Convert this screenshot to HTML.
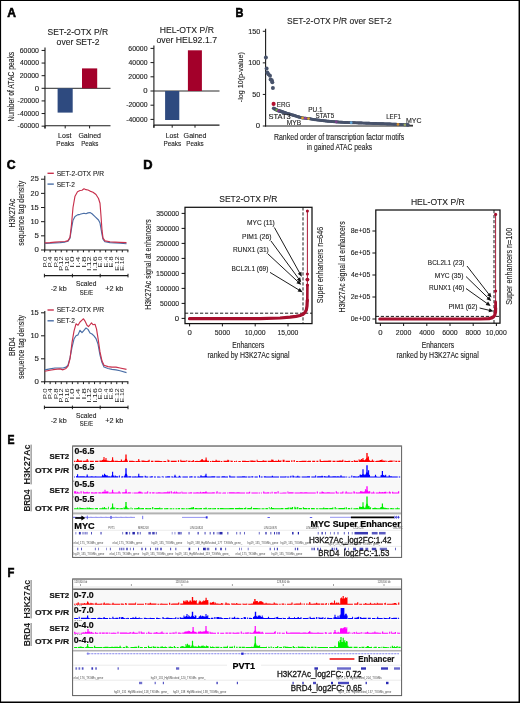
<!DOCTYPE html>
<html><head><meta charset="utf-8"><style>
html,body{margin:0;padding:0;background:#fff;}
svg{display:block;will-change:transform;}
svg text{font-family:"Liberation Sans", sans-serif;}
</style></head><body>
<svg width="520" height="703" viewBox="0 0 520 703">
<rect x="0.00" y="0.00" width="520.00" height="703.00" fill="#fff"/>
<text x="7.25" y="16.55" font-size="12.0" font-weight="bold" textLength="8.72" lengthAdjust="spacingAndGlyphs" fill="#000" stroke="#000" stroke-width="0.55">A</text>
<text x="235.52" y="16.75" font-size="12.0" font-weight="bold" textLength="7.93" lengthAdjust="spacingAndGlyphs" fill="#000" stroke="#000" stroke-width="0.55">B</text>
<text x="6.75" y="168.55" font-size="12.0" font-weight="bold" textLength="8.84" lengthAdjust="spacingAndGlyphs" fill="#000" stroke="#000" stroke-width="0.55">C</text>
<text x="143.39" y="169.35" font-size="12.0" font-weight="bold" textLength="9.30" lengthAdjust="spacingAndGlyphs" fill="#000" stroke="#000" stroke-width="0.55">D</text>
<text x="7.55" y="444.15" font-size="12.0" font-weight="bold" textLength="7.01" lengthAdjust="spacingAndGlyphs" fill="#000" stroke="#000" stroke-width="0.55">E</text>
<text x="7.50" y="576.75" font-size="12.0" font-weight="bold" textLength="6.86" lengthAdjust="spacingAndGlyphs" fill="#000" stroke="#000" stroke-width="0.55">F</text>
<text x="47.62" y="34.60" font-size="8.4" textLength="60.47" lengthAdjust="spacingAndGlyphs" fill="#1e1e1e" stroke="#1e1e1e" stroke-width="0.12">SET-2-OTX P/R</text>
<text x="56.64" y="45.00" font-size="8.4" textLength="42.78" lengthAdjust="spacingAndGlyphs" fill="#1e1e1e" stroke="#1e1e1e" stroke-width="0.12">over SET-2</text>
<line x1="45.00" y1="47.40" x2="45.00" y2="128.40" stroke="#1a1a1a" stroke-width="1.1"/>
<line x1="41.60" y1="50.44" x2="45.00" y2="50.44" stroke="#1a1a1a" stroke-width="1"/>
<text x="19.75" y="52.69" font-size="6.5" textLength="19.22" lengthAdjust="spacingAndGlyphs" fill="#1e1e1e" stroke="#1e1e1e" stroke-width="0.12">60000</text>
<line x1="41.60" y1="63.06" x2="45.00" y2="63.06" stroke="#1a1a1a" stroke-width="1"/>
<text x="19.94" y="65.31" font-size="6.5" textLength="19.02" lengthAdjust="spacingAndGlyphs" fill="#1e1e1e" stroke="#1e1e1e" stroke-width="0.12">40000</text>
<line x1="41.60" y1="75.68" x2="45.00" y2="75.68" stroke="#1a1a1a" stroke-width="1"/>
<text x="19.75" y="77.93" font-size="6.5" textLength="19.22" lengthAdjust="spacingAndGlyphs" fill="#1e1e1e" stroke="#1e1e1e" stroke-width="0.12">20000</text>
<line x1="41.60" y1="88.30" x2="45.00" y2="88.30" stroke="#1a1a1a" stroke-width="1"/>
<text x="34.68" y="90.55" font-size="6.5" textLength="4.33" lengthAdjust="spacingAndGlyphs" fill="#1e1e1e" stroke="#1e1e1e" stroke-width="0.12">0</text>
<line x1="41.60" y1="100.92" x2="45.00" y2="100.92" stroke="#1a1a1a" stroke-width="1"/>
<text x="17.60" y="103.17" font-size="6.5" textLength="21.37" lengthAdjust="spacingAndGlyphs" fill="#1e1e1e" stroke="#1e1e1e" stroke-width="0.12">-20000</text>
<line x1="41.60" y1="113.54" x2="45.00" y2="113.54" stroke="#1a1a1a" stroke-width="1"/>
<text x="17.60" y="115.79" font-size="6.5" textLength="21.37" lengthAdjust="spacingAndGlyphs" fill="#1e1e1e" stroke="#1e1e1e" stroke-width="0.12">-40000</text>
<line x1="41.60" y1="126.16" x2="45.00" y2="126.16" stroke="#1a1a1a" stroke-width="1"/>
<text x="17.60" y="128.41" font-size="6.5" textLength="21.37" lengthAdjust="spacingAndGlyphs" fill="#1e1e1e" stroke="#1e1e1e" stroke-width="0.12">-60000</text>
<line x1="45.00" y1="88.30" x2="110.50" y2="88.30" stroke="#2a2a2a" stroke-width="1"/>
<line x1="45.00" y1="125.80" x2="110.50" y2="125.80" stroke="#1a1a1a" stroke-width="1.1"/>
<line x1="45.00" y1="125.80" x2="45.00" y2="128.40" stroke="#1a1a1a" stroke-width="1"/>
<line x1="65.20" y1="125.80" x2="65.20" y2="128.40" stroke="#1a1a1a" stroke-width="1"/>
<line x1="89.60" y1="125.80" x2="89.60" y2="128.40" stroke="#1a1a1a" stroke-width="1"/>
<rect x="57.60" y="88.30" width="15.10" height="24.30" fill="#2e4a7f"/>
<rect x="82.00" y="68.40" width="15.20" height="19.90" fill="#a3002a"/>
<text x="58.07" y="137.90" font-size="7.0" textLength="13.28" lengthAdjust="spacingAndGlyphs" fill="#1e1e1e" stroke="#1e1e1e" stroke-width="0.12">Lost</text>
<text x="56.37" y="145.80" font-size="7.0" textLength="17.86" lengthAdjust="spacingAndGlyphs" fill="#1e1e1e" stroke="#1e1e1e" stroke-width="0.12">Peaks</text>
<text x="78.45" y="137.90" font-size="7.0" textLength="22.50" lengthAdjust="spacingAndGlyphs" fill="#1e1e1e" stroke="#1e1e1e" stroke-width="0.12">Gained</text>
<text x="81.19" y="145.80" font-size="7.0" textLength="17.23" lengthAdjust="spacingAndGlyphs" fill="#1e1e1e" stroke="#1e1e1e" stroke-width="0.12">Peaks</text>
<text x="159.69" y="32.50" font-size="8.5" textLength="54.21" lengthAdjust="spacingAndGlyphs" fill="#1e1e1e" stroke="#1e1e1e" stroke-width="0.12">HEL-OTX P/R</text>
<text x="156.43" y="42.60" font-size="8.5" textLength="60.60" lengthAdjust="spacingAndGlyphs" fill="#1e1e1e" stroke="#1e1e1e" stroke-width="0.12">over HEL92.1.7</text>
<line x1="153.90" y1="45.40" x2="153.90" y2="127.70" stroke="#1a1a1a" stroke-width="1.1"/>
<line x1="150.50" y1="48.40" x2="153.90" y2="48.40" stroke="#1a1a1a" stroke-width="1"/>
<text x="128.35" y="50.65" font-size="6.5" textLength="19.22" lengthAdjust="spacingAndGlyphs" fill="#1e1e1e" stroke="#1e1e1e" stroke-width="0.12">60000</text>
<line x1="150.50" y1="62.60" x2="153.90" y2="62.60" stroke="#1a1a1a" stroke-width="1"/>
<text x="128.54" y="64.85" font-size="6.5" textLength="19.02" lengthAdjust="spacingAndGlyphs" fill="#1e1e1e" stroke="#1e1e1e" stroke-width="0.12">40000</text>
<line x1="150.50" y1="76.80" x2="153.90" y2="76.80" stroke="#1a1a1a" stroke-width="1"/>
<text x="128.35" y="79.05" font-size="6.5" textLength="19.22" lengthAdjust="spacingAndGlyphs" fill="#1e1e1e" stroke="#1e1e1e" stroke-width="0.12">20000</text>
<line x1="150.50" y1="91.00" x2="153.90" y2="91.00" stroke="#1a1a1a" stroke-width="1"/>
<text x="143.28" y="93.25" font-size="6.5" textLength="4.33" lengthAdjust="spacingAndGlyphs" fill="#1e1e1e" stroke="#1e1e1e" stroke-width="0.12">0</text>
<line x1="150.50" y1="105.20" x2="153.90" y2="105.20" stroke="#1a1a1a" stroke-width="1"/>
<text x="126.20" y="107.45" font-size="6.5" textLength="21.37" lengthAdjust="spacingAndGlyphs" fill="#1e1e1e" stroke="#1e1e1e" stroke-width="0.12">-20000</text>
<line x1="150.50" y1="119.40" x2="153.90" y2="119.40" stroke="#1a1a1a" stroke-width="1"/>
<text x="126.20" y="121.65" font-size="6.5" textLength="21.37" lengthAdjust="spacingAndGlyphs" fill="#1e1e1e" stroke="#1e1e1e" stroke-width="0.12">-40000</text>
<line x1="153.90" y1="91.00" x2="219.50" y2="91.00" stroke="#2a2a2a" stroke-width="1"/>
<line x1="153.90" y1="125.10" x2="219.50" y2="125.10" stroke="#1a1a1a" stroke-width="1.1"/>
<line x1="153.90" y1="125.10" x2="153.90" y2="127.70" stroke="#1a1a1a" stroke-width="1"/>
<line x1="172.20" y1="125.10" x2="172.20" y2="127.70" stroke="#1a1a1a" stroke-width="1"/>
<line x1="195.00" y1="125.10" x2="195.00" y2="127.70" stroke="#1a1a1a" stroke-width="1"/>
<rect x="165.10" y="91.00" width="14.20" height="29.00" fill="#2e4a7f"/>
<rect x="187.90" y="50.30" width="14.00" height="40.70" fill="#a3002a"/>
<text x="165.74" y="137.90" font-size="7.0" textLength="12.91" lengthAdjust="spacingAndGlyphs" fill="#1e1e1e" stroke="#1e1e1e" stroke-width="0.12">Lost</text>
<text x="163.48" y="145.80" font-size="7.0" textLength="17.75" lengthAdjust="spacingAndGlyphs" fill="#1e1e1e" stroke="#1e1e1e" stroke-width="0.12">Peaks</text>
<text x="183.64" y="137.90" font-size="7.0" textLength="22.81" lengthAdjust="spacingAndGlyphs" fill="#1e1e1e" stroke="#1e1e1e" stroke-width="0.12">Gained</text>
<text x="186.29" y="145.80" font-size="7.0" textLength="17.34" lengthAdjust="spacingAndGlyphs" fill="#1e1e1e" stroke="#1e1e1e" stroke-width="0.12">Peaks</text>
<text x="14.00" y="121.54" font-size="8.4" stroke="#1e1e1e" stroke-width="0.12" textLength="69.68" lengthAdjust="spacingAndGlyphs" fill="#1e1e1e" transform="rotate(-90 14.00 121.54)">Number of ATAC peaks</text>
<text x="287.12" y="23.75" font-size="8.7" textLength="104.60" lengthAdjust="spacingAndGlyphs" fill="#1e1e1e" stroke="#1e1e1e" stroke-width="0.12">SET-2-OTX P/R over SET-2</text>
<line x1="265.60" y1="28.70" x2="265.60" y2="126.50" stroke="#1a1a1a" stroke-width="1.1"/>
<line x1="265.10" y1="126.00" x2="413.00" y2="126.00" stroke="#1a1a1a" stroke-width="1.1"/>
<line x1="262.80" y1="31.29" x2="265.60" y2="31.29" stroke="#1a1a1a" stroke-width="1"/>
<text x="248.19" y="33.54" font-size="6.5" textLength="11.99" lengthAdjust="spacingAndGlyphs" fill="#1e1e1e" stroke="#1e1e1e" stroke-width="0.12">150</text>
<line x1="262.80" y1="62.86" x2="265.60" y2="62.86" stroke="#1a1a1a" stroke-width="1"/>
<text x="248.19" y="65.11" font-size="6.5" textLength="11.99" lengthAdjust="spacingAndGlyphs" fill="#1e1e1e" stroke="#1e1e1e" stroke-width="0.12">100</text>
<line x1="262.80" y1="94.43" x2="265.60" y2="94.43" stroke="#1a1a1a" stroke-width="1"/>
<text x="252.17" y="96.68" font-size="6.5" textLength="8.01" lengthAdjust="spacingAndGlyphs" fill="#1e1e1e" stroke="#1e1e1e" stroke-width="0.12">50</text>
<line x1="262.80" y1="126.00" x2="265.60" y2="126.00" stroke="#1a1a1a" stroke-width="1"/>
<text x="255.88" y="128.25" font-size="6.5" textLength="4.33" lengthAdjust="spacingAndGlyphs" fill="#1e1e1e" stroke="#1e1e1e" stroke-width="0.12">0</text>
<text x="242.90" y="102.22" font-size="7.6" stroke="#1e1e1e" stroke-width="0.12" textLength="50.06" lengthAdjust="spacingAndGlyphs" fill="#1e1e1e" transform="rotate(-90 242.90 102.22)">-log 10(p-value)</text>
<circle cx="265.90" cy="57.40" r="2.00" fill="#48536b"/>
<circle cx="266.60" cy="68.60" r="2.00" fill="#48536b"/>
<circle cx="267.30" cy="72.50" r="2.00" fill="#48536b"/>
<circle cx="268.50" cy="74.30" r="2.00" fill="#48536b"/>
<circle cx="270.00" cy="75.70" r="2.00" fill="#48536b"/>
<circle cx="270.60" cy="79.50" r="2.00" fill="#48536b"/>
<circle cx="271.80" cy="80.20" r="2.00" fill="#48536b"/>
<circle cx="272.30" cy="82.20" r="2.00" fill="#48536b"/>
<circle cx="272.90" cy="88.00" r="2.00" fill="#48536b"/>
<circle cx="273.60" cy="103.90" r="2.05" fill="#b3102f"/>
<circle cx="273.60" cy="108.30" r="1.75" fill="#48536b"/>
<circle cx="274.30" cy="108.68" r="1.75" fill="#48536b"/>
<circle cx="275.00" cy="109.06" r="1.75" fill="#48536b"/>
<circle cx="275.70" cy="109.44" r="1.75" fill="#48536b"/>
<circle cx="276.40" cy="109.81" r="1.75" fill="#48536b"/>
<circle cx="277.10" cy="110.19" r="1.75" fill="#48536b"/>
<circle cx="277.80" cy="110.46" r="1.75" fill="#48536b"/>
<circle cx="278.50" cy="110.67" r="1.75" fill="#48536b"/>
<circle cx="279.20" cy="110.89" r="1.75" fill="#48536b"/>
<circle cx="279.90" cy="111.11" r="1.75" fill="#48536b"/>
<circle cx="280.60" cy="111.33" r="1.75" fill="#48536b"/>
<circle cx="281.30" cy="111.55" r="1.75" fill="#48536b"/>
<circle cx="282.00" cy="111.76" r="1.75" fill="#48536b"/>
<circle cx="282.70" cy="111.98" r="1.75" fill="#48536b"/>
<circle cx="283.40" cy="112.20" r="1.75" fill="#48536b"/>
<circle cx="284.10" cy="112.42" r="1.75" fill="#48536b"/>
<circle cx="284.80" cy="112.64" r="1.75" fill="#48536b"/>
<circle cx="285.50" cy="112.85" r="1.55" fill="#48536b"/>
<circle cx="286.20" cy="113.06" r="1.55" fill="#48536b"/>
<circle cx="286.90" cy="113.27" r="1.55" fill="#48536b"/>
<circle cx="287.60" cy="113.48" r="1.55" fill="#48536b"/>
<circle cx="288.30" cy="113.69" r="1.55" fill="#48536b"/>
<circle cx="289.00" cy="113.89" r="1.55" fill="#48536b"/>
<circle cx="289.70" cy="114.10" r="1.55" fill="#48536b"/>
<circle cx="290.40" cy="114.31" r="1.55" fill="#48536b"/>
<circle cx="291.10" cy="114.52" r="1.55" fill="#48536b"/>
<circle cx="291.80" cy="114.73" r="1.55" fill="#48536b"/>
<circle cx="292.50" cy="114.94" r="1.55" fill="#48536b"/>
<circle cx="293.20" cy="115.16" r="1.55" fill="#48536b"/>
<circle cx="293.90" cy="115.38" r="1.55" fill="#48536b"/>
<circle cx="294.60" cy="115.60" r="1.55" fill="#48536b"/>
<circle cx="295.30" cy="115.82" r="1.55" fill="#48536b"/>
<circle cx="296.00" cy="116.04" r="1.55" fill="#48536b"/>
<circle cx="296.70" cy="116.26" r="1.55" fill="#48536b"/>
<circle cx="297.40" cy="116.48" r="1.55" fill="#48536b"/>
<circle cx="298.10" cy="116.70" r="1.55" fill="#48536b"/>
<circle cx="298.80" cy="116.92" r="1.55" fill="#48536b"/>
<circle cx="299.50" cy="117.14" r="1.55" fill="#48536b"/>
<circle cx="300.20" cy="117.36" r="1.45" fill="#48536b"/>
<circle cx="300.90" cy="117.58" r="1.45" fill="#48536b"/>
<circle cx="301.60" cy="117.81" r="1.45" fill="#48536b"/>
<circle cx="302.30" cy="117.94" r="1.45" fill="#48536b"/>
<circle cx="303.00" cy="118.01" r="1.45" fill="#48536b"/>
<circle cx="303.70" cy="118.08" r="1.45" fill="#48536b"/>
<circle cx="304.40" cy="118.15" r="1.45" fill="#48536b"/>
<circle cx="305.10" cy="118.22" r="1.45" fill="#48536b"/>
<circle cx="305.80" cy="118.30" r="1.45" fill="#48536b"/>
<circle cx="306.50" cy="118.37" r="1.45" fill="#48536b"/>
<circle cx="307.20" cy="118.44" r="1.45" fill="#48536b"/>
<circle cx="307.90" cy="118.51" r="1.45" fill="#48536b"/>
<circle cx="308.60" cy="118.58" r="1.45" fill="#48536b"/>
<circle cx="309.30" cy="118.69" r="1.45" fill="#48536b"/>
<circle cx="310.00" cy="118.82" r="1.45" fill="#48536b"/>
<circle cx="310.70" cy="118.95" r="1.45" fill="#48536b"/>
<circle cx="311.40" cy="119.08" r="1.45" fill="#48536b"/>
<circle cx="312.10" cy="119.21" r="1.45" fill="#48536b"/>
<circle cx="312.80" cy="119.34" r="1.45" fill="#48536b"/>
<circle cx="313.50" cy="119.47" r="1.45" fill="#48536b"/>
<circle cx="314.20" cy="119.60" r="1.45" fill="#48536b"/>
<circle cx="314.90" cy="119.69" r="1.45" fill="#48536b"/>
<circle cx="315.60" cy="119.77" r="1.45" fill="#48536b"/>
<circle cx="316.30" cy="119.86" r="1.45" fill="#48536b"/>
<circle cx="317.00" cy="119.94" r="1.45" fill="#48536b"/>
<circle cx="317.70" cy="120.03" r="1.45" fill="#48536b"/>
<circle cx="318.40" cy="120.11" r="1.45" fill="#48536b"/>
<circle cx="319.10" cy="120.20" r="1.45" fill="#48536b"/>
<circle cx="319.80" cy="120.28" r="1.45" fill="#48536b"/>
<circle cx="320.50" cy="120.37" r="1.45" fill="#48536b"/>
<circle cx="321.20" cy="120.45" r="1.45" fill="#48536b"/>
<circle cx="321.90" cy="120.54" r="1.45" fill="#48536b"/>
<circle cx="322.60" cy="120.62" r="1.45" fill="#48536b"/>
<circle cx="323.30" cy="120.71" r="1.45" fill="#48536b"/>
<circle cx="324.00" cy="120.80" r="1.45" fill="#48536b"/>
<circle cx="324.70" cy="120.88" r="1.45" fill="#48536b"/>
<circle cx="325.40" cy="120.97" r="1.45" fill="#48536b"/>
<circle cx="326.10" cy="121.05" r="1.45" fill="#48536b"/>
<circle cx="326.80" cy="121.13" r="1.45" fill="#48536b"/>
<circle cx="327.50" cy="121.18" r="1.45" fill="#48536b"/>
<circle cx="328.20" cy="121.24" r="1.45" fill="#48536b"/>
<circle cx="328.90" cy="121.30" r="1.45" fill="#48536b"/>
<circle cx="329.60" cy="121.36" r="1.45" fill="#48536b"/>
<circle cx="330.30" cy="121.42" r="1.45" fill="#48536b"/>
<circle cx="331.00" cy="121.48" r="1.45" fill="#48536b"/>
<circle cx="331.70" cy="121.54" r="1.45" fill="#48536b"/>
<circle cx="332.40" cy="121.60" r="1.45" fill="#48536b"/>
<circle cx="333.10" cy="121.66" r="1.45" fill="#48536b"/>
<circle cx="333.80" cy="121.71" r="1.45" fill="#48536b"/>
<circle cx="334.50" cy="121.77" r="1.45" fill="#48536b"/>
<circle cx="335.20" cy="121.83" r="1.45" fill="#48536b"/>
<circle cx="335.90" cy="121.89" r="1.45" fill="#48536b"/>
<circle cx="336.60" cy="121.94" r="1.45" fill="#48536b"/>
<circle cx="337.30" cy="121.99" r="1.45" fill="#48536b"/>
<circle cx="338.00" cy="122.03" r="1.45" fill="#48536b"/>
<circle cx="338.70" cy="122.08" r="1.45" fill="#48536b"/>
<circle cx="339.40" cy="122.13" r="1.45" fill="#48536b"/>
<circle cx="340.10" cy="122.17" r="1.45" fill="#48536b"/>
<circle cx="340.80" cy="122.22" r="1.45" fill="#48536b"/>
<circle cx="341.50" cy="122.27" r="1.45" fill="#48536b"/>
<circle cx="342.20" cy="122.31" r="1.45" fill="#48536b"/>
<circle cx="342.90" cy="122.36" r="1.45" fill="#48536b"/>
<circle cx="343.60" cy="122.41" r="1.45" fill="#48536b"/>
<circle cx="344.30" cy="122.45" r="1.45" fill="#48536b"/>
<circle cx="345.00" cy="122.50" r="1.45" fill="#48536b"/>
<circle cx="345.70" cy="122.52" r="1.45" fill="#48536b"/>
<circle cx="346.40" cy="122.55" r="1.45" fill="#48536b"/>
<circle cx="347.10" cy="122.57" r="1.45" fill="#48536b"/>
<circle cx="347.80" cy="122.59" r="1.45" fill="#48536b"/>
<circle cx="348.50" cy="122.61" r="1.45" fill="#48536b"/>
<circle cx="349.20" cy="122.64" r="1.45" fill="#48536b"/>
<circle cx="349.90" cy="122.66" r="1.45" fill="#48536b"/>
<circle cx="350.60" cy="122.68" r="1.45" fill="#48536b"/>
<circle cx="351.30" cy="122.70" r="1.45" fill="#48536b"/>
<circle cx="352.00" cy="122.73" r="1.45" fill="#48536b"/>
<circle cx="352.70" cy="122.75" r="1.45" fill="#48536b"/>
<circle cx="353.40" cy="122.77" r="1.45" fill="#48536b"/>
<circle cx="354.10" cy="122.80" r="1.45" fill="#48536b"/>
<circle cx="354.80" cy="122.82" r="1.45" fill="#48536b"/>
<circle cx="355.50" cy="122.84" r="1.45" fill="#48536b"/>
<circle cx="356.20" cy="122.86" r="1.45" fill="#48536b"/>
<circle cx="356.90" cy="122.89" r="1.45" fill="#48536b"/>
<circle cx="357.60" cy="122.91" r="1.45" fill="#48536b"/>
<circle cx="358.30" cy="122.93" r="1.45" fill="#48536b"/>
<circle cx="359.00" cy="122.96" r="1.45" fill="#48536b"/>
<circle cx="359.70" cy="122.98" r="1.45" fill="#48536b"/>
<circle cx="360.40" cy="123.01" r="1.45" fill="#48536b"/>
<circle cx="361.10" cy="123.03" r="1.45" fill="#48536b"/>
<circle cx="361.80" cy="123.05" r="1.45" fill="#48536b"/>
<circle cx="362.50" cy="123.08" r="1.45" fill="#48536b"/>
<circle cx="363.20" cy="123.10" r="1.45" fill="#48536b"/>
<circle cx="363.90" cy="123.12" r="1.45" fill="#48536b"/>
<circle cx="364.60" cy="123.15" r="1.45" fill="#48536b"/>
<circle cx="365.30" cy="123.17" r="1.45" fill="#48536b"/>
<circle cx="366.00" cy="123.19" r="1.45" fill="#48536b"/>
<circle cx="366.70" cy="123.22" r="1.45" fill="#48536b"/>
<circle cx="367.40" cy="123.24" r="1.45" fill="#48536b"/>
<circle cx="368.10" cy="123.27" r="1.45" fill="#48536b"/>
<circle cx="368.80" cy="123.29" r="1.45" fill="#48536b"/>
<circle cx="369.50" cy="123.31" r="1.45" fill="#48536b"/>
<circle cx="370.20" cy="123.34" r="1.45" fill="#48536b"/>
<circle cx="370.90" cy="123.36" r="1.45" fill="#48536b"/>
<circle cx="371.60" cy="123.38" r="1.45" fill="#48536b"/>
<circle cx="372.30" cy="123.41" r="1.45" fill="#48536b"/>
<circle cx="373.00" cy="123.43" r="1.45" fill="#48536b"/>
<circle cx="373.70" cy="123.46" r="1.45" fill="#48536b"/>
<circle cx="374.40" cy="123.48" r="1.45" fill="#48536b"/>
<circle cx="375.10" cy="123.50" r="1.45" fill="#48536b"/>
<circle cx="375.80" cy="123.53" r="1.45" fill="#48536b"/>
<circle cx="376.50" cy="123.55" r="1.45" fill="#48536b"/>
<circle cx="377.20" cy="123.58" r="1.45" fill="#48536b"/>
<circle cx="377.90" cy="123.60" r="1.45" fill="#48536b"/>
<circle cx="378.60" cy="123.63" r="1.45" fill="#48536b"/>
<circle cx="379.30" cy="123.65" r="1.45" fill="#48536b"/>
<circle cx="380.00" cy="123.68" r="1.45" fill="#48536b"/>
<circle cx="380.70" cy="123.70" r="1.45" fill="#48536b"/>
<circle cx="381.40" cy="123.73" r="1.45" fill="#48536b"/>
<circle cx="382.10" cy="123.75" r="1.45" fill="#48536b"/>
<circle cx="382.80" cy="123.78" r="1.45" fill="#48536b"/>
<circle cx="383.50" cy="123.80" r="1.45" fill="#48536b"/>
<circle cx="384.20" cy="123.83" r="1.45" fill="#48536b"/>
<circle cx="384.90" cy="123.85" r="1.45" fill="#48536b"/>
<circle cx="385.60" cy="123.88" r="1.45" fill="#48536b"/>
<circle cx="386.30" cy="123.90" r="1.45" fill="#48536b"/>
<circle cx="387.00" cy="123.93" r="1.45" fill="#48536b"/>
<circle cx="387.70" cy="123.95" r="1.45" fill="#48536b"/>
<circle cx="388.40" cy="123.98" r="1.45" fill="#48536b"/>
<circle cx="389.10" cy="124.00" r="1.45" fill="#48536b"/>
<circle cx="389.80" cy="124.03" r="1.45" fill="#48536b"/>
<circle cx="390.50" cy="124.05" r="1.45" fill="#48536b"/>
<circle cx="391.20" cy="124.08" r="1.45" fill="#48536b"/>
<circle cx="391.90" cy="124.10" r="1.45" fill="#48536b"/>
<circle cx="392.60" cy="124.13" r="1.45" fill="#48536b"/>
<circle cx="393.30" cy="124.17" r="1.45" fill="#48536b"/>
<circle cx="394.00" cy="124.20" r="1.45" fill="#48536b"/>
<circle cx="394.70" cy="124.24" r="1.45" fill="#48536b"/>
<circle cx="395.40" cy="124.27" r="1.45" fill="#48536b"/>
<circle cx="396.10" cy="124.30" r="1.45" fill="#48536b"/>
<circle cx="396.80" cy="124.34" r="1.45" fill="#48536b"/>
<circle cx="397.50" cy="124.37" r="1.45" fill="#48536b"/>
<circle cx="398.20" cy="124.41" r="1.45" fill="#48536b"/>
<circle cx="398.90" cy="124.44" r="1.45" fill="#48536b"/>
<circle cx="399.60" cy="124.48" r="1.45" fill="#48536b"/>
<circle cx="400.30" cy="124.51" r="1.45" fill="#48536b"/>
<circle cx="401.00" cy="124.54" r="1.45" fill="#48536b"/>
<circle cx="401.70" cy="124.58" r="1.45" fill="#48536b"/>
<circle cx="402.40" cy="124.61" r="1.45" fill="#48536b"/>
<circle cx="403.10" cy="124.65" r="1.45" fill="#48536b"/>
<circle cx="403.80" cy="124.68" r="1.45" fill="#48536b"/>
<circle cx="404.50" cy="124.71" r="1.45" fill="#48536b"/>
<circle cx="405.20" cy="124.75" r="1.45" fill="#48536b"/>
<circle cx="405.90" cy="124.78" r="1.45" fill="#48536b"/>
<circle cx="406.60" cy="124.82" r="1.45" fill="#48536b"/>
<circle cx="407.30" cy="124.85" r="1.45" fill="#48536b"/>
<circle cx="408.00" cy="124.89" r="1.45" fill="#48536b"/>
<circle cx="276.80" cy="110.03" r="1.35" fill="#6fae3a"/>
<circle cx="278.40" cy="110.64" r="1.35" fill="#7b3f8c"/>
<circle cx="302.50" cy="117.96" r="1.35" fill="#e0a030"/>
<circle cx="305.50" cy="118.27" r="1.35" fill="#9b3f9c"/>
<circle cx="308.50" cy="118.57" r="1.35" fill="#d9a030"/>
<circle cx="336.20" cy="121.91" r="1.35" fill="#7a3f8a"/>
<circle cx="351.20" cy="122.70" r="1.35" fill="#62a8dc"/>
<circle cx="398.00" cy="124.40" r="1.35" fill="#d08a2a"/>
<circle cx="404.90" cy="124.73" r="1.35" fill="#9aa860"/>
<line x1="408.00" y1="125.30" x2="413.00" y2="125.30" stroke="#222" stroke-width="1"/>
<circle cx="407.80" cy="124.90" r="1.90" fill="#48536b"/>
<text x="276.79" y="107.00" font-size="7.1" textLength="13.58" lengthAdjust="spacingAndGlyphs" fill="#1e1e1e" stroke="#1e1e1e" stroke-width="0.12">ERG</text>
<text x="268.48" y="119.30" font-size="7.1" textLength="22.24" lengthAdjust="spacingAndGlyphs" fill="#1e1e1e" stroke="#1e1e1e" stroke-width="0.12">STAT3</text>
<text x="286.76" y="125.20" font-size="7.1" textLength="14.29" lengthAdjust="spacingAndGlyphs" fill="#1e1e1e" stroke="#1e1e1e" stroke-width="0.12">MYB</text>
<text x="308.27" y="112.10" font-size="7.1" textLength="14.24" lengthAdjust="spacingAndGlyphs" fill="#1e1e1e" stroke="#1e1e1e" stroke-width="0.12">PU.1</text>
<text x="315.53" y="118.30" font-size="7.1" textLength="18.62" lengthAdjust="spacingAndGlyphs" fill="#1e1e1e" stroke="#1e1e1e" stroke-width="0.12">STAT5</text>
<text x="386.20" y="119.30" font-size="7.1" textLength="14.71" lengthAdjust="spacingAndGlyphs" fill="#1e1e1e" stroke="#1e1e1e" stroke-width="0.12">LEF1</text>
<text x="406.03" y="122.70" font-size="7.1" textLength="15.54" lengthAdjust="spacingAndGlyphs" fill="#1e1e1e" stroke="#1e1e1e" stroke-width="0.12">MYC</text>
<text x="273.93" y="139.90" font-size="9.0" textLength="130.33" lengthAdjust="spacingAndGlyphs" fill="#1e1e1e" stroke="#1e1e1e" stroke-width="0.12">Ranked order of transcription factor motifs</text>
<text x="306.86" y="149.70" font-size="9.0" textLength="65.28" lengthAdjust="spacingAndGlyphs" fill="#1e1e1e" stroke="#1e1e1e" stroke-width="0.12">in gained ATAC peaks</text>
<line x1="44.80" y1="175.80" x2="44.80" y2="250.50" stroke="#1a1a1a" stroke-width="1.1"/>
<line x1="44.30" y1="250.00" x2="128.40" y2="250.00" stroke="#1a1a1a" stroke-width="1.1"/>
<line x1="41.00" y1="250.00" x2="44.80" y2="250.00" stroke="#1a1a1a" stroke-width="1"/>
<text x="34.44" y="252.20" font-size="6.6" textLength="4.36" lengthAdjust="spacingAndGlyphs" fill="#1e1e1e" stroke="#1e1e1e" stroke-width="0.12">0</text>
<line x1="41.00" y1="235.84" x2="44.80" y2="235.84" stroke="#1a1a1a" stroke-width="1"/>
<text x="34.43" y="238.04" font-size="6.6" textLength="4.40" lengthAdjust="spacingAndGlyphs" fill="#1e1e1e" stroke="#1e1e1e" stroke-width="0.12">5</text>
<line x1="41.00" y1="221.68" x2="44.80" y2="221.68" stroke="#1a1a1a" stroke-width="1"/>
<text x="30.43" y="223.88" font-size="6.6" textLength="8.37" lengthAdjust="spacingAndGlyphs" fill="#1e1e1e" stroke="#1e1e1e" stroke-width="0.12">10</text>
<line x1="41.00" y1="207.52" x2="44.80" y2="207.52" stroke="#1a1a1a" stroke-width="1"/>
<text x="30.43" y="209.72" font-size="6.6" textLength="8.39" lengthAdjust="spacingAndGlyphs" fill="#1e1e1e" stroke="#1e1e1e" stroke-width="0.12">15</text>
<line x1="41.00" y1="193.36" x2="44.80" y2="193.36" stroke="#1a1a1a" stroke-width="1"/>
<text x="30.63" y="195.56" font-size="6.6" textLength="8.16" lengthAdjust="spacingAndGlyphs" fill="#1e1e1e" stroke="#1e1e1e" stroke-width="0.12">20</text>
<line x1="41.00" y1="179.20" x2="44.80" y2="179.20" stroke="#1a1a1a" stroke-width="1"/>
<text x="30.63" y="181.40" font-size="6.6" textLength="8.18" lengthAdjust="spacingAndGlyphs" fill="#1e1e1e" stroke="#1e1e1e" stroke-width="0.12">25</text>
<line x1="44.60" y1="250.00" x2="44.60" y2="252.30" stroke="#1a1a1a" stroke-width="1.0"/>
<line x1="50.15" y1="250.00" x2="50.15" y2="252.30" stroke="#1a1a1a" stroke-width="1.0"/>
<line x1="55.70" y1="250.00" x2="55.70" y2="252.30" stroke="#1a1a1a" stroke-width="1.0"/>
<line x1="61.25" y1="250.00" x2="61.25" y2="252.30" stroke="#1a1a1a" stroke-width="1.0"/>
<line x1="66.80" y1="250.00" x2="66.80" y2="252.30" stroke="#1a1a1a" stroke-width="1.0"/>
<line x1="72.35" y1="250.00" x2="72.35" y2="252.30" stroke="#1a1a1a" stroke-width="1.0"/>
<line x1="77.90" y1="250.00" x2="77.90" y2="252.30" stroke="#1a1a1a" stroke-width="1.0"/>
<line x1="83.45" y1="250.00" x2="83.45" y2="252.30" stroke="#1a1a1a" stroke-width="1.0"/>
<line x1="89.00" y1="250.00" x2="89.00" y2="252.30" stroke="#1a1a1a" stroke-width="1.0"/>
<line x1="94.55" y1="250.00" x2="94.55" y2="252.30" stroke="#1a1a1a" stroke-width="1.0"/>
<line x1="100.10" y1="250.00" x2="100.10" y2="252.30" stroke="#1a1a1a" stroke-width="1.0"/>
<line x1="105.65" y1="250.00" x2="105.65" y2="252.30" stroke="#1a1a1a" stroke-width="1.0"/>
<line x1="111.20" y1="250.00" x2="111.20" y2="252.30" stroke="#1a1a1a" stroke-width="1.0"/>
<line x1="116.75" y1="250.00" x2="116.75" y2="252.30" stroke="#1a1a1a" stroke-width="1.0"/>
<line x1="122.30" y1="250.00" x2="122.30" y2="252.30" stroke="#1a1a1a" stroke-width="1.0"/>
<line x1="127.85" y1="250.00" x2="127.85" y2="252.30" stroke="#1a1a1a" stroke-width="1.0"/>
<text x="46.70" y="267.39" font-size="5.8" textLength="10.88" lengthAdjust="spacingAndGlyphs" fill="#222" transform="rotate(-90 46.70 267.39)">P.0</text>
<text x="52.25" y="267.39" font-size="5.8" textLength="10.80" lengthAdjust="spacingAndGlyphs" fill="#222" transform="rotate(-90 52.25 267.39)">P.4</text>
<text x="57.80" y="267.40" font-size="5.8" textLength="10.91" lengthAdjust="spacingAndGlyphs" fill="#222" transform="rotate(-90 57.80 267.40)">P.8</text>
<text x="63.35" y="270.77" font-size="5.8" textLength="14.32" lengthAdjust="spacingAndGlyphs" fill="#222" transform="rotate(-90 63.35 270.77)">P.12</text>
<text x="68.90" y="270.77" font-size="5.8" textLength="14.27" lengthAdjust="spacingAndGlyphs" fill="#222" transform="rotate(-90 68.90 270.77)">P.16</text>
<text x="74.45" y="267.74" font-size="5.8" textLength="11.34" lengthAdjust="spacingAndGlyphs" fill="#222" transform="rotate(-90 74.45 267.74)">I.0</text>
<text x="80.00" y="267.73" font-size="5.8" textLength="11.23" lengthAdjust="spacingAndGlyphs" fill="#222" transform="rotate(-90 80.00 267.73)">I.4</text>
<text x="85.55" y="267.75" font-size="5.8" textLength="11.39" lengthAdjust="spacingAndGlyphs" fill="#222" transform="rotate(-90 85.55 267.75)">I.8</text>
<text x="91.10" y="271.01" font-size="5.8" textLength="14.65" lengthAdjust="spacingAndGlyphs" fill="#222" transform="rotate(-90 91.10 271.01)">I.12</text>
<text x="96.65" y="271.01" font-size="5.8" textLength="14.59" lengthAdjust="spacingAndGlyphs" fill="#222" transform="rotate(-90 96.65 271.01)">I.16</text>
<text x="102.20" y="267.39" font-size="5.8" textLength="10.88" lengthAdjust="spacingAndGlyphs" fill="#222" transform="rotate(-90 102.20 267.39)">E.0</text>
<text x="107.75" y="267.39" font-size="5.8" textLength="10.80" lengthAdjust="spacingAndGlyphs" fill="#222" transform="rotate(-90 107.75 267.39)">E.4</text>
<text x="113.30" y="267.40" font-size="5.8" textLength="10.91" lengthAdjust="spacingAndGlyphs" fill="#222" transform="rotate(-90 113.30 267.40)">E.8</text>
<text x="118.85" y="270.77" font-size="5.8" textLength="14.32" lengthAdjust="spacingAndGlyphs" fill="#222" transform="rotate(-90 118.85 270.77)">E.12</text>
<text x="124.40" y="270.77" font-size="5.8" textLength="14.27" lengthAdjust="spacingAndGlyphs" fill="#222" transform="rotate(-90 124.40 270.77)">E.16</text>
<line x1="44.40" y1="275.60" x2="128.00" y2="275.60" stroke="#1a1a1a" stroke-width="1.1"/>
<line x1="44.40" y1="273.80" x2="44.40" y2="277.40" stroke="#1a1a1a" stroke-width="1"/>
<line x1="72.40" y1="273.80" x2="72.40" y2="277.40" stroke="#1a1a1a" stroke-width="1"/>
<line x1="100.20" y1="273.80" x2="100.20" y2="277.40" stroke="#1a1a1a" stroke-width="1"/>
<line x1="128.00" y1="273.80" x2="128.00" y2="277.40" stroke="#1a1a1a" stroke-width="1"/>
<text x="50.68" y="290.80" font-size="7.0" textLength="16.02" lengthAdjust="spacingAndGlyphs" fill="#1e1e1e" stroke="#1e1e1e" stroke-width="0.12">-2 kb</text>
<text x="76.10" y="286.40" font-size="7.0" textLength="20.33" lengthAdjust="spacingAndGlyphs" fill="#1e1e1e" stroke="#1e1e1e" stroke-width="0.12">Scaled</text>
<text x="79.73" y="294.60" font-size="7.0" textLength="13.52" lengthAdjust="spacingAndGlyphs" fill="#1e1e1e" stroke="#1e1e1e" stroke-width="0.12">SE/E</text>
<text x="105.24" y="290.80" font-size="7.0" textLength="18.06" lengthAdjust="spacingAndGlyphs" fill="#1e1e1e" stroke="#1e1e1e" stroke-width="0.12">+2 kb</text>
<line x1="47.50" y1="173.30" x2="53.80" y2="173.30" stroke="#c8304c" stroke-width="1.4"/>
<line x1="47.50" y1="184.10" x2="53.80" y2="184.10" stroke="#4a6ea6" stroke-width="1.4"/>
<text x="56.70" y="175.70" font-size="6.7" textLength="47.31" lengthAdjust="spacingAndGlyphs" fill="#1e1e1e" stroke="#1e1e1e" stroke-width="0.12">SET-2-OTX P/R</text>
<text x="56.71" y="186.50" font-size="6.7" textLength="18.11" lengthAdjust="spacingAndGlyphs" fill="#1e1e1e" stroke="#1e1e1e" stroke-width="0.12">SET-2</text>
<path d="M44.80,243.49 L50.00,243.20 L55.00,242.92 L60.00,242.64 L65.00,242.07 L68.00,241.22 L70.00,238.11 L71.50,228.76 L73.00,220.26 L75.00,216.58 L77.50,214.88 L80.00,214.32 L82.00,213.75 L84.00,213.18 L86.00,213.75 L88.00,212.90 L90.00,212.62 L92.00,213.75 L95.00,216.58 L98.50,219.98 L100.00,223.10 L101.00,228.76 L102.00,234.42 L103.00,239.24 L105.00,241.79 L110.00,242.64 L115.00,242.92 L120.00,243.20 L126.50,243.77" stroke="#4a6ea6" stroke-width="1.15" fill="none" stroke-linejoin="round"/>
<path d="M44.80,242.92 L50.00,242.64 L55.00,242.07 L60.00,241.79 L65.00,241.50 L68.00,240.65 L70.00,237.26 L71.50,224.51 L73.00,207.52 L75.00,196.19 L77.50,191.66 L80.00,190.53 L82.00,190.24 L84.00,188.83 L86.00,189.68 L88.00,189.96 L90.00,191.09 L93.00,192.23 L96.00,194.49 L98.50,198.46 L100.00,203.27 L101.00,216.02 L102.00,230.18 L103.00,238.11 L105.00,240.94 L110.00,241.79 L115.00,242.07 L120.00,242.35 L126.50,242.64" stroke="#c8304c" stroke-width="1.15" fill="none" stroke-linejoin="round"/>
<text x="15.20" y="227.56" font-size="8.6" stroke="#1e1e1e" stroke-width="0.12" textLength="28.94" lengthAdjust="spacingAndGlyphs" fill="#1e1e1e" transform="rotate(-90 15.20 227.56)">H3K27Ac</text>
<text x="24.40" y="245.69" font-size="8.6" stroke="#1e1e1e" stroke-width="0.12" textLength="64.80" lengthAdjust="spacingAndGlyphs" fill="#1e1e1e" transform="rotate(-90 24.40 245.69)">sequence tag density</text>
<line x1="44.80" y1="311.00" x2="44.80" y2="382.30" stroke="#1a1a1a" stroke-width="1.1"/>
<line x1="44.30" y1="381.80" x2="128.40" y2="381.80" stroke="#1a1a1a" stroke-width="1.1"/>
<line x1="41.00" y1="381.80" x2="44.80" y2="381.80" stroke="#1a1a1a" stroke-width="1"/>
<text x="34.44" y="384.00" font-size="6.6" textLength="4.36" lengthAdjust="spacingAndGlyphs" fill="#1e1e1e" stroke="#1e1e1e" stroke-width="0.12">0</text>
<line x1="41.00" y1="358.80" x2="44.80" y2="358.80" stroke="#1a1a1a" stroke-width="1"/>
<text x="34.43" y="361.00" font-size="6.6" textLength="4.40" lengthAdjust="spacingAndGlyphs" fill="#1e1e1e" stroke="#1e1e1e" stroke-width="0.12">5</text>
<line x1="41.00" y1="335.80" x2="44.80" y2="335.80" stroke="#1a1a1a" stroke-width="1"/>
<text x="30.43" y="338.00" font-size="6.6" textLength="8.37" lengthAdjust="spacingAndGlyphs" fill="#1e1e1e" stroke="#1e1e1e" stroke-width="0.12">10</text>
<line x1="41.00" y1="312.80" x2="44.80" y2="312.80" stroke="#1a1a1a" stroke-width="1"/>
<text x="30.43" y="315.00" font-size="6.6" textLength="8.39" lengthAdjust="spacingAndGlyphs" fill="#1e1e1e" stroke="#1e1e1e" stroke-width="0.12">15</text>
<line x1="44.60" y1="381.80" x2="44.60" y2="384.10" stroke="#1a1a1a" stroke-width="1.0"/>
<line x1="50.15" y1="381.80" x2="50.15" y2="384.10" stroke="#1a1a1a" stroke-width="1.0"/>
<line x1="55.70" y1="381.80" x2="55.70" y2="384.10" stroke="#1a1a1a" stroke-width="1.0"/>
<line x1="61.25" y1="381.80" x2="61.25" y2="384.10" stroke="#1a1a1a" stroke-width="1.0"/>
<line x1="66.80" y1="381.80" x2="66.80" y2="384.10" stroke="#1a1a1a" stroke-width="1.0"/>
<line x1="72.35" y1="381.80" x2="72.35" y2="384.10" stroke="#1a1a1a" stroke-width="1.0"/>
<line x1="77.90" y1="381.80" x2="77.90" y2="384.10" stroke="#1a1a1a" stroke-width="1.0"/>
<line x1="83.45" y1="381.80" x2="83.45" y2="384.10" stroke="#1a1a1a" stroke-width="1.0"/>
<line x1="89.00" y1="381.80" x2="89.00" y2="384.10" stroke="#1a1a1a" stroke-width="1.0"/>
<line x1="94.55" y1="381.80" x2="94.55" y2="384.10" stroke="#1a1a1a" stroke-width="1.0"/>
<line x1="100.10" y1="381.80" x2="100.10" y2="384.10" stroke="#1a1a1a" stroke-width="1.0"/>
<line x1="105.65" y1="381.80" x2="105.65" y2="384.10" stroke="#1a1a1a" stroke-width="1.0"/>
<line x1="111.20" y1="381.80" x2="111.20" y2="384.10" stroke="#1a1a1a" stroke-width="1.0"/>
<line x1="116.75" y1="381.80" x2="116.75" y2="384.10" stroke="#1a1a1a" stroke-width="1.0"/>
<line x1="122.30" y1="381.80" x2="122.30" y2="384.10" stroke="#1a1a1a" stroke-width="1.0"/>
<line x1="127.85" y1="381.80" x2="127.85" y2="384.10" stroke="#1a1a1a" stroke-width="1.0"/>
<text x="46.70" y="399.19" font-size="5.8" textLength="10.88" lengthAdjust="spacingAndGlyphs" fill="#222" transform="rotate(-90 46.70 399.19)">P.0</text>
<text x="52.25" y="399.19" font-size="5.8" textLength="10.80" lengthAdjust="spacingAndGlyphs" fill="#222" transform="rotate(-90 52.25 399.19)">P.4</text>
<text x="57.80" y="399.20" font-size="5.8" textLength="10.91" lengthAdjust="spacingAndGlyphs" fill="#222" transform="rotate(-90 57.80 399.20)">P.8</text>
<text x="63.35" y="402.57" font-size="5.8" textLength="14.32" lengthAdjust="spacingAndGlyphs" fill="#222" transform="rotate(-90 63.35 402.57)">P.12</text>
<text x="68.90" y="402.57" font-size="5.8" textLength="14.27" lengthAdjust="spacingAndGlyphs" fill="#222" transform="rotate(-90 68.90 402.57)">P.16</text>
<text x="74.45" y="399.54" font-size="5.8" textLength="11.34" lengthAdjust="spacingAndGlyphs" fill="#222" transform="rotate(-90 74.45 399.54)">I.0</text>
<text x="80.00" y="399.53" font-size="5.8" textLength="11.23" lengthAdjust="spacingAndGlyphs" fill="#222" transform="rotate(-90 80.00 399.53)">I.4</text>
<text x="85.55" y="399.55" font-size="5.8" textLength="11.39" lengthAdjust="spacingAndGlyphs" fill="#222" transform="rotate(-90 85.55 399.55)">I.8</text>
<text x="91.10" y="402.81" font-size="5.8" textLength="14.65" lengthAdjust="spacingAndGlyphs" fill="#222" transform="rotate(-90 91.10 402.81)">I.12</text>
<text x="96.65" y="402.81" font-size="5.8" textLength="14.59" lengthAdjust="spacingAndGlyphs" fill="#222" transform="rotate(-90 96.65 402.81)">I.16</text>
<text x="102.20" y="399.19" font-size="5.8" textLength="10.88" lengthAdjust="spacingAndGlyphs" fill="#222" transform="rotate(-90 102.20 399.19)">E.0</text>
<text x="107.75" y="399.19" font-size="5.8" textLength="10.80" lengthAdjust="spacingAndGlyphs" fill="#222" transform="rotate(-90 107.75 399.19)">E.4</text>
<text x="113.30" y="399.20" font-size="5.8" textLength="10.91" lengthAdjust="spacingAndGlyphs" fill="#222" transform="rotate(-90 113.30 399.20)">E.8</text>
<text x="118.85" y="402.57" font-size="5.8" textLength="14.32" lengthAdjust="spacingAndGlyphs" fill="#222" transform="rotate(-90 118.85 402.57)">E.12</text>
<text x="124.40" y="402.57" font-size="5.8" textLength="14.27" lengthAdjust="spacingAndGlyphs" fill="#222" transform="rotate(-90 124.40 402.57)">E.16</text>
<line x1="44.40" y1="407.40" x2="128.00" y2="407.40" stroke="#1a1a1a" stroke-width="1.1"/>
<line x1="44.40" y1="405.60" x2="44.40" y2="409.20" stroke="#1a1a1a" stroke-width="1"/>
<line x1="72.40" y1="405.60" x2="72.40" y2="409.20" stroke="#1a1a1a" stroke-width="1"/>
<line x1="100.20" y1="405.60" x2="100.20" y2="409.20" stroke="#1a1a1a" stroke-width="1"/>
<line x1="128.00" y1="405.60" x2="128.00" y2="409.20" stroke="#1a1a1a" stroke-width="1"/>
<text x="50.68" y="422.60" font-size="7.0" textLength="16.02" lengthAdjust="spacingAndGlyphs" fill="#1e1e1e" stroke="#1e1e1e" stroke-width="0.12">-2 kb</text>
<text x="76.10" y="418.20" font-size="7.0" textLength="20.33" lengthAdjust="spacingAndGlyphs" fill="#1e1e1e" stroke="#1e1e1e" stroke-width="0.12">Scaled</text>
<text x="79.73" y="426.40" font-size="7.0" textLength="13.52" lengthAdjust="spacingAndGlyphs" fill="#1e1e1e" stroke="#1e1e1e" stroke-width="0.12">SE/E</text>
<text x="105.24" y="422.60" font-size="7.0" textLength="18.06" lengthAdjust="spacingAndGlyphs" fill="#1e1e1e" stroke="#1e1e1e" stroke-width="0.12">+2 kb</text>
<line x1="47.50" y1="310.00" x2="53.80" y2="310.00" stroke="#c8304c" stroke-width="1.4"/>
<line x1="47.50" y1="320.80" x2="53.80" y2="320.80" stroke="#4a6ea6" stroke-width="1.4"/>
<text x="56.70" y="312.40" font-size="6.7" textLength="47.31" lengthAdjust="spacingAndGlyphs" fill="#1e1e1e" stroke="#1e1e1e" stroke-width="0.12">SET-2-OTX P/R</text>
<text x="56.71" y="323.20" font-size="6.7" textLength="18.11" lengthAdjust="spacingAndGlyphs" fill="#1e1e1e" stroke="#1e1e1e" stroke-width="0.12">SET-2</text>
<path d="M44.80,369.84 L50.00,368.92 L55.00,368.00 L60.00,368.00 L63.00,368.00 L66.00,367.08 L68.00,365.24 L70.00,357.88 L72.00,347.30 L74.00,339.02 L76.00,335.80 L78.00,334.88 L80.00,330.28 L82.00,332.58 L84.00,330.28 L86.00,327.98 L88.00,329.36 L90.00,333.04 L92.00,333.96 L94.00,335.80 L96.00,338.56 L98.00,344.08 L100.00,355.12 L102.00,362.48 L104.00,367.08 L108.00,368.46 L112.00,369.38 L116.00,369.84 L120.00,370.76 L126.50,372.60" stroke="#4a6ea6" stroke-width="1.15" fill="none" stroke-linejoin="round"/>
<path d="M44.80,371.22 L50.00,370.30 L55.00,369.38 L60.00,368.92 L63.00,369.84 L66.00,368.46 L68.00,366.16 L70.00,358.80 L72.00,342.70 L74.00,331.20 L76.00,323.84 L78.00,325.22 L80.00,322.00 L82.00,320.16 L83.50,318.78 L85.00,321.08 L87.00,325.22 L88.50,326.60 L90.00,324.76 L91.50,322.92 L93.00,324.76 L95.00,324.30 L96.50,328.90 L98.00,338.10 L100.00,351.90 L102.00,361.10 L104.00,365.24 L108.00,366.62 L112.00,367.08 L116.00,367.08 L120.00,368.00 L126.50,369.38" stroke="#c8304c" stroke-width="1.15" fill="none" stroke-linejoin="round"/>
<text x="15.20" y="356.08" font-size="8.6" stroke="#1e1e1e" stroke-width="0.12" textLength="18.78" lengthAdjust="spacingAndGlyphs" fill="#1e1e1e" transform="rotate(-90 15.20 356.08)">BRD4</text>
<text x="24.40" y="378.99" font-size="8.6" stroke="#1e1e1e" stroke-width="0.12" textLength="64.00" lengthAdjust="spacingAndGlyphs" fill="#1e1e1e" transform="rotate(-90 24.40 378.99)">sequence tag density</text>
<text x="219.21" y="202.20" font-size="8.6" textLength="58.18" lengthAdjust="spacingAndGlyphs" fill="#1e1e1e" stroke="#1e1e1e" stroke-width="0.12">SET2-OTX P/R</text>
<rect x="185.00" y="207.30" width="127.00" height="116.30" fill="none" stroke="#111" stroke-width="1.25"/>
<line x1="181.60" y1="318.40" x2="185.00" y2="318.40" stroke="#111" stroke-width="1"/>
<text x="174.88" y="320.85" font-size="7.1" textLength="4.33" lengthAdjust="spacingAndGlyphs" fill="#1e1e1e" stroke="#1e1e1e" stroke-width="0.12">0</text>
<line x1="181.60" y1="303.40" x2="185.00" y2="303.40" stroke="#111" stroke-width="1"/>
<text x="160.02" y="305.85" font-size="7.1" textLength="19.14" lengthAdjust="spacingAndGlyphs" fill="#1e1e1e" stroke="#1e1e1e" stroke-width="0.12">50000</text>
<line x1="181.60" y1="288.40" x2="185.00" y2="288.40" stroke="#111" stroke-width="1"/>
<text x="156.05" y="290.85" font-size="7.1" textLength="23.12" lengthAdjust="spacingAndGlyphs" fill="#1e1e1e" stroke="#1e1e1e" stroke-width="0.12">100000</text>
<line x1="181.60" y1="273.40" x2="185.00" y2="273.40" stroke="#111" stroke-width="1"/>
<text x="156.05" y="275.85" font-size="7.1" textLength="23.12" lengthAdjust="spacingAndGlyphs" fill="#1e1e1e" stroke="#1e1e1e" stroke-width="0.12">150000</text>
<line x1="181.60" y1="258.40" x2="185.00" y2="258.40" stroke="#111" stroke-width="1"/>
<text x="156.23" y="260.85" font-size="7.1" textLength="22.93" lengthAdjust="spacingAndGlyphs" fill="#1e1e1e" stroke="#1e1e1e" stroke-width="0.12">200000</text>
<line x1="181.60" y1="243.40" x2="185.00" y2="243.40" stroke="#111" stroke-width="1"/>
<text x="156.23" y="245.85" font-size="7.1" textLength="22.93" lengthAdjust="spacingAndGlyphs" fill="#1e1e1e" stroke="#1e1e1e" stroke-width="0.12">250000</text>
<line x1="181.60" y1="228.40" x2="185.00" y2="228.40" stroke="#111" stroke-width="1"/>
<text x="156.32" y="230.85" font-size="7.1" textLength="22.85" lengthAdjust="spacingAndGlyphs" fill="#1e1e1e" stroke="#1e1e1e" stroke-width="0.12">300000</text>
<line x1="181.60" y1="213.40" x2="185.00" y2="213.40" stroke="#111" stroke-width="1"/>
<text x="156.32" y="215.85" font-size="7.1" textLength="22.85" lengthAdjust="spacingAndGlyphs" fill="#1e1e1e" stroke="#1e1e1e" stroke-width="0.12">350000</text>
<line x1="189.60" y1="323.60" x2="189.60" y2="326.40" stroke="#111" stroke-width="1"/>
<text x="187.44" y="335.30" font-size="7.0" textLength="4.33" lengthAdjust="spacingAndGlyphs" fill="#1e1e1e" stroke="#1e1e1e" stroke-width="0.12">0</text>
<line x1="222.40" y1="323.60" x2="222.40" y2="326.40" stroke="#111" stroke-width="1"/>
<text x="214.68" y="335.30" font-size="7.0" textLength="15.43" lengthAdjust="spacingAndGlyphs" fill="#1e1e1e" stroke="#1e1e1e" stroke-width="0.12">5000</text>
<line x1="255.20" y1="323.60" x2="255.20" y2="326.40" stroke="#111" stroke-width="1"/>
<text x="244.63" y="335.30" font-size="7.0" textLength="20.89" lengthAdjust="spacingAndGlyphs" fill="#1e1e1e" stroke="#1e1e1e" stroke-width="0.12">10,000</text>
<line x1="288.00" y1="323.60" x2="288.00" y2="326.40" stroke="#111" stroke-width="1"/>
<text x="277.43" y="335.30" font-size="7.0" textLength="20.89" lengthAdjust="spacingAndGlyphs" fill="#1e1e1e" stroke="#1e1e1e" stroke-width="0.12">15,000</text>
<line x1="185.00" y1="313.20" x2="312.00" y2="313.20" stroke="#111" stroke-width="0.95" stroke-dasharray="3.2,1.8"/>
<line x1="303.00" y1="207.30" x2="303.00" y2="323.60" stroke="#111" stroke-width="0.95" stroke-dasharray="3.2,1.8"/>
<line x1="307.40" y1="211.00" x2="307.40" y2="290.00" stroke="#a60f2d" stroke-width="0.95"/>
<circle cx="307.40" cy="211.00" r="1.55" fill="#a60f2d"/>
<circle cx="307.40" cy="274.00" r="1.60" fill="#a60f2d"/>
<circle cx="307.40" cy="279.60" r="1.95" fill="#a60f2d"/>
<circle cx="307.40" cy="285.00" r="1.60" fill="#a60f2d"/>
<path d="M189.5,318.7 L260,318.6 L280,318.0 L290,317.2 L296,316.4 L300,315.5 L303,314.2 L305,312.5 L306.3,310 L307.0,306 L307.3,300" stroke="#a60f2d" stroke-width="3.2" fill="none" stroke-linecap="round" stroke-linejoin="round"/>
<path d="M307.3,301 L307.4,288 L307.4,285.5" stroke="#a60f2d" stroke-width="2.6" fill="none" stroke-linecap="round"/>
<line x1="274.40" y1="227.50" x2="299.81" y2="273.22" stroke="#111" stroke-width="0.95"/>
<polygon points="301.80,276.80 297.73,273.80 301.40,271.76" fill="#111"/>
<line x1="271.00" y1="241.00" x2="298.78" y2="278.89" stroke="#111" stroke-width="0.95"/>
<polygon points="301.20,282.20 296.79,279.73 300.17,277.25" fill="#111"/>
<line x1="268.00" y1="254.00" x2="298.19" y2="282.01" stroke="#111" stroke-width="0.95"/>
<polygon points="301.20,284.80 296.40,283.21 299.26,280.13" fill="#111"/>
<line x1="270.00" y1="272.40" x2="299.10" y2="290.07" stroke="#111" stroke-width="0.95"/>
<polygon points="302.60,292.20 297.58,291.61 299.76,288.02" fill="#111"/>
<text x="247.07" y="224.80" font-size="6.8" textLength="27.73" lengthAdjust="spacingAndGlyphs" fill="#1e1e1e" stroke="#1e1e1e" stroke-width="0.12">MYC (11)</text>
<text x="242.05" y="239.00" font-size="6.8" textLength="29.36" lengthAdjust="spacingAndGlyphs" fill="#1e1e1e" stroke="#1e1e1e" stroke-width="0.12">PIM1 (26)</text>
<text x="233.06" y="252.40" font-size="6.8" textLength="35.75" lengthAdjust="spacingAndGlyphs" fill="#1e1e1e" stroke="#1e1e1e" stroke-width="0.12">RUNX1 (31)</text>
<text x="231.47" y="271.40" font-size="6.8" textLength="36.94" lengthAdjust="spacingAndGlyphs" fill="#1e1e1e" stroke="#1e1e1e" stroke-width="0.12">BCL2L1 (69)</text>
<text x="323.20" y="303.33" font-size="8.6" stroke="#1e1e1e" stroke-width="0.12" textLength="76.64" lengthAdjust="spacingAndGlyphs" fill="#1e1e1e" transform="rotate(-90 323.20 303.33)">Super enhancers n=646</text>
<text x="150.80" y="309.76" font-size="8.2" stroke="#1e1e1e" stroke-width="0.12" textLength="90.41" lengthAdjust="spacingAndGlyphs" fill="#1e1e1e" transform="rotate(-90 150.80 309.76)">H3K27Ac signal at enhancers</text>
<text x="232.35" y="347.50" font-size="8.8" textLength="31.89" lengthAdjust="spacingAndGlyphs" fill="#1e1e1e" stroke="#1e1e1e" stroke-width="0.12">Enhancers</text>
<text x="207.54" y="358.00" font-size="8.8" textLength="81.93" lengthAdjust="spacingAndGlyphs" fill="#1e1e1e" stroke="#1e1e1e" stroke-width="0.12">ranked by H3K27Ac signal</text>
<text x="410.90" y="205.00" font-size="8.6" textLength="53.90" lengthAdjust="spacingAndGlyphs" fill="#1e1e1e" stroke="#1e1e1e" stroke-width="0.12">HEL-OTX P/R</text>
<rect x="375.80" y="210.00" width="124.20" height="113.20" fill="none" stroke="#111" stroke-width="1.25"/>
<line x1="372.40" y1="319.00" x2="375.80" y2="319.00" stroke="#111" stroke-width="1"/>
<text x="350.77" y="321.45" font-size="7.1" textLength="19.50" lengthAdjust="spacingAndGlyphs" fill="#1e1e1e" stroke="#1e1e1e" stroke-width="0.12">0e+00</text>
<line x1="372.40" y1="297.00" x2="375.80" y2="297.00" stroke="#111" stroke-width="1"/>
<text x="350.69" y="299.45" font-size="7.1" textLength="19.60" lengthAdjust="spacingAndGlyphs" fill="#1e1e1e" stroke="#1e1e1e" stroke-width="0.12">2e+05</text>
<line x1="372.40" y1="275.00" x2="375.80" y2="275.00" stroke="#111" stroke-width="1"/>
<text x="350.88" y="277.45" font-size="7.1" textLength="19.41" lengthAdjust="spacingAndGlyphs" fill="#1e1e1e" stroke="#1e1e1e" stroke-width="0.12">4e+05</text>
<line x1="372.40" y1="253.00" x2="375.80" y2="253.00" stroke="#111" stroke-width="1"/>
<text x="350.69" y="255.45" font-size="7.1" textLength="19.61" lengthAdjust="spacingAndGlyphs" fill="#1e1e1e" stroke="#1e1e1e" stroke-width="0.12">6e+05</text>
<line x1="372.40" y1="231.00" x2="375.80" y2="231.00" stroke="#111" stroke-width="1"/>
<text x="350.74" y="233.45" font-size="7.1" textLength="19.55" lengthAdjust="spacingAndGlyphs" fill="#1e1e1e" stroke="#1e1e1e" stroke-width="0.12">8e+05</text>
<line x1="380.40" y1="323.20" x2="380.40" y2="326.00" stroke="#111" stroke-width="1"/>
<text x="378.24" y="335.30" font-size="7.0" textLength="4.33" lengthAdjust="spacingAndGlyphs" fill="#1e1e1e" stroke="#1e1e1e" stroke-width="0.12">0</text>
<line x1="403.60" y1="323.20" x2="403.60" y2="326.00" stroke="#111" stroke-width="1"/>
<text x="395.81" y="335.30" font-size="7.0" textLength="15.50" lengthAdjust="spacingAndGlyphs" fill="#1e1e1e" stroke="#1e1e1e" stroke-width="0.12">2000</text>
<line x1="426.80" y1="323.20" x2="426.80" y2="326.00" stroke="#111" stroke-width="1"/>
<text x="419.20" y="335.30" font-size="7.0" textLength="15.31" lengthAdjust="spacingAndGlyphs" fill="#1e1e1e" stroke="#1e1e1e" stroke-width="0.12">4000</text>
<line x1="450.00" y1="323.20" x2="450.00" y2="326.00" stroke="#111" stroke-width="1"/>
<text x="442.21" y="335.30" font-size="7.0" textLength="15.51" lengthAdjust="spacingAndGlyphs" fill="#1e1e1e" stroke="#1e1e1e" stroke-width="0.12">6000</text>
<line x1="473.20" y1="323.20" x2="473.20" y2="326.00" stroke="#111" stroke-width="1"/>
<text x="465.46" y="335.30" font-size="7.0" textLength="15.45" lengthAdjust="spacingAndGlyphs" fill="#1e1e1e" stroke="#1e1e1e" stroke-width="0.12">8000</text>
<line x1="496.40" y1="323.20" x2="496.40" y2="326.00" stroke="#111" stroke-width="1"/>
<text x="485.83" y="335.30" font-size="7.0" textLength="20.89" lengthAdjust="spacingAndGlyphs" fill="#1e1e1e" stroke="#1e1e1e" stroke-width="0.12">10,000</text>
<line x1="375.80" y1="316.40" x2="500.00" y2="316.40" stroke="#111" stroke-width="0.95" stroke-dasharray="3.2,1.8"/>
<line x1="494.00" y1="210.00" x2="494.00" y2="323.20" stroke="#111" stroke-width="0.95" stroke-dasharray="3.2,1.8"/>
<line x1="495.60" y1="214.40" x2="495.60" y2="303.00" stroke="#a60f2d" stroke-width="0.95"/>
<circle cx="495.60" cy="214.40" r="1.55" fill="#a60f2d"/>
<circle cx="495.60" cy="291.00" r="1.55" fill="#a60f2d"/>
<path d="M379.8,319.0 L480,319.0 L489,318.6 L492.5,317.6 L494.6,315.6 L495.5,312 L495.6,308" stroke="#a60f2d" stroke-width="3.2" fill="none" stroke-linecap="round" stroke-linejoin="round"/>
<path d="M495.6,309 L495.6,302" stroke="#a60f2d" stroke-width="2.8" fill="none" stroke-linecap="round"/>
<line x1="467.00" y1="266.00" x2="488.99" y2="294.36" stroke="#111" stroke-width="0.95"/>
<polygon points="491.50,297.60 487.02,295.25 490.34,292.68" fill="#111"/>
<line x1="466.00" y1="276.50" x2="488.26" y2="298.14" stroke="#111" stroke-width="0.95"/>
<polygon points="491.20,301.00 486.44,299.30 489.37,296.29" fill="#111"/>
<line x1="466.00" y1="288.50" x2="487.26" y2="303.62" stroke="#111" stroke-width="0.95"/>
<polygon points="490.60,306.00 485.63,305.04 488.07,301.62" fill="#111"/>
<line x1="479.60" y1="308.00" x2="489.51" y2="310.35" stroke="#111" stroke-width="0.95"/>
<polygon points="493.50,311.30 488.54,312.28 489.51,308.19" fill="#111"/>
<text x="427.87" y="264.80" font-size="6.8" textLength="36.53" lengthAdjust="spacingAndGlyphs" fill="#1e1e1e" stroke="#1e1e1e" stroke-width="0.12">BCL2L1 (23)</text>
<text x="434.85" y="278.00" font-size="6.8" textLength="28.56" lengthAdjust="spacingAndGlyphs" fill="#1e1e1e" stroke="#1e1e1e" stroke-width="0.12">MYC (35)</text>
<text x="429.07" y="289.80" font-size="6.8" textLength="35.33" lengthAdjust="spacingAndGlyphs" fill="#1e1e1e" stroke="#1e1e1e" stroke-width="0.12">RUNX1 (46)</text>
<text x="448.46" y="309.00" font-size="6.8" textLength="28.95" lengthAdjust="spacingAndGlyphs" fill="#1e1e1e" stroke="#1e1e1e" stroke-width="0.12">PIM1 (62)</text>
<text x="511.60" y="304.73" font-size="8.6" stroke="#1e1e1e" stroke-width="0.12" textLength="77.01" lengthAdjust="spacingAndGlyphs" fill="#1e1e1e" transform="rotate(-90 511.60 304.73)">Super enhancers n=100</text>
<text x="345.20" y="312.57" font-size="8.2" stroke="#1e1e1e" stroke-width="0.12" textLength="91.22" lengthAdjust="spacingAndGlyphs" fill="#1e1e1e" transform="rotate(-90 345.20 312.57)">H3K27Ac signal at enhancers</text>
<text x="421.64" y="347.60" font-size="8.8" textLength="32.40" lengthAdjust="spacingAndGlyphs" fill="#1e1e1e" stroke="#1e1e1e" stroke-width="0.12">Enhancers</text>
<text x="396.54" y="358.40" font-size="8.8" textLength="82.18" lengthAdjust="spacingAndGlyphs" fill="#1e1e1e" stroke="#1e1e1e" stroke-width="0.12">ranked by H3K27Ac signal</text>
<rect x="72.60" y="446.00" width="329.00" height="111.40" fill="#fff"/>
<rect x="73.10" y="447.40" width="328.00" height="65.00" fill="#f8f8f8"/>
<line x1="72.60" y1="462.50" x2="401.60" y2="462.50" stroke="#ffffff" stroke-width="0.9"/>
<line x1="72.60" y1="478.10" x2="401.60" y2="478.10" stroke="#ffffff" stroke-width="0.9"/>
<line x1="72.60" y1="494.00" x2="401.60" y2="494.00" stroke="#ffffff" stroke-width="0.9"/>
<path d="M74.10,461.90v-1.13h1.00v1.13zM75.70,461.90v-1.20h2.00v1.20zM77.70,461.90v-2.25h1.00v2.25zM78.70,461.90v-1.18h0.80v1.18zM79.50,461.90v-1.28h2.50v1.28zM82.60,461.90v-1.12h3.00v1.12zM85.60,461.90v-1.29h1.00v1.29zM86.60,461.90v-1.28h2.00v1.28zM89.80,461.90v-1.20h1.00v1.20zM90.80,461.90v-1.24h2.00v1.24zM92.80,461.90v-1.15h1.00v1.15zM95.00,461.90v-1.26h1.50v1.26zM96.50,461.90v-1.10h2.00v1.10zM99.40,461.90v-1.29h2.50v1.29zM101.90,461.90v-1.72h1.20v1.72zM103.10,461.90v-1.17h2.00v1.17zM105.10,461.90v-2.10h1.20v2.10zM106.90,461.90v-1.24h2.50v1.24zM109.40,461.90v-0.92h2.00v0.92zM111.40,461.90v-1.13h2.50v1.13zM114.50,461.90v-1.21h0.80v1.21zM115.30,461.90v-1.06h1.00v1.06zM116.30,461.90v-1.08h1.50v1.08zM117.80,461.90v-0.90h3.00v0.90zM120.80,461.90v-2.20h1.20v2.20zM122.60,461.90v-1.25h2.00v1.25zM125.80,461.90v-1.09h2.00v1.09zM129.00,461.90v-1.15h2.50v1.15zM131.50,461.90v-1.22h0.80v1.22zM132.30,461.90v-1.24h1.00v1.24zM133.30,461.90v-0.91h1.50v0.91zM135.40,461.90v-0.91h2.00v0.91zM138.00,461.90v-0.97h2.50v0.97zM141.40,461.90v-1.28h2.50v1.28zM143.90,461.90v-1.08h1.50v1.08zM145.40,461.90v-1.02h0.80v1.02zM146.20,461.90v-0.94h1.50v0.94zM147.70,461.90v-1.29h1.00v1.29zM148.70,461.90v-2.15h1.00v2.15zM150.90,461.90v-1.17h2.50v1.17zM154.60,461.90v-1.11h3.00v1.11zM157.60,461.90v-1.17h2.00v1.17zM159.60,461.90v-0.92h2.00v0.92zM161.60,461.90v-1.02h0.80v1.02zM163.30,461.90v-0.96h3.00v0.96zM167.50,461.90v-2.31h0.80v2.31zM168.30,461.90v-1.68h1.20v1.68zM170.70,461.90v-1.26h3.00v1.26zM173.70,461.90v-1.06h3.00v1.06zM177.90,461.90v-1.68h1.20v1.68zM180.30,461.90v-2.11h1.00v2.11zM181.30,461.90v-1.04h2.50v1.04zM183.80,461.90v-1.21h2.00v1.21zM186.40,461.90v-1.98h0.80v1.98zM188.10,461.90v-1.10h2.50v1.10zM191.20,461.90v-0.99h1.50v0.99zM192.70,461.90v-2.00h1.20v2.00zM194.50,461.90v-0.93h2.00v0.93zM196.50,461.90v-1.04h1.00v1.04zM197.50,461.90v-0.93h2.00v0.93zM199.50,461.90v-1.05h1.50v1.05zM201.00,461.90v-1.08h0.80v1.08zM201.80,461.90v-0.90h1.50v0.90zM203.90,461.90v-0.98h0.80v0.98zM204.70,461.90v-1.72h1.00v1.72zM205.70,461.90v-1.07h0.80v1.07zM206.50,461.90v-1.26h2.50v1.26zM209.90,461.90v-0.94h1.50v0.94zM212.00,461.90v-1.19h1.50v1.19zM213.50,461.90v-0.93h2.00v0.93zM215.50,461.90v-2.06h1.20v2.06zM216.70,461.90v-1.25h2.50v1.25zM219.20,461.90v-1.12h1.00v1.12zM220.80,461.90v-0.94h1.50v0.94zM223.50,461.90v-1.04h3.00v1.04zM226.50,461.90v-1.03h0.80v1.03zM227.30,461.90v-2.05h1.20v2.05zM228.50,461.90v-1.72h0.80v1.72zM230.50,461.90v-1.51h0.80v1.51zM231.30,461.90v-1.10h1.50v1.10zM234.00,461.90v-0.93h1.50v0.93zM236.10,461.90v-1.23h1.00v1.23zM238.30,461.90v-1.02h2.50v1.02zM242.00,461.90v-1.21h0.80v1.21zM242.80,461.90v-1.26h3.00v1.26zM245.80,461.90v-0.98h3.00v0.98zM248.80,461.90v-1.19h0.80v1.19zM250.20,461.90v-1.29h3.00v1.29zM253.20,461.90v-1.08h2.50v1.08zM256.60,461.90v-2.08h1.00v2.08zM257.60,461.90v-0.91h2.50v0.91zM260.10,461.90v-0.95h2.50v0.95zM262.60,461.90v-1.58h1.20v1.58zM263.80,461.90v-1.11h1.00v1.11zM264.80,461.90v-1.27h2.00v1.27zM267.70,461.90v-1.17h2.00v1.17zM269.70,461.90v-1.12h1.50v1.12zM271.20,461.90v-2.33h1.20v2.33zM272.40,461.90v-2.19h1.20v2.19zM273.60,461.90v-1.02h1.50v1.02zM275.10,461.90v-1.18h1.00v1.18zM276.10,461.90v-1.26h0.80v1.26zM276.90,461.90v-0.96h1.00v0.96zM277.90,461.90v-2.11h1.20v2.11zM279.10,461.90v-1.05h1.50v1.05zM280.60,461.90v-1.73h0.80v1.73zM282.60,461.90v-2.20h0.80v2.20zM283.40,461.90v-2.27h1.20v2.27zM285.50,461.90v-1.06h2.00v1.06zM287.50,461.90v-1.26h2.50v1.26zM291.20,461.90v-1.77h1.20v1.77zM293.60,461.90v-1.89h1.20v1.89zM296.00,461.90v-1.00h2.50v1.00zM299.10,461.90v-0.98h2.50v0.98zM301.60,461.90v-1.08h3.00v1.08zM304.60,461.90v-1.12h1.00v1.12zM305.60,461.90v-1.13h1.00v1.13zM307.20,461.90v-0.95h0.80v0.95zM308.00,461.90v-1.20h3.00v1.20zM312.20,461.90v-1.13h1.50v1.13zM313.70,461.90v-1.20h1.50v1.20zM316.40,461.90v-1.04h2.00v1.04zM319.60,461.90v-2.33h1.20v2.33zM320.80,461.90v-0.90h2.50v0.90zM323.30,461.90v-1.23h3.00v1.23zM326.30,461.90v-1.14h2.00v1.14zM328.30,461.90v-1.30h3.00v1.30zM332.50,461.90v-1.11h3.00v1.11zM336.40,461.90v-1.07h2.50v1.07zM338.90,461.90v-1.29h2.50v1.29zM341.40,461.90v-1.10h0.80v1.10zM342.20,461.90v-2.15h1.20v2.15zM344.30,461.90v-1.24h1.50v1.24zM345.80,461.90v-0.90h2.50v0.90zM348.30,461.90v-1.25h2.00v1.25zM351.20,461.90v-0.97h2.00v0.97zM353.80,461.90v-1.56h1.20v1.56zM355.00,461.90v-1.10h1.00v1.10zM356.00,461.90v-1.15h2.00v1.15zM359.20,461.90v-0.99h1.00v0.99zM361.40,461.90v-1.16h2.50v1.16zM363.90,461.90v-0.97h0.80v0.97zM364.70,461.90v-1.01h2.50v1.01zM368.40,461.90v-0.97h2.00v0.97zM370.40,461.90v-1.19h1.50v1.19zM371.90,461.90v-2.31h1.00v2.31zM372.90,461.90v-1.27h1.50v1.27zM375.30,461.90v-0.93h1.00v0.93zM376.30,461.90v-1.08h2.50v1.08zM378.80,461.90v-1.28h2.50v1.28zM381.90,461.90v-1.08h3.00v1.08zM384.90,461.90v-1.19h0.80v1.19zM386.30,461.90v-1.06h1.00v1.06zM387.90,461.90v-0.92h0.80v0.92zM388.70,461.90v-1.17h1.00v1.17zM389.70,461.90v-1.29h3.00v1.29zM393.60,461.90v-1.70h0.80v1.70zM395.30,461.90v-1.20h2.00v1.20zM398.20,461.90v-1.12h2.00v1.12zM102.00,461.90v-2.02h0.9v2.02zM102.80,461.90v-2.49h0.9v2.49zM103.60,461.90v-1.72h0.9v1.72zM104.40,461.90v-1.93h0.9v1.93zM105.20,461.90v-1.66h0.9v1.66zM106.00,461.90v-1.53h0.9v1.53zM106.80,461.90v-1.51h0.9v1.51zM200.50,461.90v-1.87h0.9v1.87zM201.30,461.90v-2.44h0.9v2.44zM202.10,461.90v-2.39h0.9v2.39zM202.90,461.90v-1.60h0.9v1.60zM203.70,461.90v-1.47h0.9v1.47zM204.50,461.90v-1.42h0.9v1.42zM205.30,461.90v-2.35h0.9v2.35zM206.10,461.90v-2.10h0.9v2.10zM358.60,461.90v-2.69h0.9v2.69zM359.40,461.90v-1.55h0.9v1.55zM360.20,461.90v-2.08h0.9v2.08zM361.00,461.90v-2.81h0.9v2.81zM361.80,461.90v-2.31h0.9v2.31zM362.60,461.90v-2.35h0.9v2.35zM363.40,461.90v-1.88h0.9v1.88zM364.20,461.90v-1.62h0.9v1.62zM365.00,461.90v-2.48h0.9v2.48zM365.80,461.90v-1.96h0.9v1.96zM366.60,461.90v-1.52h0.9v1.52zM367.40,461.90v-2.31h0.9v2.31zM368.20,461.90v-2.29h0.9v2.29zM369.00,461.90v-1.69h0.9v1.69zM379.90,461.90v-1.93h0.9v1.93zM380.70,461.90v-1.78h0.9v1.78zM381.50,461.90v-1.43h0.9v1.43zM382.30,461.90v-1.19h0.9v1.19zM383.10,461.90v-1.50h0.9v1.50zM383.90,461.90v-1.13h0.9v1.13zM384.70,461.90v-1.28h0.9v1.28zM75.65,461.90L77.05,460.48L77.05,459.10L78.15,459.10L78.15,460.48L79.55,461.90zM85.25,461.90L86.65,460.48L86.65,459.10L87.75,459.10L87.75,460.48L89.15,461.90zM102.05,461.90L103.45,459.53L103.45,457.00L104.55,457.00L104.55,459.53L105.95,461.90zM104.05,461.90L105.45,460.03L105.45,458.10L106.55,458.10L106.55,460.03L107.95,461.90zM110.65,461.90L112.05,459.62L112.05,457.20L113.15,457.20L113.15,459.62L114.55,461.90zM119.45,461.90L120.85,460.70L120.85,459.60L121.95,459.60L121.95,460.70L123.35,461.90zM123.92,461.90L125.33,458.45L125.33,454.60L126.67,454.60L126.67,458.45L128.07,461.90zM136.80,461.90L138.20,460.48L138.20,459.10L139.30,459.10L139.30,460.48L140.70,461.90zM204.15,461.90L205.55,459.80L205.55,457.60L206.65,457.60L206.65,459.80L208.05,461.90zM200.05,461.90L201.45,460.48L201.45,459.10L202.55,459.10L202.55,460.48L203.95,461.90zM361.05,461.90L362.45,459.94L362.45,457.90L363.55,457.90L363.55,459.94L364.95,461.90zM364.93,461.90L366.32,457.69L366.32,452.90L367.68,452.90L367.68,457.69L369.07,461.90zM366.45,461.90L367.85,459.35L367.85,456.60L368.95,456.60L368.95,459.35L370.35,461.90zM380.05,461.90L381.45,460.61L381.45,459.40L382.55,459.40L382.55,460.61L383.95,461.90z" fill="#ff0000"/>
<path d="M74.10,477.55v-0.94h0.80v0.94zM76.10,477.55v-1.53h1.20v1.53zM77.30,477.55v-1.16h2.00v1.16zM79.30,477.55v-1.28h2.50v1.28zM81.80,477.55v-1.26h1.50v1.26zM83.30,477.55v-1.26h1.50v1.26zM84.80,477.55v-1.12h1.00v1.12zM86.70,477.55v-0.95h1.00v0.95zM87.70,477.55v-1.12h3.00v1.12zM90.70,477.55v-1.19h2.00v1.19zM92.70,477.55v-1.04h2.50v1.04zM95.20,477.55v-1.28h1.00v1.28zM96.20,477.55v-1.11h3.00v1.11zM99.20,477.55v-1.11h2.50v1.11zM101.70,477.55v-1.26h2.00v1.26zM103.70,477.55v-1.19h2.50v1.19zM107.10,477.55v-1.23h3.00v1.23zM110.10,477.55v-1.02h2.00v1.02zM112.10,477.55v-1.12h2.50v1.12zM114.60,477.55v-1.96h1.20v1.96zM115.80,477.55v-1.25h2.50v1.25zM118.90,477.55v-2.02h1.00v2.02zM121.10,477.55v-1.17h1.00v1.17zM122.10,477.55v-1.24h1.00v1.24zM123.70,477.55v-1.26h2.00v1.26zM126.60,477.55v-1.60h1.00v1.60zM128.20,477.55v-1.27h3.00v1.27zM131.80,477.55v-0.97h3.00v0.97zM134.80,477.55v-1.22h0.80v1.22zM135.60,477.55v-1.04h0.80v1.04zM136.40,477.55v-1.01h0.80v1.01zM138.40,477.55v-1.20h2.50v1.20zM140.90,477.55v-1.18h2.50v1.18zM144.60,477.55v-1.90h1.20v1.90zM145.80,477.55v-1.11h1.00v1.11zM146.80,477.55v-0.96h1.50v0.96zM149.50,477.55v-1.16h2.00v1.16zM151.50,477.55v-1.65h1.20v1.65zM153.90,477.55v-1.10h1.00v1.10zM154.90,477.55v-0.99h1.00v0.99zM157.10,477.55v-1.15h1.00v1.15zM158.10,477.55v-1.17h1.50v1.17zM159.60,477.55v-0.91h1.00v0.91zM161.80,477.55v-1.66h0.80v1.66zM163.20,477.55v-1.11h0.80v1.11zM165.20,477.55v-0.98h2.00v0.98zM167.20,477.55v-1.22h3.00v1.22zM171.40,477.55v-1.25h0.80v1.25zM172.20,477.55v-1.17h0.80v1.17zM173.60,477.55v-1.05h2.50v1.05zM176.10,477.55v-0.91h1.50v0.91zM178.50,477.55v-1.24h1.00v1.24zM180.40,477.55v-1.06h0.80v1.06zM182.40,477.55v-0.93h2.50v0.93zM184.90,477.55v-0.93h3.00v0.93zM189.10,477.55v-1.06h1.50v1.06zM190.60,477.55v-1.26h2.00v1.26zM193.80,477.55v-1.16h1.50v1.16zM195.30,477.55v-1.15h0.80v1.15zM197.30,477.55v-1.02h2.00v1.02zM200.20,477.55v-1.09h1.50v1.09zM201.70,477.55v-1.22h3.00v1.22zM204.70,477.55v-2.04h1.20v2.04zM205.90,477.55v-1.17h3.00v1.17zM208.90,477.55v-0.94h2.50v0.94zM211.40,477.55v-1.22h1.00v1.22zM212.40,477.55v-1.30h3.00v1.30zM216.30,477.55v-0.99h2.00v0.99zM218.30,477.55v-0.97h2.00v0.97zM221.20,477.55v-1.03h0.80v1.03zM222.00,477.55v-1.26h1.00v1.26zM223.00,477.55v-1.25h2.00v1.25zM225.00,477.55v-0.96h3.00v0.96zM229.20,477.55v-1.96h1.20v1.96zM230.40,477.55v-1.00h2.00v1.00zM232.40,477.55v-1.09h3.00v1.09zM236.60,477.55v-0.93h3.00v0.93zM239.60,477.55v-1.15h2.50v1.15zM242.10,477.55v-1.27h3.00v1.27zM245.10,477.55v-1.16h2.00v1.16zM247.70,477.55v-1.13h3.00v1.13zM251.30,477.55v-1.23h2.00v1.23zM254.50,477.55v-1.13h2.50v1.13zM257.00,477.55v-1.14h0.80v1.14zM259.00,477.55v-2.37h1.00v2.37zM260.60,477.55v-1.11h2.00v1.11zM263.80,477.55v-1.27h2.00v1.27zM265.80,477.55v-1.08h2.50v1.08zM268.30,477.55v-0.97h1.50v0.97zM269.80,477.55v-1.00h2.00v1.00zM271.80,477.55v-1.84h1.20v1.84zM273.00,477.55v-0.96h1.50v0.96zM274.50,477.55v-1.05h0.80v1.05zM275.30,477.55v-0.98h2.00v0.98zM277.30,477.55v-1.09h1.00v1.09zM278.30,477.55v-1.00h0.80v1.00zM280.00,477.55v-1.16h3.00v1.16zM283.00,477.55v-1.15h2.50v1.15zM285.50,477.55v-1.22h1.00v1.22zM287.10,477.55v-1.12h2.00v1.12zM289.70,477.55v-1.17h0.80v1.17zM290.50,477.55v-1.91h1.00v1.91zM292.40,477.55v-2.15h1.20v2.15zM293.60,477.55v-1.27h1.00v1.27zM295.20,477.55v-0.98h2.00v0.98zM297.20,477.55v-1.74h1.20v1.74zM298.40,477.55v-1.06h2.00v1.06zM301.60,477.55v-1.10h2.50v1.10zM304.10,477.55v-1.06h3.00v1.06zM307.10,477.55v-1.20h3.00v1.20zM311.30,477.55v-1.17h3.00v1.17zM314.30,477.55v-1.00h1.00v1.00zM315.30,477.55v-2.36h0.80v2.36zM316.70,477.55v-1.04h0.80v1.04zM317.50,477.55v-1.20h3.00v1.20zM320.50,477.55v-1.23h1.00v1.23zM321.50,477.55v-1.78h1.20v1.78zM322.70,477.55v-1.29h0.80v1.29zM324.10,477.55v-1.67h1.20v1.67zM325.30,477.55v-1.14h3.00v1.14zM328.30,477.55v-2.27h1.20v2.27zM329.50,477.55v-0.95h1.50v0.95zM331.00,477.55v-1.16h1.50v1.16zM332.50,477.55v-1.30h1.00v1.30zM333.50,477.55v-1.25h2.50v1.25zM336.00,477.55v-1.14h0.80v1.14zM336.80,477.55v-1.24h2.00v1.24zM338.80,477.55v-1.08h2.50v1.08zM341.30,477.55v-0.95h2.50v0.95zM343.80,477.55v-0.93h1.00v0.93zM344.80,477.55v-1.00h0.80v1.00zM346.20,477.55v-1.07h1.00v1.07zM348.40,477.55v-0.92h2.00v0.92zM351.30,477.55v-1.95h1.00v1.95zM352.90,477.55v-1.27h2.50v1.27zM355.40,477.55v-1.11h3.00v1.11zM358.40,477.55v-1.60h0.80v1.60zM359.80,477.55v-0.99h2.50v0.99zM362.30,477.55v-1.26h2.00v1.26zM364.30,477.55v-2.24h1.20v2.24zM365.50,477.55v-1.81h1.00v1.81zM367.10,477.55v-1.03h2.00v1.03zM369.70,477.55v-1.01h2.00v1.01zM371.70,477.55v-0.99h1.50v0.99zM373.20,477.55v-0.94h3.00v0.94zM376.20,477.55v-0.98h1.00v0.98zM377.20,477.55v-0.91h3.00v0.91zM380.20,477.55v-0.92h2.50v0.92zM382.70,477.55v-1.68h1.00v1.68zM384.90,477.55v-2.36h1.20v2.36zM386.10,477.55v-1.15h2.00v1.15zM389.00,477.55v-1.23h3.00v1.23zM392.00,477.55v-1.07h0.80v1.07zM392.80,477.55v-1.02h2.00v1.02zM394.80,477.55v-1.01h3.00v1.01zM398.70,477.55v-1.12h1.50v1.12zM102.00,477.55v-2.89h0.9v2.89zM102.80,477.55v-1.80h0.9v1.80zM103.60,477.55v-2.66h0.9v2.66zM104.40,477.55v-2.54h0.9v2.54zM105.20,477.55v-2.68h0.9v2.68zM106.00,477.55v-2.17h0.9v2.17zM106.80,477.55v-2.18h0.9v2.18zM359.50,477.55v-2.69h0.9v2.69zM360.30,477.55v-2.95h0.9v2.95zM361.10,477.55v-2.51h0.9v2.51zM361.90,477.55v-2.38h0.9v2.38zM362.70,477.55v-2.95h0.9v2.95zM363.50,477.55v-2.38h0.9v2.38zM364.30,477.55v-2.94h0.9v2.94zM365.10,477.55v-3.15h0.9v3.15zM365.90,477.55v-2.62h0.9v2.62zM366.70,477.55v-2.34h0.9v2.34zM367.50,477.55v-3.21h0.9v3.21zM368.30,477.55v-3.72h0.9v3.72zM369.10,477.55v-2.44h0.9v2.44zM380.50,477.55v-2.42h0.9v2.42zM381.30,477.55v-2.49h0.9v2.49zM382.10,477.55v-2.83h0.9v2.83zM382.90,477.55v-2.52h0.9v2.52zM383.70,477.55v-1.96h0.9v1.96zM384.50,477.55v-1.81h0.9v1.81zM385.30,477.55v-2.76h0.9v2.76zM75.65,477.55L77.05,475.90L77.05,474.25L78.15,474.25L78.15,475.90L79.55,477.55zM85.25,477.55L86.65,476.04L86.65,474.55L87.75,474.55L87.75,476.04L89.15,477.55zM102.55,477.55L103.95,475.68L103.95,473.75L105.05,473.75L105.05,475.68L106.45,477.55zM110.65,477.55L112.05,474.73L112.05,471.65L113.15,471.65L113.15,474.73L114.55,477.55zM123.92,477.55L125.33,473.20L125.33,468.25L126.67,468.25L126.67,473.20L128.07,477.55zM136.80,477.55L138.20,475.68L138.20,473.75L139.30,473.75L139.30,475.68L140.70,477.55zM173.05,477.55L174.45,476.12L174.45,474.75L175.55,474.75L175.55,476.12L176.95,477.55zM177.45,477.55L178.85,476.57L178.85,475.75L179.95,475.75L179.95,476.57L181.35,477.55zM199.05,477.55L200.45,476.35L200.45,475.25L201.55,475.25L201.55,476.35L202.95,477.55zM204.05,477.55L205.45,475.68L205.45,473.75L206.55,473.75L206.55,475.68L207.95,477.55zM339.05,477.55L340.45,476.35L340.45,475.25L341.55,475.25L341.55,476.35L342.95,477.55zM361.00,477.55L362.40,473.65L362.40,469.25L363.60,469.25L363.60,473.65L365.00,477.55zM364.93,477.55L366.32,471.85L366.32,465.25L367.68,465.25L367.68,471.85L369.07,477.55zM366.65,477.55L368.05,474.10L368.05,470.25L369.15,470.25L369.15,474.10L370.55,477.55zM373.55,477.55L374.95,476.12L374.95,474.75L376.05,474.75L376.05,476.12L377.45,477.55zM380.40,477.55L381.80,474.46L381.80,471.05L383.00,471.05L383.00,474.46L384.40,477.55zM387.30,477.55L388.70,476.35L388.70,475.25L389.80,475.25L389.80,476.35L391.20,477.55z" fill="#0000ff"/>
<path d="M74.10,493.55v-2.32h1.00v2.32zM75.10,493.55v-2.25h1.20v2.25zM76.90,493.55v-1.30h1.00v1.30zM77.90,493.55v-1.06h2.00v1.06zM80.50,493.55v-2.20h1.20v2.20zM82.90,493.55v-2.28h0.80v2.28zM83.70,493.55v-1.27h3.00v1.27zM86.70,493.55v-1.06h2.00v1.06zM88.70,493.55v-1.62h1.00v1.62zM90.90,493.55v-1.21h2.00v1.21zM92.90,493.55v-1.13h2.00v1.13zM94.90,493.55v-1.26h1.00v1.26zM95.90,493.55v-1.30h1.50v1.30zM98.30,493.55v-1.26h2.50v1.26zM100.80,493.55v-1.15h1.00v1.15zM102.40,493.55v-1.09h0.80v1.09zM103.20,493.55v-1.22h1.50v1.22zM105.60,493.55v-1.21h2.00v1.21zM108.80,493.55v-1.05h0.80v1.05zM109.60,493.55v-1.10h1.50v1.10zM111.70,493.55v-1.68h0.80v1.68zM112.50,493.55v-1.01h2.50v1.01zM115.00,493.55v-1.03h1.50v1.03zM116.50,493.55v-1.05h2.00v1.05zM118.50,493.55v-2.38h1.20v2.38zM119.70,493.55v-1.07h1.50v1.07zM122.10,493.55v-1.29h2.00v1.29zM124.10,493.55v-1.22h0.80v1.22zM125.80,493.55v-2.07h1.20v2.07zM127.90,493.55v-1.27h3.00v1.27zM131.80,493.55v-1.14h0.80v1.14zM133.50,493.55v-1.15h1.50v1.15zM135.00,493.55v-1.05h1.00v1.05zM136.00,493.55v-1.01h2.50v1.01zM139.10,493.55v-1.95h1.20v1.95zM140.30,493.55v-1.89h1.20v1.89zM141.50,493.55v-1.14h0.80v1.14zM142.30,493.55v-1.08h1.00v1.08zM144.20,493.55v-1.16h3.00v1.16zM147.20,493.55v-2.36h1.00v2.36zM149.40,493.55v-1.25h1.00v1.25zM150.40,493.55v-1.22h0.80v1.22zM152.10,493.55v-1.22h2.50v1.22zM155.50,493.55v-1.07h1.50v1.07zM157.00,493.55v-0.98h1.00v0.98zM158.00,493.55v-1.29h2.50v1.29zM160.50,493.55v-0.99h3.00v0.99zM163.50,493.55v-1.20h3.00v1.20zM166.50,493.55v-1.24h1.00v1.24zM167.50,493.55v-2.31h0.80v2.31zM168.30,493.55v-1.26h1.00v1.26zM169.30,493.55v-1.95h0.80v1.95zM170.70,493.55v-2.32h1.20v2.32zM172.50,493.55v-1.29h1.50v1.29zM174.00,493.55v-1.98h0.80v1.98zM174.80,493.55v-1.00h1.00v1.00zM175.80,493.55v-2.07h1.00v2.07zM176.80,493.55v-1.20h0.80v1.20zM177.60,493.55v-1.07h2.50v1.07zM180.10,493.55v-1.24h0.80v1.24zM181.50,493.55v-2.14h0.80v2.14zM182.30,493.55v-1.03h2.00v1.03zM184.30,493.55v-1.06h3.00v1.06zM188.20,493.55v-0.95h2.00v0.95zM190.20,493.55v-1.22h2.00v1.22zM193.10,493.55v-1.16h2.50v1.16zM195.60,493.55v-1.15h0.80v1.15zM196.40,493.55v-1.20h2.00v1.20zM198.40,493.55v-1.08h2.00v1.08zM200.40,493.55v-1.14h3.00v1.14zM204.00,493.55v-1.27h0.80v1.27zM204.80,493.55v-0.95h1.50v0.95zM206.30,493.55v-1.16h3.00v1.16zM209.30,493.55v-0.94h3.00v0.94zM212.30,493.55v-1.19h2.50v1.19zM215.70,493.55v-1.11h0.80v1.11zM216.50,493.55v-2.26h1.20v2.26zM218.30,493.55v-1.09h3.00v1.09zM222.20,493.55v-0.91h0.80v0.91zM223.00,493.55v-1.00h3.00v1.00zM227.20,493.55v-1.12h0.80v1.12zM228.60,493.55v-1.30h1.00v1.30zM229.60,493.55v-1.20h3.00v1.20zM232.60,493.55v-1.28h2.00v1.28zM234.60,493.55v-1.10h2.00v1.10zM236.60,493.55v-1.29h3.00v1.29zM239.60,493.55v-1.17h2.50v1.17zM242.10,493.55v-1.06h3.00v1.06zM246.00,493.55v-1.09h3.00v1.09zM249.00,493.55v-1.74h1.20v1.74zM251.40,493.55v-1.03h2.50v1.03zM253.90,493.55v-1.17h1.50v1.17zM255.40,493.55v-1.13h2.50v1.13zM258.50,493.55v-1.09h1.50v1.09zM260.90,493.55v-1.03h1.00v1.03zM263.10,493.55v-2.02h1.20v2.02zM264.30,493.55v-1.12h3.00v1.12zM267.30,493.55v-1.21h2.00v1.21zM269.90,493.55v-1.16h1.00v1.16zM271.50,493.55v-1.73h1.20v1.73zM273.90,493.55v-1.24h3.00v1.24zM277.50,493.55v-2.22h1.20v2.22zM279.60,493.55v-0.91h1.50v0.91zM281.10,493.55v-0.90h1.50v0.90zM282.60,493.55v-0.93h2.00v0.93zM284.60,493.55v-1.06h2.00v1.06zM287.50,493.55v-2.30h0.80v2.30zM288.30,493.55v-1.11h0.80v1.11zM289.10,493.55v-1.20h1.50v1.20zM290.60,493.55v-1.28h3.00v1.28zM294.50,493.55v-1.13h3.00v1.13zM297.50,493.55v-1.04h2.50v1.04zM300.00,493.55v-1.20h2.50v1.20zM302.50,493.55v-0.97h1.00v0.97zM303.50,493.55v-0.94h0.80v0.94zM304.30,493.55v-1.19h3.00v1.19zM307.30,493.55v-0.97h3.00v0.97zM310.30,493.55v-0.93h3.00v0.93zM313.30,493.55v-1.13h2.50v1.13zM316.70,493.55v-1.93h1.20v1.93zM319.10,493.55v-1.04h2.50v1.04zM321.60,493.55v-1.95h1.20v1.95zM322.80,493.55v-1.60h1.00v1.60zM323.80,493.55v-0.94h3.00v0.94zM326.80,493.55v-1.20h3.00v1.20zM329.80,493.55v-1.14h2.50v1.14zM332.30,493.55v-1.11h2.50v1.11zM335.70,493.55v-2.22h1.20v2.22zM336.90,493.55v-1.03h2.00v1.03zM339.80,493.55v-1.17h2.50v1.17zM342.30,493.55v-2.07h1.20v2.07zM344.70,493.55v-1.10h1.00v1.10zM345.70,493.55v-2.23h1.00v2.23zM346.70,493.55v-0.94h2.00v0.94zM348.70,493.55v-0.95h1.00v0.95zM349.70,493.55v-0.91h0.80v0.91zM350.50,493.55v-1.12h2.00v1.12zM353.40,493.55v-2.26h1.20v2.26zM354.60,493.55v-1.19h0.80v1.19zM356.00,493.55v-1.24h0.80v1.24zM356.80,493.55v-1.03h2.00v1.03zM358.80,493.55v-1.18h1.00v1.18zM359.80,493.55v-1.11h0.80v1.11zM360.60,493.55v-0.91h1.50v0.91zM362.10,493.55v-0.97h2.00v0.97zM364.10,493.55v-1.24h1.50v1.24zM365.60,493.55v-1.69h1.20v1.69zM366.80,493.55v-1.24h1.00v1.24zM368.40,493.55v-1.13h1.00v1.13zM369.40,493.55v-1.94h1.00v1.94zM371.00,493.55v-1.08h2.00v1.08zM373.00,493.55v-1.94h0.80v1.94zM373.80,493.55v-1.00h1.00v1.00zM375.70,493.55v-0.95h2.50v0.95zM378.20,493.55v-1.02h3.00v1.02zM381.20,493.55v-1.10h1.50v1.10zM383.60,493.55v-1.30h3.00v1.30zM387.50,493.55v-1.53h0.80v1.53zM388.90,493.55v-2.09h1.20v2.09zM390.10,493.55v-1.26h1.00v1.26zM392.00,493.55v-1.77h1.20v1.77zM393.20,493.55v-0.94h2.00v0.94zM395.20,493.55v-1.10h0.80v1.10zM396.00,493.55v-0.97h2.00v0.97zM398.00,493.55v-2.22h1.20v2.22zM102.00,493.55v-1.67h0.9v1.67zM102.80,493.55v-2.05h0.9v2.05zM103.60,493.55v-1.52h0.9v1.52zM104.40,493.55v-2.23h0.9v2.23zM105.20,493.55v-1.76h0.9v1.76zM106.00,493.55v-2.13h0.9v2.13zM106.80,493.55v-2.37h0.9v2.37zM107.60,493.55v-2.05h0.9v2.05zM200.00,493.55v-1.76h0.9v1.76zM200.80,493.55v-1.03h0.9v1.03zM201.60,493.55v-1.14h0.9v1.14zM202.40,493.55v-1.60h0.9v1.60zM203.20,493.55v-1.66h0.9v1.66zM204.00,493.55v-1.07h0.9v1.07zM204.80,493.55v-1.55h0.9v1.55zM205.60,493.55v-1.53h0.9v1.53zM206.40,493.55v-1.26h0.9v1.26zM360.00,493.55v-2.28h0.9v2.28zM360.80,493.55v-2.54h0.9v2.54zM361.60,493.55v-1.57h0.9v1.57zM362.40,493.55v-2.30h0.9v2.30zM363.20,493.55v-1.56h0.9v1.56zM364.00,493.55v-2.11h0.9v2.11zM364.80,493.55v-2.63h0.9v2.63zM365.60,493.55v-2.34h0.9v2.34zM366.40,493.55v-2.80h0.9v2.80zM367.20,493.55v-1.50h0.9v1.50zM368.00,493.55v-1.75h0.9v1.75zM368.80,493.55v-2.52h0.9v2.52zM379.00,493.55v-1.73h0.9v1.73zM379.80,493.55v-1.27h0.9v1.27zM380.60,493.55v-1.25h0.9v1.25zM381.40,493.55v-1.36h0.9v1.36zM382.20,493.55v-1.66h0.9v1.66zM383.00,493.55v-1.17h0.9v1.17zM383.80,493.55v-1.55h0.9v1.55zM384.60,493.55v-1.78h0.9v1.78zM385.40,493.55v-1.75h0.9v1.75zM75.65,493.55L77.05,492.57L77.05,491.75L78.15,491.75L78.15,492.57L79.55,493.55zM85.25,493.55L86.65,492.53L86.65,491.65L87.75,491.65L87.75,492.53L89.15,493.55zM103.05,493.55L104.45,491.68L104.45,489.75L105.55,489.75L105.55,491.68L106.95,493.55zM110.65,493.55L112.05,491.68L112.05,489.75L113.15,489.75L113.15,491.68L114.55,493.55zM124.05,493.55L125.45,491.45L125.45,489.25L126.55,489.25L126.55,491.45L127.95,493.55zM136.80,493.55L138.20,492.57L138.20,491.75L139.30,491.75L139.30,492.57L140.70,493.55zM204.05,493.55L205.45,492.35L205.45,491.25L206.55,491.25L206.55,492.35L207.95,493.55zM364.93,493.55L366.32,490.10L366.32,486.25L367.68,486.25L367.68,490.10L369.07,493.55zM363.55,493.55L364.95,491.45L364.95,489.25L366.05,489.25L366.05,491.45L367.45,493.55z" fill="#ff00ff"/>
<path d="M74.10,509.20v-1.02h1.00v1.02zM75.10,509.20v-0.93h0.80v0.93zM75.90,509.20v-0.99h0.80v0.99zM77.30,509.20v-1.00h0.80v1.00zM79.30,509.20v-1.78h1.20v1.78zM80.50,509.20v-1.28h3.00v1.28zM83.50,509.20v-1.03h2.50v1.03zM86.60,509.20v-1.01h2.00v1.01zM88.60,509.20v-1.76h1.20v1.76zM89.80,509.20v-1.24h1.50v1.24zM91.30,509.20v-1.02h2.50v1.02zM94.70,509.20v-0.93h0.80v0.93zM95.50,509.20v-1.11h2.50v1.11zM99.20,509.20v-0.93h1.00v0.93zM100.20,509.20v-1.01h2.00v1.01zM102.20,509.20v-1.79h1.20v1.79zM103.40,509.20v-0.99h3.00v0.99zM106.40,509.20v-0.95h1.00v0.95zM108.00,509.20v-2.37h0.80v2.37zM110.00,509.20v-0.91h1.50v0.91zM111.50,509.20v-1.06h3.00v1.06zM114.50,509.20v-1.90h0.80v1.90zM116.20,509.20v-1.28h2.50v1.28zM119.30,509.20v-0.97h2.00v0.97zM121.30,509.20v-1.13h1.50v1.13zM123.40,509.20v-1.65h0.80v1.65zM124.20,509.20v-1.14h1.00v1.14zM125.20,509.20v-1.98h1.20v1.98zM126.40,509.20v-1.68h1.20v1.68zM127.60,509.20v-0.91h2.00v0.91zM130.50,509.20v-1.73h1.00v1.73zM132.10,509.20v-1.07h1.00v1.07zM134.00,509.20v-0.95h2.50v0.95zM136.50,509.20v-1.16h3.00v1.16zM139.50,509.20v-1.05h2.00v1.05zM141.50,509.20v-1.26h2.50v1.26zM145.20,509.20v-1.22h2.00v1.22zM147.20,509.20v-0.99h2.50v0.99zM149.70,509.20v-1.27h1.50v1.27zM152.10,509.20v-2.31h1.20v2.31zM154.20,509.20v-1.24h3.00v1.24zM157.20,509.20v-1.13h2.00v1.13zM159.20,509.20v-1.64h1.00v1.64zM160.20,509.20v-0.95h1.50v0.95zM161.70,509.20v-1.12h1.00v1.12zM163.90,509.20v-1.03h2.50v1.03zM166.40,509.20v-1.27h2.00v1.27zM169.60,509.20v-0.95h2.50v0.95zM172.70,509.20v-1.05h0.80v1.05zM173.50,509.20v-1.02h0.80v1.02zM175.50,509.20v-1.05h2.00v1.05zM178.10,509.20v-1.24h2.00v1.24zM181.30,509.20v-1.10h1.50v1.10zM182.80,509.20v-0.93h2.00v0.93zM185.70,509.20v-1.07h2.00v1.07zM188.30,509.20v-1.18h1.00v1.18zM189.30,509.20v-1.12h1.50v1.12zM190.80,509.20v-1.60h0.80v1.60zM191.60,509.20v-1.72h1.20v1.72zM192.80,509.20v-2.28h1.20v2.28zM194.60,509.20v-1.26h2.50v1.26zM197.10,509.20v-1.02h2.50v1.02zM199.60,509.20v-1.15h2.50v1.15zM203.30,509.20v-1.29h1.50v1.29zM204.80,509.20v-0.96h2.50v0.96zM208.20,509.20v-1.13h1.00v1.13zM209.20,509.20v-0.93h0.80v0.93zM210.00,509.20v-1.16h1.50v1.16zM212.10,509.20v-0.91h2.50v0.91zM214.60,509.20v-1.22h1.50v1.22zM217.30,509.20v-1.16h2.00v1.16zM219.90,509.20v-1.16h1.00v1.16zM220.90,509.20v-1.21h2.50v1.21zM223.40,509.20v-1.06h3.00v1.06zM226.40,509.20v-0.99h3.00v0.99zM229.40,509.20v-1.15h2.50v1.15zM231.90,509.20v-1.10h2.00v1.10zM234.80,509.20v-1.14h2.00v1.14zM236.80,509.20v-1.18h2.00v1.18zM238.80,509.20v-1.56h1.20v1.56zM240.00,509.20v-1.27h3.00v1.27zM243.60,509.20v-1.09h1.50v1.09zM245.10,509.20v-1.71h1.20v1.71zM246.90,509.20v-1.06h1.00v1.06zM247.90,509.20v-1.28h3.00v1.28zM250.90,509.20v-2.35h1.00v2.35zM252.80,509.20v-1.25h0.80v1.25zM253.60,509.20v-1.18h3.00v1.18zM256.60,509.20v-1.25h1.00v1.25zM257.60,509.20v-0.90h3.00v0.90zM261.50,509.20v-0.99h1.00v0.99zM262.50,509.20v-0.97h2.00v0.97zM265.40,509.20v-1.17h2.50v1.17zM268.80,509.20v-2.29h0.80v2.29zM270.20,509.20v-0.96h0.80v0.96zM271.00,509.20v-2.32h1.00v2.32zM272.00,509.20v-1.30h2.00v1.30zM274.00,509.20v-1.05h3.00v1.05zM277.00,509.20v-0.98h2.50v0.98zM279.50,509.20v-1.02h1.50v1.02zM281.00,509.20v-1.20h2.50v1.20zM284.70,509.20v-1.14h3.00v1.14zM287.70,509.20v-1.71h1.20v1.71zM289.50,509.20v-1.79h1.20v1.79zM290.70,509.20v-1.54h1.20v1.54zM291.90,509.20v-2.11h1.20v2.11zM294.30,509.20v-2.38h1.00v2.38zM295.30,509.20v-1.70h1.20v1.70zM297.10,509.20v-2.13h1.20v2.13zM298.90,509.20v-1.20h3.00v1.20zM302.80,509.20v-1.87h1.20v1.87zM304.00,509.20v-1.25h2.50v1.25zM306.50,509.20v-1.18h1.00v1.18zM308.10,509.20v-1.25h2.00v1.25zM311.00,509.20v-1.27h3.00v1.27zM314.00,509.20v-1.00h1.00v1.00zM315.90,509.20v-1.01h2.50v1.01zM319.30,509.20v-1.27h0.80v1.27zM320.10,509.20v-0.98h3.00v0.98zM323.10,509.20v-1.81h1.20v1.81zM324.30,509.20v-0.97h1.00v0.97zM325.30,509.20v-1.22h0.80v1.22zM326.10,509.20v-1.16h2.50v1.16zM329.20,509.20v-1.20h3.00v1.20zM332.20,509.20v-1.79h1.20v1.79zM334.60,509.20v-2.18h1.20v2.18zM336.40,509.20v-1.17h1.00v1.17zM338.30,509.20v-1.27h3.00v1.27zM341.30,509.20v-1.22h1.00v1.22zM342.30,509.20v-1.12h2.00v1.12zM344.30,509.20v-1.64h0.80v1.64zM345.70,509.20v-2.06h1.20v2.06zM347.80,509.20v-1.18h2.50v1.18zM351.20,509.20v-1.52h1.00v1.52zM353.40,509.20v-1.03h3.00v1.03zM356.40,509.20v-1.22h1.50v1.22zM358.80,509.20v-1.09h2.50v1.09zM361.30,509.20v-1.08h1.00v1.08zM362.30,509.20v-1.77h1.20v1.77zM363.50,509.20v-1.09h0.80v1.09zM364.30,509.20v-1.23h1.00v1.23zM365.90,509.20v-1.16h3.00v1.16zM370.10,509.20v-2.04h1.00v2.04zM372.30,509.20v-1.12h1.50v1.12zM373.80,509.20v-1.23h3.00v1.23zM376.80,509.20v-1.00h1.50v1.00zM378.30,509.20v-0.96h2.50v0.96zM380.80,509.20v-2.29h1.20v2.29zM382.00,509.20v-0.96h1.00v0.96zM383.00,509.20v-1.12h0.80v1.12zM383.80,509.20v-1.28h3.00v1.28zM386.80,509.20v-0.97h2.50v0.97zM390.20,509.20v-1.16h1.00v1.16zM391.20,509.20v-1.26h0.80v1.26zM392.00,509.20v-1.04h0.80v1.04zM392.80,509.20v-0.93h1.50v0.93zM395.20,509.20v-1.01h0.80v1.01zM396.00,509.20v-0.98h1.00v0.98zM397.00,509.20v-1.76h0.80v1.76zM397.80,509.20v-0.93h2.00v0.93zM359.00,509.20v-2.21h0.9v2.21zM359.80,509.20v-2.02h0.9v2.02zM360.60,509.20v-2.08h0.9v2.08zM361.40,509.20v-2.30h0.9v2.30zM362.20,509.20v-1.30h0.9v1.30zM363.00,509.20v-1.90h0.9v1.90zM363.80,509.20v-1.42h0.9v1.42zM364.60,509.20v-1.37h0.9v1.37zM365.40,509.20v-2.42h0.9v2.42zM366.20,509.20v-1.72h0.9v1.72zM367.00,509.20v-1.74h0.9v1.74zM367.80,509.20v-1.64h0.9v1.64zM368.60,509.20v-2.14h0.9v2.14zM369.40,509.20v-1.39h0.9v1.39zM380.00,509.20v-1.64h0.9v1.64zM380.80,509.20v-1.07h0.9v1.07zM381.60,509.20v-1.96h0.9v1.96zM382.40,509.20v-1.16h0.9v1.16zM383.20,509.20v-1.77h0.9v1.77zM384.00,509.20v-1.55h0.9v1.55zM384.80,509.20v-1.42h0.9v1.42zM385.60,509.20v-1.30h0.9v1.30zM75.65,509.20L77.05,508.22L77.05,507.40L78.15,507.40L78.15,508.22L79.55,509.20zM85.25,509.20L86.65,508.22L86.65,507.40L87.75,507.40L87.75,508.22L89.15,509.20zM102.55,509.20L103.95,508.00L103.95,506.90L105.05,506.90L105.05,508.00L106.45,509.20zM110.65,509.20L112.05,506.47L112.05,503.50L113.15,503.50L113.15,506.47L114.55,509.20zM123.92,509.20L125.33,505.75L125.33,501.90L126.67,501.90L126.67,505.75L128.07,509.20zM136.80,509.20L138.20,508.00L138.20,506.90L139.30,506.90L139.30,508.00L140.70,509.20zM204.05,509.20L205.45,508.22L205.45,507.40L206.55,507.40L206.55,508.22L207.95,509.20zM357.95,509.20L359.35,507.77L359.35,506.40L360.45,506.40L360.45,507.77L361.85,509.20zM361.05,509.20L362.45,505.93L362.45,502.30L363.55,502.30L363.55,505.93L364.95,509.20zM364.93,509.20L366.32,503.36L366.32,496.60L367.68,496.60L367.68,503.36L369.07,509.20zM367.05,509.20L368.45,507.55L368.45,505.90L369.55,505.90L369.55,507.55L370.95,509.20zM373.05,509.20L374.45,508.22L374.45,507.40L375.55,507.40L375.55,508.22L376.95,509.20zM380.40,509.20L381.80,506.47L381.80,503.50L383.00,503.50L383.00,506.47L384.40,509.20z" fill="#00ee00"/>
<rect x="73.10" y="512.40" width="328.00" height="2.00" fill="#b2b2b2"/>
<line x1="73.10" y1="517.40" x2="135.00" y2="517.40" stroke="#4a4ae6" stroke-width="0.6"/>
<line x1="76.00" y1="516.60" x2="76.80" y2="517.40" stroke="#4a4ae6" stroke-width="0.4"/>
<line x1="81.00" y1="516.60" x2="81.80" y2="517.40" stroke="#4a4ae6" stroke-width="0.4"/>
<line x1="86.00" y1="516.60" x2="86.80" y2="517.40" stroke="#4a4ae6" stroke-width="0.4"/>
<line x1="91.00" y1="516.60" x2="91.80" y2="517.40" stroke="#4a4ae6" stroke-width="0.4"/>
<line x1="96.00" y1="516.60" x2="96.80" y2="517.40" stroke="#4a4ae6" stroke-width="0.4"/>
<line x1="101.00" y1="516.60" x2="101.80" y2="517.40" stroke="#4a4ae6" stroke-width="0.4"/>
<line x1="106.00" y1="516.60" x2="106.80" y2="517.40" stroke="#4a4ae6" stroke-width="0.4"/>
<line x1="111.00" y1="516.60" x2="111.80" y2="517.40" stroke="#4a4ae6" stroke-width="0.4"/>
<line x1="116.00" y1="516.60" x2="116.80" y2="517.40" stroke="#4a4ae6" stroke-width="0.4"/>
<line x1="121.00" y1="516.60" x2="121.80" y2="517.40" stroke="#4a4ae6" stroke-width="0.4"/>
<line x1="126.00" y1="516.60" x2="126.80" y2="517.40" stroke="#4a4ae6" stroke-width="0.4"/>
<line x1="131.00" y1="516.60" x2="131.80" y2="517.40" stroke="#4a4ae6" stroke-width="0.4"/>
<line x1="87.30" y1="515.60" x2="87.30" y2="519.20" stroke="#4a4ae6" stroke-width="0.8"/>
<rect x="110.20" y="515.90" width="1.60" height="3.00" fill="#6a6ae6"/>
<line x1="142.70" y1="515.80" x2="142.70" y2="519.20" stroke="#4a4ae6" stroke-width="0.8"/>
<line x1="182.00" y1="517.40" x2="207.00" y2="517.40" stroke="#4a4ae6" stroke-width="0.6"/>
<rect x="205.80" y="516.30" width="1.80" height="2.20" fill="#2a2ae0"/>
<rect x="267.50" y="517.00" width="2.40" height="0.90" fill="#4a4ae6"/>
<rect x="309.80" y="517.00" width="2.40" height="0.90" fill="#4a4ae6"/>
<line x1="73.10" y1="517.30" x2="75.00" y2="517.30" stroke="#4a4ae6" stroke-width="0.6"/>
<line x1="330.00" y1="517.30" x2="351.00" y2="517.30" stroke="#4a4ae6" stroke-width="0.6"/>
<line x1="75.20" y1="518.00" x2="82.60" y2="518.00" stroke="#000" stroke-width="1.7"/>
<polygon points="85.3,518.0 81.4,515.5 81.4,520.5" fill="#000"/>
<line x1="350.90" y1="517.30" x2="394.00" y2="517.30" stroke="#000" stroke-width="1.7"/>
<polygon points="396.10,517.3 394.50,515.6 394.50,519.0" fill="#2222cc"/>
<polygon points="397.90,517.3 396.30,515.6 396.30,519.0" fill="#2222cc"/>
<polygon points="399.70,517.3 398.10,515.6 398.10,519.0" fill="#2222cc"/>
<text x="74.24" y="529.00" font-size="8.8" font-weight="bold" textLength="20.42" lengthAdjust="spacingAndGlyphs" fill="#000" stroke="#000" stroke-width="0.2">MYC</text>
<text x="310.51" y="526.60" font-size="8.8" font-weight="bold" textLength="90.13" lengthAdjust="spacingAndGlyphs" fill="#000" stroke="#000" stroke-width="0.2">MYC Super Enhancer</text>
<text x="108.20" y="528.60" font-size="2.64" fill="#4a4a4a">PVT1</text>
<text x="138.00" y="528.60" font-size="2.64" fill="#4a4a4a">MIR1208</text>
<text x="189.80" y="528.60" font-size="2.64" fill="#4a4a4a">LINC00824</text>
<text x="263.80" y="528.60" font-size="2.64" fill="#4a4a4a">LINC00976</text>
<text x="306.00" y="528.60" font-size="2.64" fill="#4a4a4a">LINC00977</text>
<text x="353.00" y="528.60" font-size="2.64" fill="#4a4a4a">CCDC26</text>
<text x="392.80" y="528.60" font-size="2.64" fill="#4a4a4a">GSDMC</text>
<line x1="73.10" y1="530.30" x2="401.10" y2="530.30" stroke="#e4e4e4" stroke-width="0.7"/>
<rect x="75.60" y="531.95" width="0.60" height="2.50" fill="#1c1ca8" opacity="0.85"/>
<rect x="78.90" y="531.95" width="1.90" height="2.50" fill="#1c1ca8" opacity="0.90"/>
<rect x="82.60" y="531.95" width="0.80" height="2.50" fill="#1c1ca8" opacity="0.92"/>
<rect x="84.70" y="531.95" width="0.80" height="2.50" fill="#1c1ca8" opacity="0.98"/>
<rect x="86.60" y="531.95" width="0.80" height="2.50" fill="#1c1ca8" opacity="0.90"/>
<rect x="91.20" y="531.95" width="0.80" height="2.50" fill="#1c1ca8" opacity="0.97"/>
<rect x="100.30" y="531.95" width="1.50" height="2.50" fill="#1c1ca8" opacity="0.61"/>
<rect x="122.40" y="531.95" width="0.70" height="2.50" fill="#1c1ca8" opacity="0.79"/>
<rect x="125.60" y="531.95" width="2.00" height="2.50" fill="#1c1ca8" opacity="0.98"/>
<rect x="129.30" y="531.95" width="0.80" height="2.50" fill="#1c1ca8" opacity="0.86"/>
<rect x="132.40" y="531.95" width="2.50" height="2.50" fill="#1c1ca8" opacity="0.96"/>
<rect x="137.00" y="531.95" width="1.60" height="2.50" fill="#1c1ca8" opacity="0.65"/>
<rect x="139.80" y="531.95" width="0.90" height="2.50" fill="#1c1ca8" opacity="0.79"/>
<rect x="148.40" y="531.95" width="2.50" height="2.50" fill="#1c1ca8" opacity="0.70"/>
<rect x="152.20" y="531.95" width="2.50" height="2.50" fill="#1c1ca8" opacity="0.82"/>
<rect x="155.80" y="531.95" width="0.90" height="2.50" fill="#1c1ca8" opacity="0.83"/>
<rect x="171.80" y="531.95" width="0.70" height="2.50" fill="#1c1ca8" opacity="0.61"/>
<rect x="174.60" y="531.95" width="0.70" height="2.50" fill="#1c1ca8" opacity="0.69"/>
<rect x="177.80" y="531.95" width="2.50" height="2.50" fill="#1c1ca8" opacity="0.71"/>
<rect x="180.60" y="531.95" width="0.90" height="2.50" fill="#1c1ca8" opacity="0.97"/>
<rect x="188.60" y="531.95" width="0.90" height="2.50" fill="#1c1ca8" opacity="0.91"/>
<rect x="197.40" y="531.95" width="1.60" height="2.50" fill="#1c1ca8" opacity="0.66"/>
<rect x="204.60" y="531.95" width="0.90" height="2.50" fill="#1c1ca8" opacity="0.92"/>
<rect x="209.60" y="531.95" width="1.20" height="2.50" fill="#1c1ca8" opacity="0.66"/>
<rect x="213.20" y="531.95" width="1.20" height="2.50" fill="#1c1ca8" opacity="0.85"/>
<rect x="216.80" y="531.95" width="0.70" height="2.50" fill="#1c1ca8" opacity="0.65"/>
<rect x="218.40" y="531.95" width="1.60" height="2.50" fill="#1c1ca8" opacity="0.60"/>
<rect x="220.00" y="531.95" width="2.50" height="2.50" fill="#1c1ca8" opacity="0.95"/>
<rect x="227.20" y="531.95" width="1.20" height="2.50" fill="#1c1ca8" opacity="0.68"/>
<rect x="236.20" y="531.95" width="1.00" height="2.50" fill="#1c1ca8" opacity="0.69"/>
<rect x="239.80" y="531.95" width="0.70" height="2.50" fill="#1c1ca8" opacity="0.99"/>
<rect x="244.20" y="531.95" width="0.70" height="2.50" fill="#1c1ca8" opacity="0.95"/>
<rect x="258.80" y="531.95" width="0.90" height="2.50" fill="#1c1ca8" opacity="0.72"/>
<rect x="265.40" y="531.95" width="1.20" height="2.50" fill="#1c1ca8" opacity="0.98"/>
<rect x="270.40" y="531.95" width="0.90" height="2.50" fill="#1c1ca8" opacity="0.82"/>
<rect x="274.00" y="531.95" width="1.00" height="2.50" fill="#1c1ca8" opacity="0.87"/>
<rect x="276.20" y="531.95" width="1.20" height="2.50" fill="#1c1ca8" opacity="0.68"/>
<rect x="278.40" y="531.95" width="1.20" height="2.50" fill="#1c1ca8" opacity="0.98"/>
<rect x="292.00" y="531.95" width="1.60" height="2.50" fill="#1c1ca8" opacity="0.88"/>
<rect x="297.80" y="531.95" width="1.20" height="2.50" fill="#1c1ca8" opacity="0.99"/>
<rect x="317.80" y="531.95" width="0.70" height="2.50" fill="#1c1ca8" opacity="0.96"/>
<rect x="321.40" y="531.95" width="1.60" height="2.50" fill="#1c1ca8" opacity="0.72"/>
<rect x="325.00" y="531.95" width="0.90" height="2.50" fill="#1c1ca8" opacity="0.74"/>
<rect x="330.00" y="531.95" width="0.70" height="2.50" fill="#1c1ca8" opacity="0.67"/>
<rect x="333.80" y="531.95" width="1.00" height="2.50" fill="#1c1ca8" opacity="0.66"/>
<rect x="337.40" y="531.95" width="1.20" height="2.50" fill="#1c1ca8" opacity="0.63"/>
<rect x="343.80" y="531.95" width="1.00" height="2.50" fill="#1c1ca8" opacity="0.72"/>
<rect x="348.00" y="531.95" width="0.80" height="2.50" fill="#1c1ca8" opacity="0.84"/>
<rect x="351.80" y="531.95" width="0.80" height="2.50" fill="#1c1ca8" opacity="0.60"/>
<rect x="354.50" y="531.95" width="13.50" height="2.50" fill="#1c1ca8" opacity="0.87"/>
<rect x="371.80" y="531.95" width="5.80" height="2.50" fill="#1c1ca8" opacity="0.74"/>
<rect x="379.00" y="531.95" width="6.60" height="2.50" fill="#1c1ca8" opacity="0.72"/>
<line x1="73.10" y1="546.40" x2="401.10" y2="546.40" stroke="#e4e4e4" stroke-width="0.7"/>
<rect x="77.40" y="547.75" width="0.80" height="2.50" fill="#1c1ca8" opacity="0.92"/>
<rect x="81.20" y="547.75" width="0.80" height="2.50" fill="#1c1ca8" opacity="0.93"/>
<rect x="94.90" y="547.75" width="0.80" height="2.50" fill="#1c1ca8" opacity="0.79"/>
<rect x="98.00" y="547.75" width="0.80" height="2.50" fill="#1c1ca8" opacity="0.70"/>
<rect x="106.20" y="547.75" width="0.80" height="2.50" fill="#1c1ca8" opacity="0.60"/>
<rect x="109.90" y="547.75" width="0.80" height="2.50" fill="#1c1ca8" opacity="0.87"/>
<rect x="119.30" y="547.75" width="1.00" height="2.50" fill="#1c1ca8" opacity="0.79"/>
<rect x="121.30" y="547.75" width="1.00" height="2.50" fill="#1c1ca8" opacity="0.90"/>
<rect x="123.30" y="547.75" width="1.00" height="2.50" fill="#1c1ca8" opacity="0.75"/>
<rect x="126.30" y="547.75" width="1.40" height="2.50" fill="#1c1ca8" opacity="0.91"/>
<rect x="129.90" y="547.75" width="0.80" height="2.50" fill="#1c1ca8" opacity="0.71"/>
<rect x="133.00" y="547.75" width="0.80" height="2.50" fill="#1c1ca8" opacity="0.92"/>
<rect x="141.40" y="547.75" width="1.20" height="2.50" fill="#1c1ca8" opacity="0.89"/>
<rect x="145.00" y="547.75" width="1.20" height="2.50" fill="#1c1ca8" opacity="0.77"/>
<rect x="150.00" y="547.75" width="0.90" height="2.50" fill="#1c1ca8" opacity="0.82"/>
<rect x="155.00" y="547.75" width="0.70" height="2.50" fill="#1c1ca8" opacity="0.87"/>
<rect x="156.60" y="547.75" width="1.60" height="2.50" fill="#1c1ca8" opacity="0.68"/>
<rect x="160.20" y="547.75" width="1.60" height="2.50" fill="#1c1ca8" opacity="0.82"/>
<rect x="170.20" y="547.75" width="0.90" height="2.50" fill="#1c1ca8" opacity="0.92"/>
<rect x="175.20" y="547.75" width="1.20" height="2.50" fill="#1c1ca8" opacity="0.71"/>
<rect x="188.60" y="547.75" width="1.60" height="2.50" fill="#1c1ca8" opacity="0.92"/>
<rect x="198.00" y="547.75" width="0.90" height="2.50" fill="#1c1ca8" opacity="0.87"/>
<rect x="203.00" y="547.75" width="2.50" height="2.50" fill="#1c1ca8" opacity="0.94"/>
<rect x="205.20" y="547.75" width="0.70" height="2.50" fill="#1c1ca8" opacity="0.73"/>
<rect x="206.80" y="547.75" width="2.50" height="2.50" fill="#1c1ca8" opacity="0.64"/>
<rect x="215.20" y="547.75" width="1.20" height="2.50" fill="#1c1ca8" opacity="0.92"/>
<rect x="220.20" y="547.75" width="1.60" height="2.50" fill="#1c1ca8" opacity="0.92"/>
<rect x="225.20" y="547.75" width="0.90" height="2.50" fill="#1c1ca8" opacity="0.78"/>
<rect x="239.00" y="547.75" width="0.90" height="2.50" fill="#1c1ca8" opacity="0.64"/>
<rect x="241.20" y="547.75" width="0.70" height="2.50" fill="#1c1ca8" opacity="0.68"/>
<rect x="247.80" y="547.75" width="0.70" height="2.50" fill="#1c1ca8" opacity="0.85"/>
<rect x="269.60" y="547.75" width="1.20" height="2.50" fill="#1c1ca8" opacity="0.72"/>
<rect x="274.00" y="547.75" width="0.70" height="2.50" fill="#1c1ca8" opacity="0.98"/>
<rect x="276.80" y="547.75" width="1.20" height="2.50" fill="#1c1ca8" opacity="0.84"/>
<rect x="294.80" y="547.75" width="1.20" height="2.50" fill="#1c1ca8" opacity="0.68"/>
<rect x="297.00" y="547.75" width="1.20" height="2.50" fill="#1c1ca8" opacity="0.86"/>
<rect x="311.40" y="547.75" width="1.20" height="2.50" fill="#1c1ca8" opacity="0.74"/>
<rect x="313.60" y="547.75" width="1.20" height="2.50" fill="#1c1ca8" opacity="0.97"/>
<rect x="317.20" y="547.75" width="1.20" height="2.50" fill="#1c1ca8" opacity="0.96"/>
<rect x="320.00" y="547.75" width="0.90" height="2.50" fill="#1c1ca8" opacity="0.81"/>
<rect x="331.60" y="547.75" width="1.60" height="2.50" fill="#1c1ca8" opacity="0.86"/>
<rect x="334.40" y="547.75" width="0.70" height="2.50" fill="#1c1ca8" opacity="0.88"/>
<rect x="336.00" y="547.75" width="1.20" height="2.50" fill="#1c1ca8" opacity="0.92"/>
<rect x="344.60" y="547.75" width="1.20" height="2.50" fill="#1c1ca8" opacity="0.99"/>
<rect x="348.00" y="547.75" width="0.80" height="2.50" fill="#1c1ca8" opacity="0.61"/>
<rect x="353.00" y="547.75" width="3.00" height="2.50" fill="#1c1ca8" opacity="0.74"/>
<rect x="359.60" y="547.75" width="3.60" height="2.50" fill="#1c1ca8" opacity="0.84"/>
<rect x="365.40" y="547.75" width="2.80" height="2.50" fill="#1c1ca8" opacity="0.72"/>
<rect x="371.80" y="547.75" width="4.40" height="2.50" fill="#1c1ca8" opacity="0.84"/>
<rect x="379.80" y="547.75" width="7.20" height="2.50" fill="#1c1ca8" opacity="0.64"/>
<rect x="395.00" y="547.75" width="0.70" height="2.50" fill="#1c1ca8" opacity="0.95"/>
<text x="73.50" y="544.40" font-size="2.75" fill="#4a4a4a">elcd_175_TXGMs_gene_</text>
<text x="112.50" y="544.40" font-size="2.75" fill="#4a4a4a">elcd_175_TXGMs_gene_</text>
<text x="151.50" y="544.40" font-size="2.75" fill="#4a4a4a">hg19_135_TXGMs_gene_</text>
<text x="187.50" y="544.40" font-size="2.75" fill="#4a4a4a">hg19_138_HgSMcsited_177_TXGMs_gene_</text>
<text x="247.50" y="544.40" font-size="2.75" fill="#4a4a4a">hg19_135_TXGMs_gene_</text>
<text x="280.50" y="544.40" font-size="2.75" fill="#4a4a4a">hg19_135_TXGMs_gene_</text>
<text x="73.50" y="555.00" font-size="2.75" fill="#4a4a4a">hg19_135_TXGMs_gene_</text>
<text x="109.50" y="555.00" font-size="2.75" fill="#4a4a4a">elcd_175_TXGMs_gene_</text>
<text x="142.50" y="555.00" font-size="2.75" fill="#4a4a4a">hg19_135_TXGMs_gene_</text>
<text x="175.50" y="555.00" font-size="2.75" fill="#4a4a4a">hg19_131_HgSMcsited_119_TXGMs_gene_</text>
<text x="235.50" y="555.00" font-size="2.75" fill="#4a4a4a">elcd_175_TXGMs_gene_</text>
<text x="271.50" y="555.00" font-size="2.75" fill="#4a4a4a">hg19_135_TXGMs_gene_</text>
<text x="328.00" y="544.60" font-size="2.64" fill="#4a4a4a">hg19_171_HgSMcsited_204_TXGMs_gene_</text>
<text x="308.94" y="542.50" font-size="8.4" textLength="82.47" lengthAdjust="spacingAndGlyphs" fill="#141414" stroke="#141414" stroke-width="0.3">H3K27Ac_log2FC:1.42</text>
<text x="318.35" y="555.90" font-size="8.4" textLength="70.99" lengthAdjust="spacingAndGlyphs" fill="#141414" stroke="#141414" stroke-width="0.3">BRD4_log2FC:-1.53</text>
<rect x="72.60" y="446.0" width="329.00" height="111.4" fill="none" stroke="#5c5c5c" stroke-width="1"/>
<line x1="72.60" y1="446.10" x2="401.60" y2="446.10" stroke="#8a8a8a" stroke-width="1.3"/>
<text x="49.47" y="459.00" font-size="8.1" font-weight="bold" textLength="19.74" lengthAdjust="spacingAndGlyphs" fill="#141414" stroke="#141414" stroke-width="0.22">SET2</text>
<text x="34.95" y="473.40" font-size="8.1" font-weight="bold" textLength="34.12" lengthAdjust="spacingAndGlyphs" fill="#141414" stroke="#141414" stroke-width="0.22">OTX P/R</text>
<text x="49.47" y="492.50" font-size="8.1" font-weight="bold" textLength="19.74" lengthAdjust="spacingAndGlyphs" fill="#141414" stroke="#141414" stroke-width="0.22">SET2</text>
<text x="34.95" y="510.90" font-size="8.1" font-weight="bold" textLength="34.12" lengthAdjust="spacingAndGlyphs" fill="#141414" stroke="#141414" stroke-width="0.22">OTX P/R</text>
<text x="74.50" y="454.10" font-size="8.2" font-weight="bold" textLength="19.94" lengthAdjust="spacingAndGlyphs" fill="#0a0a0a" stroke="#0a0a0a" stroke-width="0.2">0-6.5</text>
<text x="74.50" y="470.00" font-size="8.2" font-weight="bold" textLength="19.94" lengthAdjust="spacingAndGlyphs" fill="#0a0a0a" stroke="#0a0a0a" stroke-width="0.2">0-6.5</text>
<text x="74.50" y="486.60" font-size="8.2" font-weight="bold" textLength="19.94" lengthAdjust="spacingAndGlyphs" fill="#0a0a0a" stroke="#0a0a0a" stroke-width="0.2">0-5.5</text>
<text x="74.50" y="501.80" font-size="8.2" font-weight="bold" textLength="19.94" lengthAdjust="spacingAndGlyphs" fill="#0a0a0a" stroke="#0a0a0a" stroke-width="0.2">0-5.5</text>
<rect x="73.40" y="464.40" width="0.80" height="1.00" fill="#333"/>
<rect x="73.40" y="480.70" width="0.80" height="1.00" fill="#333"/>
<rect x="73.40" y="496.40" width="0.80" height="1.00" fill="#333"/>
<text x="30.00" y="484.61" font-size="8.3" font-weight="bold" textLength="40.28" lengthAdjust="spacingAndGlyphs" fill="#222" transform="rotate(-90 30.00 484.61)">H3K27Ac</text>
<line x1="31.10" y1="444.60" x2="31.10" y2="484.40" stroke="#333" stroke-width="0.7"/>
<text x="30.00" y="511.54" font-size="8.3" font-weight="bold" textLength="21.98" lengthAdjust="spacingAndGlyphs" fill="#222" transform="rotate(-90 30.00 511.54)">BRD4</text>
<line x1="31.10" y1="489.60" x2="31.10" y2="511.40" stroke="#333" stroke-width="0.7"/>
<rect x="72.60" y="579.00" width="329.00" height="117.00" fill="#fff"/>
<line x1="80.50" y1="584.00" x2="80.50" y2="586.00" stroke="#666" stroke-width="0.6"/>
<line x1="131.40" y1="584.00" x2="131.40" y2="586.00" stroke="#666" stroke-width="0.6"/>
<line x1="181.90" y1="584.00" x2="181.90" y2="586.00" stroke="#666" stroke-width="0.6"/>
<line x1="232.40" y1="584.00" x2="232.40" y2="586.00" stroke="#666" stroke-width="0.6"/>
<line x1="283.25" y1="584.00" x2="283.25" y2="586.00" stroke="#666" stroke-width="0.6"/>
<line x1="333.50" y1="584.00" x2="333.50" y2="586.00" stroke="#666" stroke-width="0.6"/>
<line x1="384.00" y1="584.00" x2="384.00" y2="586.00" stroke="#666" stroke-width="0.6"/>
<text x="80.80" y="582.60" font-size="2.64" fill="#4a4a4a" text-anchor="middle">128,800 kb</text>
<text x="181.90" y="582.60" font-size="2.64" fill="#4a4a4a" text-anchor="middle">128,800 kb</text>
<text x="283.25" y="582.60" font-size="2.64" fill="#4a4a4a" text-anchor="middle">128,800 kb</text>
<text x="384.00" y="582.60" font-size="2.64" fill="#4a4a4a" text-anchor="middle">128,800 kb</text>
<line x1="73.10" y1="587.00" x2="401.10" y2="587.00" stroke="#d0d0d0" stroke-width="0.6"/>
<rect x="73.10" y="588.40" width="328.00" height="1.70" fill="#6e6e6e"/>
<rect x="73.10" y="590.10" width="328.00" height="59.80" fill="#f8f8f8"/>
<line x1="72.60" y1="605.20" x2="401.60" y2="605.20" stroke="#ffffff" stroke-width="0.9"/>
<line x1="72.60" y1="619.80" x2="401.60" y2="619.80" stroke="#ffffff" stroke-width="0.9"/>
<line x1="72.60" y1="634.30" x2="401.60" y2="634.30" stroke="#ffffff" stroke-width="0.9"/>
<path d="M74.10,604.70v-1.07h1.00v1.07zM75.70,604.70v-1.22h2.00v1.22zM77.70,604.70v-2.34h1.00v2.34zM78.70,604.70v-1.22h1.00v1.22zM80.30,604.70v-1.30h2.00v1.30zM82.30,604.70v-1.08h2.50v1.08zM84.80,604.70v-0.95h3.00v0.95zM87.80,604.70v-2.23h1.00v2.23zM89.40,604.70v-1.19h2.50v1.19zM93.10,604.70v-1.09h0.80v1.09zM94.50,604.70v-1.17h1.00v1.17zM95.50,604.70v-2.00h1.20v2.00zM96.70,604.70v-0.98h2.00v0.98zM98.70,604.70v-1.02h2.00v1.02zM100.70,604.70v-1.30h1.50v1.30zM102.80,604.70v-1.19h1.00v1.19zM103.80,604.70v-0.93h2.00v0.93zM105.80,604.70v-1.14h2.50v1.14zM108.30,604.70v-1.17h1.00v1.17zM109.30,604.70v-1.04h1.50v1.04zM111.40,604.70v-0.93h1.00v0.93zM112.40,604.70v-1.97h1.20v1.97zM113.60,604.70v-1.06h1.00v1.06zM114.60,604.70v-0.91h2.50v0.91zM117.10,604.70v-1.00h3.00v1.00zM120.70,604.70v-1.22h2.00v1.22zM122.70,604.70v-0.92h1.50v0.92zM125.10,604.70v-1.80h1.00v1.80zM126.10,604.70v-1.20h1.00v1.20zM128.30,604.70v-1.26h2.50v1.26zM130.80,604.70v-1.22h1.50v1.22zM132.30,604.70v-1.09h2.00v1.09zM134.30,604.70v-1.11h1.00v1.11zM135.30,604.70v-2.14h0.80v2.14zM137.00,604.70v-1.00h3.00v1.00zM140.00,604.70v-1.06h3.00v1.06zM143.00,604.70v-0.96h1.00v0.96zM145.20,604.70v-1.61h1.20v1.61zM147.30,604.70v-1.28h2.50v1.28zM149.80,604.70v-1.84h1.20v1.84zM151.00,604.70v-1.20h2.50v1.20zM153.50,604.70v-1.21h3.00v1.21zM157.40,604.70v-1.06h0.80v1.06zM158.20,604.70v-1.00h1.00v1.00zM159.80,604.70v-1.06h1.00v1.06zM160.80,604.70v-1.23h1.50v1.23zM162.30,604.70v-0.94h2.50v0.94zM164.80,604.70v-1.03h3.00v1.03zM169.00,604.70v-2.05h1.20v2.05zM170.80,604.70v-0.93h1.50v0.93zM172.30,604.70v-1.16h0.80v1.16zM173.10,604.70v-1.10h2.00v1.10zM175.10,604.70v-1.08h3.00v1.08zM178.10,604.70v-2.10h1.20v2.10zM180.20,604.70v-1.14h3.00v1.14zM183.20,604.70v-1.06h1.00v1.06zM185.40,604.70v-1.84h0.80v1.84zM186.20,604.70v-1.21h1.00v1.21zM187.20,604.70v-1.19h3.00v1.19zM190.20,604.70v-1.00h1.50v1.00zM191.70,604.70v-1.05h2.50v1.05zM194.20,604.70v-2.29h0.80v2.29zM195.00,604.70v-1.77h0.80v1.77zM195.80,604.70v-1.20h3.00v1.20zM198.80,604.70v-1.80h1.00v1.80zM199.80,604.70v-1.53h1.20v1.53zM201.00,604.70v-1.26h1.00v1.26zM203.20,604.70v-1.85h1.20v1.85zM204.40,604.70v-1.15h2.00v1.15zM207.30,604.70v-2.36h1.20v2.36zM209.70,604.70v-2.02h1.20v2.02zM210.90,604.70v-1.18h2.00v1.18zM214.10,604.70v-0.94h1.00v0.94zM215.10,604.70v-2.21h0.80v2.21zM215.90,604.70v-1.24h2.50v1.24zM218.40,604.70v-1.00h2.50v1.00zM220.90,604.70v-1.27h2.50v1.27zM224.60,604.70v-0.93h0.80v0.93zM225.40,604.70v-2.23h1.20v2.23zM226.60,604.70v-1.10h2.50v1.10zM229.10,604.70v-1.01h1.00v1.01zM231.30,604.70v-1.56h0.80v1.56zM232.10,604.70v-1.23h3.00v1.23zM235.10,604.70v-0.91h1.00v0.91zM236.10,604.70v-1.71h1.20v1.71zM237.30,604.70v-1.06h1.50v1.06zM238.80,604.70v-1.07h2.50v1.07zM242.50,604.70v-1.19h0.80v1.19zM243.30,604.70v-0.97h3.00v0.97zM246.30,604.70v-1.25h1.00v1.25zM248.20,604.70v-0.92h3.00v0.92zM251.20,604.70v-1.11h2.50v1.11zM253.70,604.70v-0.98h2.00v0.98zM255.70,604.70v-0.90h1.50v0.90zM257.20,604.70v-0.91h2.50v0.91zM259.70,604.70v-1.27h1.00v1.27zM260.70,604.70v-0.99h1.00v0.99zM262.60,604.70v-1.21h3.00v1.21zM265.60,604.70v-1.99h1.00v1.99zM266.60,604.70v-1.13h1.50v1.13zM268.10,604.70v-1.20h2.50v1.20zM270.60,604.70v-0.94h3.00v0.94zM273.60,604.70v-2.10h1.20v2.10zM274.80,604.70v-1.21h2.00v1.21zM276.80,604.70v-0.97h1.50v0.97zM279.20,604.70v-0.92h1.50v0.92zM281.60,604.70v-1.08h2.50v1.08zM284.70,604.70v-1.05h1.00v1.05zM286.90,604.70v-1.02h2.50v1.02zM289.40,604.70v-0.99h2.00v0.99zM291.40,604.70v-2.32h1.20v2.32zM293.50,604.70v-1.04h2.00v1.04zM295.50,604.70v-1.18h3.00v1.18zM298.50,604.70v-1.16h1.50v1.16zM300.00,604.70v-2.26h0.80v2.26zM300.80,604.70v-1.20h0.80v1.20zM302.50,604.70v-1.17h0.80v1.17zM303.90,604.70v-1.10h1.00v1.10zM306.10,604.70v-1.27h1.50v1.27zM308.20,604.70v-0.92h1.50v0.92zM309.70,604.70v-1.20h0.80v1.20zM310.50,604.70v-0.99h3.00v0.99zM313.50,604.70v-1.28h2.50v1.28zM316.00,604.70v-1.86h1.20v1.86zM317.20,604.70v-1.08h3.00v1.08zM320.80,604.70v-1.24h0.80v1.24zM321.60,604.70v-1.26h2.50v1.26zM324.70,604.70v-0.91h1.00v0.91zM325.70,604.70v-1.67h1.20v1.67zM328.10,604.70v-1.24h1.00v1.24zM330.30,604.70v-0.95h3.00v0.95zM333.30,604.70v-1.52h1.00v1.52zM334.30,604.70v-1.68h1.00v1.68zM335.30,604.70v-1.18h2.50v1.18zM337.80,604.70v-1.22h1.50v1.22zM339.30,604.70v-0.91h2.00v0.91zM341.30,604.70v-2.08h1.20v2.08zM342.50,604.70v-1.21h1.50v1.21zM344.00,604.70v-1.02h1.00v1.02zM345.00,604.70v-1.06h1.50v1.06zM347.40,604.70v-0.94h2.50v0.94zM349.90,604.70v-0.96h3.00v0.96zM354.10,604.70v-1.08h3.00v1.08zM357.10,604.70v-2.38h1.20v2.38zM359.20,604.70v-0.98h3.00v0.98zM363.10,604.70v-0.97h2.00v0.97zM365.10,604.70v-1.65h1.00v1.65zM366.10,604.70v-1.17h0.80v1.17zM366.90,604.70v-1.00h2.00v1.00zM368.90,604.70v-1.01h1.00v1.01zM369.90,604.70v-1.83h1.20v1.83zM371.10,604.70v-0.96h3.00v0.96zM374.10,604.70v-1.55h1.20v1.55zM375.30,604.70v-1.03h1.50v1.03zM376.80,604.70v-2.02h1.00v2.02zM377.80,604.70v-1.22h1.00v1.22zM378.80,604.70v-1.25h0.80v1.25zM379.60,604.70v-1.10h1.00v1.10zM380.60,604.70v-1.16h1.00v1.16zM381.60,604.70v-1.21h1.50v1.21zM384.30,604.70v-1.60h0.80v1.60zM385.10,604.70v-1.96h0.80v1.96zM386.80,604.70v-1.02h3.00v1.02zM389.80,604.70v-0.95h2.50v0.95zM392.30,604.70v-1.09h1.50v1.09zM393.80,604.70v-1.81h1.20v1.81zM395.00,604.70v-1.58h1.20v1.58zM396.20,604.70v-0.90h1.00v0.90zM398.10,604.70v-2.22h1.20v2.22zM84.00,604.70v-1.82h0.9v1.82zM84.80,604.70v-1.28h0.9v1.28zM85.60,604.70v-1.15h0.9v1.15zM86.40,604.70v-1.39h0.9v1.39zM87.20,604.70v-1.86h0.9v1.86zM88.00,604.70v-1.73h0.9v1.73zM88.80,604.70v-1.24h0.9v1.24zM89.60,604.70v-1.21h0.9v1.21zM90.40,604.70v-1.88h0.9v1.88zM91.20,604.70v-1.49h0.9v1.49zM92.00,604.70v-1.39h0.9v1.39zM183.10,604.70v-4.00h0.9v4.00zM183.90,604.70v-3.24h0.9v3.24zM184.70,604.70v-4.15h0.9v4.15zM185.50,604.70v-3.05h0.9v3.05zM186.30,604.70v-4.44h0.9v4.44zM187.10,604.70v-2.49h0.9v2.49zM187.90,604.70v-3.06h0.9v3.06zM188.70,604.70v-2.90h0.9v2.90zM189.50,604.70v-4.21h0.9v4.21zM190.30,604.70v-4.09h0.9v4.09zM191.10,604.70v-2.82h0.9v2.82zM191.90,604.70v-4.50h0.9v4.50zM192.70,604.70v-3.76h0.9v3.76zM193.50,604.70v-4.38h0.9v4.38zM194.30,604.70v-3.42h0.9v3.42zM195.10,604.70v-3.97h0.9v3.97zM195.90,604.70v-4.45h0.9v4.45zM198.60,604.70v-2.84h0.9v2.84zM199.40,604.70v-4.13h0.9v4.13zM200.20,604.70v-3.45h0.9v3.45zM201.00,604.70v-2.52h0.9v2.52zM201.80,604.70v-3.31h0.9v3.31zM202.60,604.70v-3.57h0.9v3.57zM203.40,604.70v-4.56h0.9v4.56zM204.20,604.70v-3.73h0.9v3.73zM205.00,604.70v-4.57h0.9v4.57zM205.80,604.70v-4.64h0.9v4.64zM206.60,604.70v-4.36h0.9v4.36zM207.40,604.70v-4.58h0.9v4.58zM210.50,604.70v-2.46h0.9v2.46zM211.30,604.70v-1.61h0.9v1.61zM212.10,604.70v-2.67h0.9v2.67zM212.90,604.70v-2.98h0.9v2.98zM213.70,604.70v-2.33h0.9v2.33zM253.00,604.70v-3.30h0.9v3.30zM253.80,604.70v-2.00h0.9v2.00zM254.60,604.70v-3.60h0.9v3.60zM255.40,604.70v-3.57h0.9v3.57zM256.20,604.70v-3.78h0.9v3.78zM257.00,604.70v-3.73h0.9v3.73zM257.80,604.70v-2.16h0.9v2.16zM258.60,604.70v-2.73h0.9v2.73zM259.40,604.70v-3.77h0.9v3.77zM260.20,604.70v-3.55h0.9v3.55zM261.00,604.70v-3.42h0.9v3.42zM261.80,604.70v-2.88h0.9v2.88zM262.60,604.70v-2.48h0.9v2.48zM330.00,604.70v-1.77h0.9v1.77zM330.80,604.70v-1.84h0.9v1.84zM331.60,604.70v-2.17h0.9v2.17zM332.40,604.70v-1.50h0.9v1.50zM336.00,604.70v-2.13h0.9v2.13zM336.80,604.70v-1.34h0.9v1.34zM337.60,604.70v-2.12h0.9v2.12zM338.40,604.70v-1.85h0.9v1.85zM340.20,604.70v-6.56h0.9v6.56zM341.00,604.70v-7.15h0.9v7.15zM341.80,604.70v-6.10h0.9v6.10zM342.60,604.70v-7.09h0.9v7.09zM343.40,604.70v-6.03h0.9v6.03zM344.20,604.70v-6.43h0.9v6.43zM345.00,604.70v-7.55h0.9v7.55zM345.80,604.70v-6.80h0.9v6.80zM346.60,604.70v-7.49h0.9v7.49zM85.60,604.70L87.00,603.05L87.00,601.40L88.20,601.40L88.20,603.05L89.60,604.70zM102.30,604.70L103.70,603.50L103.70,602.40L104.80,602.40L104.80,603.50L106.20,604.70zM185.55,604.70L186.95,602.60L186.95,600.40L188.05,600.40L188.05,602.60L189.45,604.70zM188.05,604.70L189.45,602.82L189.45,600.90L190.55,600.90L190.55,602.82L191.95,604.70zM190.43,604.70L191.82,601.12L191.82,597.10L193.18,597.10L193.18,601.12L194.57,604.70zM192.45,604.70L193.85,602.60L193.85,600.40L194.95,600.40L194.95,602.60L196.35,604.70zM204.10,604.70L205.50,601.43L205.50,597.80L206.70,597.80L206.70,601.43L208.10,604.70zM219.80,604.70L221.20,603.73L221.20,602.90L222.30,602.90L222.30,603.73L223.70,604.70zM252.83,604.70L254.22,601.97L254.22,599.00L255.58,599.00L255.58,601.97L256.98,604.70zM307.80,604.70L309.20,603.27L309.20,601.90L310.30,601.90L310.30,603.27L311.70,604.70zM332.55,604.70L333.95,602.69L333.95,600.60L335.05,600.60L335.05,602.69L336.45,604.70zM341.20,604.70L342.60,600.62L342.60,596.00L343.80,596.00L343.80,600.62L345.20,604.70z" fill="#ff0000"/>
<path d="M74.10,619.05v-1.00h1.00v1.00zM75.10,619.05v-0.95h3.00v0.95zM78.70,619.05v-2.38h1.00v2.38zM80.90,619.05v-1.19h3.00v1.19zM83.90,619.05v-1.25h2.50v1.25zM87.00,619.05v-1.24h1.00v1.24zM88.00,619.05v-0.92h2.50v0.92zM91.10,619.05v-1.02h2.00v1.02zM93.10,619.05v-1.11h3.00v1.11zM97.30,619.05v-1.07h1.00v1.07zM98.30,619.05v-1.27h2.00v1.27zM100.30,619.05v-1.06h2.00v1.06zM103.50,619.05v-2.02h1.20v2.02zM104.70,619.05v-1.07h2.50v1.07zM107.20,619.05v-0.94h0.80v0.94zM108.90,619.05v-1.27h0.80v1.27zM109.70,619.05v-0.90h2.00v0.90zM112.30,619.05v-2.32h1.20v2.32zM113.50,619.05v-0.91h2.00v0.91zM115.50,619.05v-1.20h3.00v1.20zM119.10,619.05v-2.03h1.20v2.03zM120.90,619.05v-1.76h1.20v1.76zM122.10,619.05v-2.14h1.20v2.14zM123.30,619.05v-1.23h0.80v1.23zM124.10,619.05v-0.97h0.80v0.97zM125.50,619.05v-1.15h1.00v1.15zM126.50,619.05v-0.92h1.00v0.92zM127.50,619.05v-1.30h0.80v1.30zM128.30,619.05v-0.97h0.80v0.97zM130.00,619.05v-0.98h2.50v0.98zM132.50,619.05v-1.84h1.20v1.84zM133.70,619.05v-0.98h0.80v0.98zM134.50,619.05v-1.20h0.80v1.20zM135.30,619.05v-2.33h1.00v2.33zM136.30,619.05v-0.96h2.50v0.96zM138.80,619.05v-1.75h0.80v1.75zM139.60,619.05v-0.91h3.00v0.91zM143.80,619.05v-1.24h2.00v1.24zM145.80,619.05v-1.04h1.00v1.04zM146.80,619.05v-0.90h3.00v0.90zM149.80,619.05v-1.24h1.00v1.24zM150.80,619.05v-1.04h3.00v1.04zM153.80,619.05v-1.00h1.00v1.00zM156.00,619.05v-1.18h2.00v1.18zM158.00,619.05v-1.10h1.00v1.10zM159.00,619.05v-1.05h0.80v1.05zM160.40,619.05v-0.92h0.80v0.92zM162.40,619.05v-2.00h1.20v2.00zM163.60,619.05v-0.90h2.50v0.90zM166.10,619.05v-1.28h0.80v1.28zM166.90,619.05v-1.66h0.80v1.66zM167.70,619.05v-1.26h1.50v1.26zM169.20,619.05v-1.12h3.00v1.12zM172.20,619.05v-0.92h3.00v0.92zM175.20,619.05v-1.72h1.20v1.72zM177.30,619.05v-1.26h1.50v1.26zM179.70,619.05v-1.76h1.20v1.76zM180.90,619.05v-1.23h1.00v1.23zM181.90,619.05v-1.28h2.50v1.28zM185.30,619.05v-2.24h1.20v2.24zM186.50,619.05v-2.39h1.20v2.39zM187.70,619.05v-1.12h0.80v1.12zM189.40,619.05v-1.62h0.80v1.62zM190.20,619.05v-1.07h2.00v1.07zM192.20,619.05v-1.22h2.00v1.22zM194.20,619.05v-1.18h1.50v1.18zM196.60,619.05v-0.99h0.80v0.99zM197.40,619.05v-0.95h3.00v0.95zM201.30,619.05v-1.00h2.50v1.00zM203.80,619.05v-1.20h1.50v1.20zM205.30,619.05v-1.17h2.00v1.17zM207.30,619.05v-1.00h2.00v1.00zM209.30,619.05v-1.16h1.00v1.16zM210.90,619.05v-1.27h2.50v1.27zM214.30,619.05v-2.17h1.20v2.17zM216.40,619.05v-2.00h1.00v2.00zM217.40,619.05v-2.11h1.20v2.11zM218.60,619.05v-1.95h1.00v1.95zM219.60,619.05v-0.90h0.80v0.90zM220.40,619.05v-2.04h1.00v2.04zM221.40,619.05v-1.05h1.50v1.05zM223.50,619.05v-1.10h3.00v1.10zM226.50,619.05v-1.03h2.00v1.03zM229.10,619.05v-1.61h1.20v1.61zM231.50,619.05v-1.29h2.50v1.29zM234.00,619.05v-2.27h1.20v2.27zM235.20,619.05v-0.92h1.50v0.92zM236.70,619.05v-1.19h1.00v1.19zM237.70,619.05v-1.26h0.80v1.26zM238.50,619.05v-1.08h1.00v1.08zM240.70,619.05v-1.07h2.00v1.07zM243.60,619.05v-2.01h1.20v2.01zM244.80,619.05v-1.92h1.20v1.92zM246.90,619.05v-1.52h1.00v1.52zM248.80,619.05v-1.20h2.00v1.20zM250.80,619.05v-1.14h1.50v1.14zM253.20,619.05v-1.12h0.80v1.12zM254.90,619.05v-0.96h2.00v0.96zM256.90,619.05v-2.31h1.20v2.31zM258.10,619.05v-1.15h2.50v1.15zM261.20,619.05v-1.53h1.00v1.53zM262.20,619.05v-1.71h1.20v1.71zM263.40,619.05v-0.97h2.00v0.97zM265.40,619.05v-1.09h2.50v1.09zM267.90,619.05v-2.20h1.20v2.20zM269.10,619.05v-1.17h3.00v1.17zM272.10,619.05v-0.93h2.50v0.93zM274.60,619.05v-1.64h1.00v1.64zM276.20,619.05v-1.94h1.20v1.94zM277.40,619.05v-2.32h0.80v2.32zM278.20,619.05v-1.17h0.80v1.17zM279.00,619.05v-1.06h2.00v1.06zM281.00,619.05v-0.97h1.00v0.97zM282.60,619.05v-1.20h0.80v1.20zM283.40,619.05v-1.10h2.50v1.10zM287.10,619.05v-1.17h1.50v1.17zM288.60,619.05v-2.35h1.20v2.35zM289.80,619.05v-0.94h2.00v0.94zM291.80,619.05v-1.05h0.80v1.05zM292.60,619.05v-1.06h1.50v1.06zM294.10,619.05v-2.15h0.80v2.15zM294.90,619.05v-1.03h2.00v1.03zM296.90,619.05v-1.28h0.80v1.28zM297.70,619.05v-2.17h1.20v2.17zM298.90,619.05v-1.07h1.50v1.07zM300.40,619.05v-1.71h1.20v1.71zM302.80,619.05v-1.16h2.00v1.16zM304.80,619.05v-1.09h3.00v1.09zM307.80,619.05v-1.22h0.80v1.22zM309.50,619.05v-2.30h1.20v2.30zM310.70,619.05v-1.12h2.00v1.12zM312.70,619.05v-1.28h2.50v1.28zM316.10,619.05v-1.94h1.20v1.94zM318.50,619.05v-2.10h0.80v2.10zM319.30,619.05v-1.24h3.00v1.24zM322.30,619.05v-1.72h1.20v1.72zM324.10,619.05v-1.05h0.80v1.05zM324.90,619.05v-1.58h0.80v1.58zM326.90,619.05v-1.29h2.00v1.29zM328.90,619.05v-1.13h1.00v1.13zM329.90,619.05v-1.10h2.50v1.10zM333.30,619.05v-1.54h1.20v1.54zM335.70,619.05v-1.95h1.00v1.95zM336.70,619.05v-1.13h0.80v1.13zM338.40,619.05v-1.22h1.50v1.22zM339.90,619.05v-1.02h1.00v1.02zM340.90,619.05v-1.02h1.00v1.02zM343.10,619.05v-1.15h0.80v1.15zM343.90,619.05v-1.26h3.00v1.26zM348.10,619.05v-1.02h3.00v1.02zM351.10,619.05v-1.16h1.00v1.16zM352.10,619.05v-2.29h1.00v2.29zM354.30,619.05v-1.27h2.50v1.27zM356.80,619.05v-1.77h1.20v1.77zM358.00,619.05v-2.18h1.20v2.18zM360.10,619.05v-2.16h1.20v2.16zM361.30,619.05v-1.15h1.50v1.15zM362.80,619.05v-1.25h0.80v1.25zM363.60,619.05v-1.18h3.00v1.18zM367.80,619.05v-1.29h3.00v1.29zM372.00,619.05v-1.16h1.00v1.16zM373.00,619.05v-0.98h2.50v0.98zM376.40,619.05v-1.14h0.80v1.14zM377.20,619.05v-2.30h1.00v2.30zM378.20,619.05v-1.02h2.00v1.02zM380.20,619.05v-1.11h2.50v1.11zM383.60,619.05v-1.19h1.00v1.19zM384.60,619.05v-1.06h2.00v1.06zM386.60,619.05v-0.91h2.50v0.91zM389.10,619.05v-2.12h1.20v2.12zM391.20,619.05v-0.96h2.00v0.96zM393.20,619.05v-1.24h2.50v1.24zM395.70,619.05v-1.18h1.50v1.18zM398.10,619.05v-1.26h1.00v1.26zM183.50,619.05v-3.45h0.9v3.45zM184.30,619.05v-2.32h0.9v2.32zM185.10,619.05v-2.45h0.9v2.45zM185.90,619.05v-3.01h0.9v3.01zM186.70,619.05v-3.10h0.9v3.10zM187.50,619.05v-2.16h0.9v2.16zM188.30,619.05v-3.87h0.9v3.87zM189.10,619.05v-2.76h0.9v2.76zM189.90,619.05v-2.04h0.9v2.04zM190.70,619.05v-2.87h0.9v2.87zM191.50,619.05v-3.50h0.9v3.50zM192.30,619.05v-2.73h0.9v2.73zM193.10,619.05v-2.79h0.9v2.79zM193.90,619.05v-2.09h0.9v2.09zM194.70,619.05v-3.73h0.9v3.73zM195.50,619.05v-3.42h0.9v3.42zM198.60,619.05v-2.29h0.9v2.29zM199.40,619.05v-3.15h0.9v3.15zM200.20,619.05v-3.71h0.9v3.71zM201.00,619.05v-2.46h0.9v2.46zM201.80,619.05v-3.38h0.9v3.38zM202.60,619.05v-2.93h0.9v2.93zM203.40,619.05v-2.58h0.9v2.58zM204.20,619.05v-2.65h0.9v2.65zM205.00,619.05v-2.24h0.9v2.24zM205.80,619.05v-3.16h0.9v3.16zM206.60,619.05v-2.80h0.9v2.80zM207.40,619.05v-3.80h0.9v3.80zM253.00,619.05v-2.02h0.9v2.02zM253.80,619.05v-2.80h0.9v2.80zM254.60,619.05v-3.16h0.9v3.16zM255.40,619.05v-3.77h0.9v3.77zM256.20,619.05v-2.89h0.9v2.89zM257.00,619.05v-2.34h0.9v2.34zM257.80,619.05v-3.55h0.9v3.55zM258.60,619.05v-3.38h0.9v3.38zM259.40,619.05v-3.71h0.9v3.71zM260.20,619.05v-2.92h0.9v2.92zM261.00,619.05v-2.09h0.9v2.09zM261.80,619.05v-3.67h0.9v3.67zM339.50,619.05v-3.83h0.9v3.83zM340.30,619.05v-4.91h0.9v4.91zM341.10,619.05v-3.89h0.9v3.89zM341.90,619.05v-3.54h0.9v3.54zM342.70,619.05v-5.83h0.9v5.83zM343.50,619.05v-3.55h0.9v3.55zM344.30,619.05v-3.57h0.9v3.57zM345.10,619.05v-5.21h0.9v5.21zM345.90,619.05v-5.28h0.9v5.28zM346.70,619.05v-3.63h0.9v3.63zM85.60,619.05L87.00,617.31L87.00,615.55L88.20,615.55L88.20,617.31L89.60,619.05zM102.05,619.05L103.45,618.08L103.45,617.25L104.55,617.25L104.55,618.08L105.95,619.05zM185.05,619.05L186.45,616.63L186.45,614.05L187.55,614.05L187.55,616.63L188.95,619.05zM190.43,619.05L191.82,615.60L191.82,611.75L193.18,611.75L193.18,615.60L194.57,619.05zM204.05,619.05L205.45,616.63L205.45,614.05L206.55,614.05L206.55,616.63L207.95,619.05zM253.43,619.05L254.82,615.60L254.82,611.75L256.18,611.75L256.18,615.60L257.57,619.05zM333.05,619.05L334.45,616.95L334.45,614.75L335.55,614.75L335.55,616.95L336.95,619.05zM336.05,619.05L337.45,617.40L337.45,615.75L338.55,615.75L338.55,617.40L339.95,619.05zM339.23,619.05L340.62,613.89L340.62,607.95L344.38,607.95L344.38,613.89L345.77,619.05z" fill="#0000ff"/>
<path d="M74.10,633.70v-2.03h1.20v2.03zM75.30,633.70v-1.04h2.50v1.04zM78.40,633.70v-1.15h1.00v1.15zM80.60,633.70v-1.07h2.00v1.07zM82.60,633.70v-1.53h1.20v1.53zM83.80,633.70v-1.15h1.00v1.15zM84.80,633.70v-1.29h1.50v1.29zM86.30,633.70v-0.93h2.50v0.93zM88.80,633.70v-1.22h2.50v1.22zM91.90,633.70v-1.03h2.50v1.03zM95.00,633.70v-1.75h0.80v1.75zM95.80,633.70v-1.03h2.50v1.03zM99.20,633.70v-1.12h2.00v1.12zM101.80,633.70v-1.22h3.00v1.22zM105.40,633.70v-1.14h3.00v1.14zM109.00,633.70v-1.15h0.80v1.15zM110.40,633.70v-0.91h3.00v0.91zM113.40,633.70v-1.12h0.80v1.12zM114.20,633.70v-0.91h1.50v0.91zM115.70,633.70v-0.93h0.80v0.93zM117.40,633.70v-1.98h1.20v1.98zM119.80,633.70v-1.23h2.50v1.23zM122.30,633.70v-1.08h0.80v1.08zM123.10,633.70v-1.26h1.00v1.26zM124.10,633.70v-1.28h3.00v1.28zM127.10,633.70v-1.02h2.50v1.02zM129.60,633.70v-1.76h1.20v1.76zM131.40,633.70v-1.29h1.50v1.29zM132.90,633.70v-2.01h1.00v2.01zM133.90,633.70v-1.25h1.00v1.25zM134.90,633.70v-1.01h3.00v1.01zM138.50,633.70v-2.11h1.20v2.11zM140.60,633.70v-2.13h1.20v2.13zM141.80,633.70v-1.30h3.00v1.30zM146.00,633.70v-1.01h1.50v1.01zM148.10,633.70v-1.91h1.20v1.91zM149.30,633.70v-1.03h3.00v1.03zM153.20,633.70v-1.06h1.00v1.06zM154.20,633.70v-1.20h2.00v1.20zM156.20,633.70v-1.74h1.20v1.74zM157.40,633.70v-1.05h2.50v1.05zM159.90,633.70v-1.13h1.50v1.13zM161.40,633.70v-2.19h1.20v2.19zM162.60,633.70v-0.92h2.00v0.92zM165.50,633.70v-0.96h2.50v0.96zM169.20,633.70v-1.06h2.50v1.06zM172.30,633.70v-1.27h2.50v1.27zM175.40,633.70v-2.05h1.20v2.05zM177.80,633.70v-1.09h1.50v1.09zM179.30,633.70v-1.23h0.80v1.23zM180.10,633.70v-0.91h1.50v0.91zM182.20,633.70v-1.29h1.00v1.29zM183.20,633.70v-1.11h1.00v1.11zM184.20,633.70v-2.00h1.20v2.00zM185.40,633.70v-1.25h2.00v1.25zM187.40,633.70v-1.04h1.00v1.04zM189.00,633.70v-1.06h2.00v1.06zM191.00,633.70v-0.96h2.50v0.96zM193.50,633.70v-1.03h0.80v1.03zM194.30,633.70v-1.27h2.50v1.27zM196.80,633.70v-1.17h0.80v1.17zM198.50,633.70v-2.31h1.20v2.31zM199.70,633.70v-0.97h2.50v0.97zM203.10,633.70v-2.07h0.80v2.07zM205.10,633.70v-1.07h0.80v1.07zM205.90,633.70v-1.18h3.00v1.18zM209.50,633.70v-2.03h1.00v2.03zM210.50,633.70v-1.20h2.50v1.20zM213.00,633.70v-0.96h3.00v0.96zM217.20,633.70v-1.20h0.80v1.20zM218.00,633.70v-1.24h1.00v1.24zM220.20,633.70v-1.07h1.50v1.07zM221.70,633.70v-1.02h2.50v1.02zM225.40,633.70v-1.22h2.50v1.22zM228.50,633.70v-1.27h3.00v1.27zM232.40,633.70v-1.28h0.80v1.28zM233.20,633.70v-1.19h0.80v1.19zM234.00,633.70v-1.01h2.50v1.01zM236.50,633.70v-1.16h3.00v1.16zM240.70,633.70v-2.24h1.20v2.24zM242.50,633.70v-0.92h2.00v0.92zM245.10,633.70v-1.22h2.50v1.22zM247.60,633.70v-1.52h1.20v1.52zM249.40,633.70v-1.16h1.50v1.16zM250.90,633.70v-0.90h2.00v0.90zM252.90,633.70v-1.17h1.50v1.17zM254.40,633.70v-1.02h1.00v1.02zM256.00,633.70v-1.23h1.00v1.23zM257.90,633.70v-2.11h1.20v2.11zM259.10,633.70v-1.27h2.50v1.27zM261.60,633.70v-2.03h1.20v2.03zM262.80,633.70v-0.95h1.00v0.95zM265.00,633.70v-1.05h2.50v1.05zM267.50,633.70v-1.00h3.00v1.00zM270.50,633.70v-0.99h2.00v0.99zM272.50,633.70v-0.92h1.50v0.92zM274.00,633.70v-2.01h1.00v2.01zM275.00,633.70v-2.33h0.80v2.33zM277.00,633.70v-1.09h1.00v1.09zM278.60,633.70v-1.26h2.00v1.26zM281.80,633.70v-1.05h3.00v1.05zM286.00,633.70v-2.27h1.20v2.27zM287.20,633.70v-0.96h3.00v0.96zM290.20,633.70v-1.15h3.00v1.15zM293.20,633.70v-1.28h3.00v1.28zM296.20,633.70v-1.11h1.00v1.11zM297.20,633.70v-1.22h3.00v1.22zM300.20,633.70v-1.06h2.50v1.06zM302.70,633.70v-1.19h2.00v1.19zM304.70,633.70v-1.21h1.50v1.21zM306.20,633.70v-1.04h2.00v1.04zM308.20,633.70v-1.66h1.20v1.66zM310.60,633.70v-1.26h1.00v1.26zM311.60,633.70v-1.14h1.00v1.14zM312.60,633.70v-1.00h1.50v1.00zM314.10,633.70v-0.97h3.00v0.97zM317.10,633.70v-1.19h2.00v1.19zM319.10,633.70v-1.05h1.50v1.05zM320.60,633.70v-0.92h3.00v0.92zM324.80,633.70v-1.67h0.80v1.67zM325.60,633.70v-1.25h1.50v1.25zM328.30,633.70v-1.03h1.50v1.03zM329.80,633.70v-1.27h2.00v1.27zM333.00,633.70v-1.26h2.00v1.26zM336.20,633.70v-1.21h0.80v1.21zM337.00,633.70v-1.23h0.80v1.23zM337.80,633.70v-1.83h0.80v1.83zM338.60,633.70v-1.08h3.00v1.08zM341.60,633.70v-1.19h3.00v1.19zM345.80,633.70v-0.94h1.00v0.94zM346.80,633.70v-1.22h0.80v1.22zM347.60,633.70v-1.24h1.00v1.24zM348.60,633.70v-1.85h1.00v1.85zM350.50,633.70v-1.29h0.80v1.29zM351.90,633.70v-1.00h1.00v1.00zM353.50,633.70v-1.67h1.20v1.67zM354.70,633.70v-1.22h0.80v1.22zM356.10,633.70v-2.02h0.80v2.02zM356.90,633.70v-1.03h3.00v1.03zM359.90,633.70v-1.25h0.80v1.25zM361.30,633.70v-1.58h0.80v1.58zM362.70,633.70v-1.18h0.80v1.18zM364.40,633.70v-1.19h2.50v1.19zM366.90,633.70v-1.96h1.20v1.96zM368.10,633.70v-1.13h0.80v1.13zM368.90,633.70v-0.91h3.00v0.91zM371.90,633.70v-1.24h2.50v1.24zM374.40,633.70v-2.21h1.00v2.21zM375.40,633.70v-1.23h3.00v1.23zM378.40,633.70v-1.02h3.00v1.02zM382.00,633.70v-2.28h1.20v2.28zM383.20,633.70v-1.05h2.50v1.05zM385.70,633.70v-0.94h2.50v0.94zM389.10,633.70v-2.01h1.20v2.01zM391.20,633.70v-2.23h0.80v2.23zM392.00,633.70v-1.04h0.80v1.04zM392.80,633.70v-0.92h2.00v0.92zM394.80,633.70v-1.64h1.20v1.64zM397.20,633.70v-1.23h1.00v1.23zM398.20,633.70v-0.96h2.00v0.96zM85.00,633.70v-2.07h0.9v2.07zM85.80,633.70v-1.51h0.9v1.51zM86.60,633.70v-1.68h0.9v1.68zM87.40,633.70v-2.09h0.9v2.09zM88.20,633.70v-1.18h0.9v1.18zM89.00,633.70v-2.11h0.9v2.11zM89.80,633.70v-1.04h0.9v1.04zM90.60,633.70v-2.04h0.9v2.04zM91.40,633.70v-1.72h0.9v1.72zM185.00,633.70v-2.22h0.9v2.22zM185.80,633.70v-1.84h0.9v1.84zM186.60,633.70v-2.74h0.9v2.74zM187.40,633.70v-2.32h0.9v2.32zM188.20,633.70v-2.89h0.9v2.89zM189.00,633.70v-2.65h0.9v2.65zM189.80,633.70v-2.18h0.9v2.18zM190.60,633.70v-1.65h0.9v1.65zM191.40,633.70v-2.02h0.9v2.02zM192.20,633.70v-2.69h0.9v2.69zM193.00,633.70v-2.34h0.9v2.34zM193.80,633.70v-2.13h0.9v2.13zM194.60,633.70v-1.63h0.9v1.63zM195.40,633.70v-1.84h0.9v1.84zM198.00,633.70v-1.92h0.9v1.92zM198.80,633.70v-1.71h0.9v1.71zM199.60,633.70v-1.89h0.9v1.89zM200.40,633.70v-2.64h0.9v2.64zM201.20,633.70v-1.75h0.9v1.75zM202.00,633.70v-1.96h0.9v1.96zM202.80,633.70v-2.37h0.9v2.37zM203.60,633.70v-1.88h0.9v1.88zM204.40,633.70v-2.63h0.9v2.63zM205.20,633.70v-1.82h0.9v1.82zM206.00,633.70v-1.62h0.9v1.62zM206.80,633.70v-2.28h0.9v2.28zM207.60,633.70v-2.75h0.9v2.75zM253.00,633.70v-1.57h0.9v1.57zM253.80,633.70v-2.75h0.9v2.75zM254.60,633.70v-1.60h0.9v1.60zM255.40,633.70v-1.59h0.9v1.59zM256.20,633.70v-1.62h0.9v1.62zM257.00,633.70v-2.00h0.9v2.00zM257.80,633.70v-1.64h0.9v1.64zM258.60,633.70v-1.80h0.9v1.80zM259.40,633.70v-2.29h0.9v2.29zM340.00,633.70v-5.26h0.9v5.26zM340.80,633.70v-5.80h0.9v5.80zM341.60,633.70v-5.28h0.9v5.28zM342.40,633.70v-5.54h0.9v5.54zM343.20,633.70v-6.02h0.9v6.02zM344.00,633.70v-6.54h0.9v6.54zM344.80,633.70v-6.66h0.9v6.66zM345.60,633.70v-5.23h0.9v5.23zM346.40,633.70v-6.56h0.9v6.56zM86.00,633.70L87.40,631.42L87.40,629.00L88.60,629.00L88.60,631.42L90.00,633.70zM191.10,633.70L192.50,630.56L192.50,627.10L193.70,627.10L193.70,630.56L195.10,633.70zM204.00,633.70L205.40,630.02L205.40,625.90L206.60,625.90L206.60,630.02L208.00,633.70zM253.25,633.70L254.65,630.02L254.65,625.90L255.85,625.90L255.85,630.02L257.25,633.70zM307.80,633.70L309.20,632.27L309.20,630.90L310.30,630.90L310.30,632.27L311.70,633.70zM333.05,633.70L334.45,631.82L334.45,629.90L335.55,629.90L335.55,631.82L336.95,633.70z" fill="#ff00ff"/>
<path d="M74.10,648.05v-1.05h3.00v1.05zM77.70,648.05v-0.97h1.00v0.97zM78.70,648.05v-1.22h1.00v1.22zM79.70,648.05v-1.08h0.80v1.08zM80.50,648.05v-1.94h0.80v1.94zM81.30,648.05v-1.02h3.00v1.02zM85.20,648.05v-0.96h2.50v0.96zM88.90,648.05v-1.05h3.00v1.05zM91.90,648.05v-1.04h1.50v1.04zM94.00,648.05v-2.26h1.20v2.26zM95.20,648.05v-1.01h1.50v1.01zM96.70,648.05v-1.13h0.80v1.13zM97.50,648.05v-1.09h1.50v1.09zM99.00,648.05v-1.09h1.00v1.09zM100.00,648.05v-1.11h1.00v1.11zM101.00,648.05v-1.03h1.50v1.03zM103.10,648.05v-1.06h1.50v1.06zM104.60,648.05v-1.21h1.50v1.21zM106.10,648.05v-1.25h1.50v1.25zM107.60,648.05v-1.25h0.80v1.25zM108.40,648.05v-0.91h0.80v0.91zM109.20,648.05v-1.12h2.00v1.12zM111.20,648.05v-1.24h2.00v1.24zM113.20,648.05v-1.03h1.00v1.03zM114.20,648.05v-1.22h3.00v1.22zM117.20,648.05v-1.18h0.80v1.18zM118.00,648.05v-1.01h1.50v1.01zM119.50,648.05v-2.32h1.20v2.32zM120.70,648.05v-0.97h0.80v0.97zM122.70,648.05v-0.99h2.50v0.99zM125.80,648.05v-2.34h0.80v2.34zM126.60,648.05v-1.80h1.20v1.80zM128.40,648.05v-0.96h0.80v0.96zM130.40,648.05v-1.11h2.00v1.11zM132.40,648.05v-1.08h2.00v1.08zM134.40,648.05v-1.24h3.00v1.24zM138.00,648.05v-2.37h1.20v2.37zM139.80,648.05v-1.15h3.00v1.15zM144.00,648.05v-1.14h3.00v1.14zM147.90,648.05v-2.38h1.20v2.38zM149.10,648.05v-1.13h2.00v1.13zM151.10,648.05v-1.25h1.00v1.25zM152.70,648.05v-1.75h1.20v1.75zM153.90,648.05v-1.20h2.50v1.20zM157.00,648.05v-1.28h1.50v1.28zM158.50,648.05v-1.04h1.00v1.04zM160.10,648.05v-1.23h1.50v1.23zM161.60,648.05v-1.82h1.20v1.82zM162.80,648.05v-1.04h2.00v1.04zM164.80,648.05v-1.53h1.00v1.53zM165.80,648.05v-1.15h1.50v1.15zM168.50,648.05v-1.29h1.50v1.29zM170.00,648.05v-1.60h1.20v1.60zM171.20,648.05v-1.11h1.00v1.11zM172.20,648.05v-1.01h1.00v1.01zM173.80,648.05v-2.05h1.20v2.05zM175.00,648.05v-1.00h0.80v1.00zM176.70,648.05v-0.96h2.00v0.96zM179.90,648.05v-1.28h1.50v1.28zM181.40,648.05v-2.04h1.20v2.04zM182.60,648.05v-1.88h1.20v1.88zM183.80,648.05v-1.29h1.50v1.29zM185.30,648.05v-1.12h2.00v1.12zM187.30,648.05v-1.22h3.00v1.22zM190.30,648.05v-1.11h1.00v1.11zM192.20,648.05v-1.98h1.20v1.98zM193.40,648.05v-1.19h1.00v1.19zM194.40,648.05v-1.83h1.20v1.83zM195.60,648.05v-1.64h1.20v1.64zM196.80,648.05v-1.28h2.00v1.28zM199.70,648.05v-1.02h2.50v1.02zM202.20,648.05v-0.99h2.00v0.99zM204.20,648.05v-1.13h2.50v1.13zM207.90,648.05v-1.01h0.80v1.01zM209.90,648.05v-1.50h1.20v1.50zM211.10,648.05v-1.06h1.00v1.06zM212.10,648.05v-1.59h1.20v1.59zM213.30,648.05v-0.96h1.50v0.96zM215.40,648.05v-1.28h2.00v1.28zM217.40,648.05v-1.25h2.00v1.25zM220.30,648.05v-1.07h2.00v1.07zM223.20,648.05v-1.29h3.00v1.29zM226.20,648.05v-1.27h1.00v1.27zM227.20,648.05v-2.18h0.80v2.18zM229.20,648.05v-1.25h3.00v1.25zM232.20,648.05v-1.66h0.80v1.66zM233.90,648.05v-2.20h1.00v2.20zM236.10,648.05v-1.20h1.50v1.20zM238.80,648.05v-1.18h2.50v1.18zM241.90,648.05v-1.29h3.00v1.29zM245.50,648.05v-0.99h3.00v0.99zM248.50,648.05v-0.94h2.50v0.94zM251.00,648.05v-1.25h1.50v1.25zM252.50,648.05v-0.95h1.50v0.95zM254.00,648.05v-1.03h3.00v1.03zM257.00,648.05v-1.19h1.00v1.19zM258.00,648.05v-0.97h3.00v0.97zM261.00,648.05v-0.99h2.50v0.99zM263.50,648.05v-1.13h2.50v1.13zM266.00,648.05v-1.27h1.00v1.27zM268.20,648.05v-1.29h1.00v1.29zM269.20,648.05v-0.92h0.80v0.92zM270.60,648.05v-1.60h1.20v1.60zM272.70,648.05v-1.03h1.50v1.03zM275.10,648.05v-1.11h2.00v1.11zM277.10,648.05v-2.00h1.20v2.00zM279.20,648.05v-1.05h0.80v1.05zM280.00,648.05v-0.94h2.00v0.94zM282.90,648.05v-1.56h1.00v1.56zM284.50,648.05v-2.07h0.80v2.07zM285.30,648.05v-1.19h3.00v1.19zM288.30,648.05v-1.01h3.00v1.01zM291.30,648.05v-0.92h0.80v0.92zM292.70,648.05v-2.07h1.20v2.07zM293.90,648.05v-1.01h1.50v1.01zM296.30,648.05v-1.14h1.00v1.14zM297.90,648.05v-1.92h0.80v1.92zM298.70,648.05v-1.30h3.00v1.30zM301.70,648.05v-1.65h1.00v1.65zM302.70,648.05v-1.21h2.00v1.21zM304.70,648.05v-1.16h1.50v1.16zM306.80,648.05v-1.19h0.80v1.19zM307.60,648.05v-1.24h0.80v1.24zM308.40,648.05v-1.05h0.80v1.05zM309.20,648.05v-1.15h0.80v1.15zM310.90,648.05v-1.21h2.50v1.21zM314.60,648.05v-1.67h1.00v1.67zM315.60,648.05v-1.29h1.00v1.29zM317.50,648.05v-0.99h3.00v0.99zM320.50,648.05v-1.05h2.50v1.05zM323.00,648.05v-0.95h2.00v0.95zM325.00,648.05v-1.13h3.00v1.13zM329.20,648.05v-0.95h2.50v0.95zM331.70,648.05v-1.03h1.50v1.03zM333.20,648.05v-1.03h2.00v1.03zM335.80,648.05v-1.15h3.00v1.15zM338.80,648.05v-1.25h0.80v1.25zM339.60,648.05v-1.78h1.20v1.78zM341.70,648.05v-1.02h0.80v1.02zM342.50,648.05v-0.97h2.50v0.97zM345.00,648.05v-2.34h1.20v2.34zM347.40,648.05v-2.30h1.20v2.30zM348.60,648.05v-1.16h0.80v1.16zM349.40,648.05v-1.25h3.00v1.25zM353.60,648.05v-1.23h1.50v1.23zM355.10,648.05v-1.19h2.50v1.19zM358.80,648.05v-1.16h2.00v1.16zM361.40,648.05v-1.24h3.00v1.24zM365.30,648.05v-1.13h1.50v1.13zM366.80,648.05v-2.13h0.80v2.13zM367.60,648.05v-2.03h1.20v2.03zM368.80,648.05v-1.00h2.50v1.00zM371.30,648.05v-1.18h0.80v1.18zM373.30,648.05v-0.90h1.00v0.90zM374.30,648.05v-1.21h2.50v1.21zM378.00,648.05v-1.08h2.50v1.08zM381.40,648.05v-1.25h0.80v1.25zM382.80,648.05v-1.26h1.50v1.26zM384.30,648.05v-1.13h2.50v1.13zM386.80,648.05v-0.92h2.50v0.92zM390.20,648.05v-1.27h1.00v1.27zM391.80,648.05v-2.19h1.20v2.19zM393.00,648.05v-1.08h0.80v1.08zM393.80,648.05v-1.89h1.20v1.89zM395.00,648.05v-1.06h1.50v1.06zM396.50,648.05v-2.17h1.20v2.17zM398.30,648.05v-1.18h0.80v1.18zM399.10,648.05v-1.18h1.50v1.18zM185.50,648.05v-4.00h0.9v4.00zM186.30,648.05v-2.59h0.9v2.59zM187.10,648.05v-2.04h0.9v2.04zM187.90,648.05v-2.86h0.9v2.86zM188.70,648.05v-3.31h0.9v3.31zM189.50,648.05v-2.64h0.9v2.64zM198.00,648.05v-2.49h0.9v2.49zM198.80,648.05v-2.14h0.9v2.14zM199.60,648.05v-1.27h0.9v1.27zM200.40,648.05v-1.89h0.9v1.89zM201.20,648.05v-2.38h0.9v2.38zM202.00,648.05v-2.19h0.9v2.19zM202.80,648.05v-2.47h0.9v2.47zM203.60,648.05v-1.63h0.9v1.63zM204.40,648.05v-2.04h0.9v2.04zM205.20,648.05v-1.24h0.9v1.24zM206.00,648.05v-2.47h0.9v2.47zM206.80,648.05v-2.09h0.9v2.09zM207.60,648.05v-2.13h0.9v2.13zM256.00,648.05v-1.89h0.9v1.89zM256.80,648.05v-2.44h0.9v2.44zM257.60,648.05v-2.41h0.9v2.41zM258.40,648.05v-1.93h0.9v1.93zM259.20,648.05v-2.77h0.9v2.77zM338.00,648.05v-6.80h0.9v6.80zM338.80,648.05v-5.49h0.9v5.49zM339.60,648.05v-7.94h0.9v7.94zM340.40,648.05v-6.43h0.9v6.43zM341.20,648.05v-6.08h0.9v6.08zM342.00,648.05v-6.06h0.9v6.06zM342.80,648.05v-6.44h0.9v6.44zM343.60,648.05v-6.62h0.9v6.62zM344.40,648.05v-7.98h0.9v7.98zM345.20,648.05v-5.57h0.9v5.57zM346.00,648.05v-6.97h0.9v6.97zM346.80,648.05v-6.51h0.9v6.51zM85.60,648.05L87.00,646.09L87.00,644.05L88.20,644.05L88.20,646.09L89.60,648.05zM185.55,648.05L186.95,645.95L186.95,643.75L188.05,643.75L188.05,645.95L189.45,648.05zM190.50,648.05L191.90,644.64L191.90,640.85L193.10,640.85L193.10,644.64L194.50,648.05zM253.25,648.05L254.65,642.58L254.65,636.25L255.85,636.25L255.85,642.58L257.25,648.05zM333.05,648.05L334.45,646.85L334.45,645.75L335.55,645.75L335.55,646.85L336.95,648.05zM339.00,648.05L340.40,642.89L340.40,636.95L341.60,636.95L341.60,642.89L343.00,648.05zM341.20,648.05L342.60,643.25L342.60,637.75L343.80,637.75L343.80,643.25L345.20,648.05z" fill="#00ee00"/>
<rect x="73.10" y="650.00" width="328.00" height="1.50" fill="#b2b2b2"/>
<rect x="88.50" y="653.20" width="1.30" height="1.00" fill="#7070e8"/>
<rect x="91.50" y="653.20" width="1.30" height="1.00" fill="#7070e8"/>
<rect x="94.50" y="653.20" width="1.30" height="1.00" fill="#7070e8"/>
<rect x="97.50" y="653.20" width="1.30" height="1.00" fill="#7070e8"/>
<rect x="100.50" y="653.20" width="1.30" height="1.00" fill="#7070e8"/>
<rect x="103.50" y="653.20" width="1.30" height="1.00" fill="#7070e8"/>
<rect x="106.50" y="653.20" width="1.30" height="1.00" fill="#7070e8"/>
<rect x="109.50" y="653.20" width="1.30" height="1.00" fill="#7070e8"/>
<rect x="112.50" y="653.20" width="1.30" height="1.00" fill="#7070e8"/>
<rect x="115.50" y="653.20" width="1.30" height="1.00" fill="#7070e8"/>
<rect x="118.50" y="653.20" width="1.30" height="1.00" fill="#7070e8"/>
<rect x="121.50" y="653.20" width="1.30" height="1.00" fill="#7070e8"/>
<rect x="124.50" y="653.20" width="1.30" height="1.00" fill="#7070e8"/>
<rect x="127.50" y="653.20" width="1.30" height="1.00" fill="#7070e8"/>
<rect x="130.50" y="653.20" width="1.30" height="1.00" fill="#7070e8"/>
<rect x="133.50" y="653.20" width="1.30" height="1.00" fill="#7070e8"/>
<rect x="136.50" y="653.20" width="1.30" height="1.00" fill="#7070e8"/>
<rect x="139.50" y="653.20" width="1.30" height="1.00" fill="#7070e8"/>
<rect x="142.50" y="653.20" width="1.30" height="1.00" fill="#7070e8"/>
<rect x="145.50" y="653.20" width="1.30" height="1.00" fill="#7070e8"/>
<rect x="148.50" y="653.20" width="1.30" height="1.00" fill="#7070e8"/>
<rect x="151.50" y="653.20" width="1.30" height="1.00" fill="#7070e8"/>
<rect x="154.50" y="653.20" width="1.30" height="1.00" fill="#7070e8"/>
<rect x="157.50" y="653.20" width="1.30" height="1.00" fill="#7070e8"/>
<rect x="160.50" y="653.20" width="1.30" height="1.00" fill="#7070e8"/>
<rect x="163.50" y="653.20" width="1.30" height="1.00" fill="#7070e8"/>
<rect x="166.50" y="653.20" width="1.30" height="1.00" fill="#7070e8"/>
<rect x="169.50" y="653.20" width="1.30" height="1.00" fill="#7070e8"/>
<rect x="172.50" y="653.20" width="1.30" height="1.00" fill="#7070e8"/>
<rect x="175.50" y="653.20" width="1.30" height="1.00" fill="#7070e8"/>
<rect x="178.50" y="653.20" width="1.30" height="1.00" fill="#7070e8"/>
<rect x="181.50" y="653.20" width="1.30" height="1.00" fill="#7070e8"/>
<rect x="184.50" y="653.20" width="1.30" height="1.00" fill="#7070e8"/>
<rect x="187.50" y="653.20" width="1.30" height="1.00" fill="#7070e8"/>
<rect x="190.50" y="653.20" width="1.30" height="1.00" fill="#7070e8"/>
<rect x="193.50" y="653.20" width="1.30" height="1.00" fill="#7070e8"/>
<rect x="196.50" y="653.20" width="1.30" height="1.00" fill="#7070e8"/>
<rect x="199.50" y="653.20" width="1.30" height="1.00" fill="#7070e8"/>
<rect x="202.50" y="653.20" width="1.30" height="1.00" fill="#7070e8"/>
<rect x="205.50" y="653.20" width="1.30" height="1.00" fill="#7070e8"/>
<rect x="208.50" y="653.20" width="1.30" height="1.00" fill="#7070e8"/>
<rect x="211.50" y="653.20" width="1.30" height="1.00" fill="#7070e8"/>
<rect x="214.50" y="653.20" width="1.30" height="1.00" fill="#7070e8"/>
<rect x="217.50" y="653.20" width="1.30" height="1.00" fill="#7070e8"/>
<rect x="220.50" y="653.20" width="1.30" height="1.00" fill="#7070e8"/>
<rect x="223.50" y="653.20" width="1.30" height="1.00" fill="#7070e8"/>
<rect x="226.50" y="653.20" width="1.30" height="1.00" fill="#7070e8"/>
<rect x="229.50" y="653.20" width="1.30" height="1.00" fill="#7070e8"/>
<rect x="232.50" y="653.20" width="1.30" height="1.00" fill="#7070e8"/>
<rect x="235.50" y="653.20" width="1.30" height="1.00" fill="#7070e8"/>
<rect x="238.50" y="653.20" width="1.30" height="1.00" fill="#7070e8"/>
<rect x="241.50" y="653.20" width="1.30" height="1.00" fill="#7070e8"/>
<rect x="244.50" y="653.20" width="1.30" height="1.00" fill="#7070e8"/>
<rect x="247.50" y="653.20" width="1.30" height="1.00" fill="#7070e8"/>
<rect x="250.50" y="653.20" width="1.30" height="1.00" fill="#7070e8"/>
<rect x="253.50" y="653.20" width="1.30" height="1.00" fill="#7070e8"/>
<rect x="256.50" y="653.20" width="1.30" height="1.00" fill="#7070e8"/>
<rect x="259.50" y="653.20" width="1.30" height="1.00" fill="#7070e8"/>
<rect x="262.50" y="653.20" width="1.30" height="1.00" fill="#7070e8"/>
<rect x="265.50" y="653.20" width="1.30" height="1.00" fill="#7070e8"/>
<rect x="268.50" y="653.20" width="1.30" height="1.00" fill="#7070e8"/>
<rect x="271.50" y="653.20" width="1.30" height="1.00" fill="#7070e8"/>
<rect x="274.50" y="653.20" width="1.30" height="1.00" fill="#7070e8"/>
<rect x="277.50" y="653.20" width="1.30" height="1.00" fill="#7070e8"/>
<rect x="280.50" y="653.20" width="1.30" height="1.00" fill="#7070e8"/>
<rect x="283.50" y="653.20" width="1.30" height="1.00" fill="#7070e8"/>
<rect x="286.50" y="653.20" width="1.30" height="1.00" fill="#7070e8"/>
<rect x="289.50" y="653.20" width="1.30" height="1.00" fill="#7070e8"/>
<rect x="292.50" y="653.20" width="1.30" height="1.00" fill="#7070e8"/>
<rect x="295.50" y="653.20" width="1.30" height="1.00" fill="#7070e8"/>
<rect x="298.50" y="653.20" width="1.30" height="1.00" fill="#7070e8"/>
<rect x="301.50" y="653.20" width="1.30" height="1.00" fill="#7070e8"/>
<rect x="304.50" y="653.20" width="1.30" height="1.00" fill="#7070e8"/>
<rect x="307.50" y="653.20" width="1.30" height="1.00" fill="#7070e8"/>
<rect x="310.50" y="653.20" width="1.30" height="1.00" fill="#7070e8"/>
<rect x="313.50" y="653.20" width="1.30" height="1.00" fill="#7070e8"/>
<rect x="316.50" y="653.20" width="1.30" height="1.00" fill="#7070e8"/>
<rect x="319.50" y="653.20" width="1.30" height="1.00" fill="#7070e8"/>
<rect x="322.50" y="653.20" width="1.30" height="1.00" fill="#7070e8"/>
<rect x="325.50" y="653.20" width="1.30" height="1.00" fill="#7070e8"/>
<rect x="328.50" y="653.20" width="1.30" height="1.00" fill="#7070e8"/>
<rect x="331.50" y="653.20" width="1.30" height="1.00" fill="#7070e8"/>
<rect x="334.50" y="653.20" width="1.30" height="1.00" fill="#7070e8"/>
<rect x="337.50" y="653.20" width="1.30" height="1.00" fill="#7070e8"/>
<rect x="340.50" y="653.20" width="1.30" height="1.00" fill="#7070e8"/>
<rect x="343.50" y="653.20" width="1.30" height="1.00" fill="#7070e8"/>
<rect x="346.50" y="653.20" width="1.30" height="1.00" fill="#7070e8"/>
<rect x="349.50" y="653.20" width="1.30" height="1.00" fill="#7070e8"/>
<rect x="352.50" y="653.20" width="1.30" height="1.00" fill="#7070e8"/>
<rect x="355.50" y="653.20" width="1.30" height="1.00" fill="#7070e8"/>
<rect x="358.50" y="653.20" width="1.30" height="1.00" fill="#7070e8"/>
<rect x="361.50" y="653.20" width="1.30" height="1.00" fill="#7070e8"/>
<rect x="364.50" y="653.20" width="1.30" height="1.00" fill="#7070e8"/>
<rect x="367.50" y="653.20" width="1.30" height="1.00" fill="#7070e8"/>
<rect x="370.50" y="653.20" width="1.30" height="1.00" fill="#7070e8"/>
<rect x="373.50" y="653.20" width="1.30" height="1.00" fill="#7070e8"/>
<rect x="376.50" y="653.20" width="1.30" height="1.00" fill="#7070e8"/>
<rect x="379.50" y="653.20" width="1.30" height="1.00" fill="#7070e8"/>
<rect x="382.50" y="653.20" width="1.30" height="1.00" fill="#7070e8"/>
<rect x="385.50" y="653.20" width="1.30" height="1.00" fill="#7070e8"/>
<rect x="388.50" y="653.20" width="1.30" height="1.00" fill="#7070e8"/>
<rect x="391.50" y="653.20" width="1.30" height="1.00" fill="#7070e8"/>
<rect x="394.50" y="653.20" width="1.30" height="1.00" fill="#7070e8"/>
<rect x="397.50" y="653.20" width="1.30" height="1.00" fill="#7070e8"/>
<line x1="87.40" y1="653.70" x2="399.00" y2="653.70" stroke="#a0a0f0" stroke-width="0.5"/>
<circle cx="87.80" cy="653.70" r="1.10" fill="#8080e8"/>
<rect x="241.20" y="652.60" width="2.40" height="2.20" fill="#2020d0"/>
<line x1="73.10" y1="665.20" x2="401.10" y2="665.20" stroke="#e4e4e4" stroke-width="0.7"/>
<rect x="227.00" y="659.00" width="34.00" height="10.60" fill="#ffffff"/>
<text x="232.49" y="668.60" font-size="9.0" font-weight="bold" textLength="22.66" lengthAdjust="spacingAndGlyphs" fill="#000" stroke="#000" stroke-width="0.2">PVT1</text>
<line x1="329.60" y1="659.00" x2="354.40" y2="659.00" stroke="#ee1111" stroke-width="1.6"/>
<text x="358.17" y="661.90" font-size="8.8" font-weight="bold" textLength="36.25" lengthAdjust="spacingAndGlyphs" fill="#141414" stroke="#141414" stroke-width="0.2">Enhancer</text>
<rect x="75.40" y="667.30" width="1.70" height="2.40" fill="#1c1cb0" opacity="0.60"/>
<rect x="78.50" y="667.30" width="1.70" height="2.40" fill="#1c1cb0" opacity="0.64"/>
<rect x="81.80" y="667.30" width="1.70" height="2.40" fill="#1c1cb0" opacity="0.76"/>
<rect x="91.40" y="667.30" width="1.70" height="2.40" fill="#1c1cb0" opacity="0.87"/>
<rect x="95.20" y="667.30" width="1.70" height="2.40" fill="#1c1cb0" opacity="0.66"/>
<rect x="117.50" y="667.30" width="1.40" height="2.40" fill="#1c1cb0" opacity="0.64"/>
<rect x="176.00" y="667.30" width="3.20" height="2.40" fill="#1c1cb0" opacity="0.69"/>
<rect x="314.40" y="667.30" width="3.60" height="2.40" fill="#1c1cb0" opacity="0.90"/>
<rect x="337.00" y="667.30" width="14.00" height="2.40" fill="#1c1cb0" opacity="0.66"/>
<rect x="361.00" y="667.30" width="5.00" height="2.40" fill="#1c1cb0" opacity="0.90"/>
<rect x="381.00" y="667.30" width="7.00" height="2.40" fill="#1c1cb0" opacity="0.86"/>
<rect x="394.00" y="667.30" width="6.00" height="2.40" fill="#1c1cb0" opacity="0.65"/>
<rect x="139.00" y="681.80" width="3.20" height="2.40" fill="#1c1cb0" opacity="0.63"/>
<rect x="154.60" y="681.80" width="1.20" height="2.40" fill="#1c1cb0" opacity="0.69"/>
<rect x="162.80" y="681.80" width="1.20" height="2.40" fill="#1c1cb0" opacity="0.72"/>
<rect x="216.50" y="681.80" width="1.20" height="2.40" fill="#1c1cb0" opacity="0.96"/>
<rect x="236.80" y="681.80" width="1.20" height="2.40" fill="#1c1cb0" opacity="0.80"/>
<rect x="292.50" y="681.80" width="1.20" height="2.40" fill="#1c1cb0" opacity="0.89"/>
<rect x="302.00" y="681.80" width="2.00" height="2.40" fill="#1c1cb0" opacity="0.64"/>
<rect x="313.00" y="681.80" width="3.00" height="2.40" fill="#1c1cb0" opacity="0.80"/>
<rect x="331.00" y="681.80" width="2.00" height="2.40" fill="#1c1cb0" opacity="0.94"/>
<rect x="338.00" y="681.80" width="11.00" height="2.40" fill="#1c1cb0" opacity="0.81"/>
<rect x="365.60" y="681.80" width="1.20" height="2.40" fill="#1c1cb0" opacity="0.98"/>
<rect x="386.00" y="681.80" width="2.50" height="2.40" fill="#1c1cb0" opacity="0.95"/>
<line x1="73.10" y1="680.20" x2="401.10" y2="680.20" stroke="#e4e4e4" stroke-width="0.7"/>
<text x="73.50" y="679.00" font-size="2.75" fill="#4a4a4a">elcd_176_TXGMs_gene_</text>
<text x="150.80" y="679.00" font-size="2.75" fill="#4a4a4a">hg19_131_HgSMcsited_120_TXGMs_gene_</text>
<text x="336.00" y="679.00" font-size="2.75" fill="#4a4a4a">hg19_171_HgSMcsited_204_TXGMs</text>
<text x="114.00" y="693.00" font-size="2.75" fill="#4a4a4a">hg19_131_HgSMcsited_118_TXGMs_gene_</text>
<text x="173.00" y="693.00" font-size="2.75" fill="#4a4a4a">hg19_138_HgSMcsited_138_TXGMs_gene_</text>
<text x="338.00" y="693.00" font-size="2.75" fill="#4a4a4a">hg19_131_HgSMcsited_137_TXGMs_gene_</text>
<text x="276.94" y="676.90" font-size="8.4" textLength="84.46" lengthAdjust="spacingAndGlyphs" fill="#141414" stroke="#141414" stroke-width="0.3">H3K27Ac_log2FC: 0.72</text>
<text x="290.75" y="691.30" font-size="8.4" textLength="71.09" lengthAdjust="spacingAndGlyphs" fill="#141414" stroke="#141414" stroke-width="0.3">BRD4_log2FC: 0.65</text>
<rect x="72.60" y="579.0" width="329.00" height="116.6" fill="none" stroke="#5c5c5c" stroke-width="1"/>
<line x1="72.60" y1="579.20" x2="401.60" y2="579.20" stroke="#8a8a8a" stroke-width="1.3"/>
<text x="49.47" y="598.30" font-size="8.1" font-weight="bold" textLength="19.74" lengthAdjust="spacingAndGlyphs" fill="#141414" stroke="#141414" stroke-width="0.22">SET2</text>
<text x="34.95" y="614.70" font-size="8.1" font-weight="bold" textLength="34.12" lengthAdjust="spacingAndGlyphs" fill="#141414" stroke="#141414" stroke-width="0.22">OTX P/R</text>
<text x="49.47" y="630.70" font-size="8.1" font-weight="bold" textLength="19.74" lengthAdjust="spacingAndGlyphs" fill="#141414" stroke="#141414" stroke-width="0.22">SET2</text>
<text x="34.95" y="643.90" font-size="8.1" font-weight="bold" textLength="34.12" lengthAdjust="spacingAndGlyphs" fill="#141414" stroke="#141414" stroke-width="0.22">OTX P/R</text>
<text x="73.65" y="597.50" font-size="8.6" font-weight="bold" textLength="20.11" lengthAdjust="spacingAndGlyphs" fill="#0a0a0a" stroke="#0a0a0a" stroke-width="0.2">0-7.0</text>
<text x="73.65" y="613.40" font-size="8.6" font-weight="bold" textLength="20.11" lengthAdjust="spacingAndGlyphs" fill="#0a0a0a" stroke="#0a0a0a" stroke-width="0.2">0-7.0</text>
<text x="73.65" y="627.75" font-size="8.6" font-weight="bold" textLength="20.11" lengthAdjust="spacingAndGlyphs" fill="#0a0a0a" stroke="#0a0a0a" stroke-width="0.2">0-4.0</text>
<text x="73.65" y="642.50" font-size="8.6" font-weight="bold" textLength="20.11" lengthAdjust="spacingAndGlyphs" fill="#0a0a0a" stroke="#0a0a0a" stroke-width="0.2">0-4.0</text>
<text x="74.00" y="606.00" font-size="2.4200000000000004" fill="#4a4a4a">[0-7.00]</text>
<text x="74.00" y="620.60" font-size="2.4200000000000004" fill="#4a4a4a">[0-7.00]</text>
<text x="74.00" y="635.20" font-size="2.4200000000000004" fill="#4a4a4a">[0-7.00]</text>
<text x="30.00" y="618.59" font-size="8.3" font-weight="bold" textLength="38.85" lengthAdjust="spacingAndGlyphs" fill="#222" transform="rotate(-90 30.00 618.59)">H3K27Ac</text>
<line x1="31.10" y1="580.00" x2="31.10" y2="618.40" stroke="#333" stroke-width="0.7"/>
<text x="30.00" y="646.17" font-size="8.3" font-weight="bold" textLength="23.22" lengthAdjust="spacingAndGlyphs" fill="#222" transform="rotate(-90 30.00 646.17)">BRD4</text>
<line x1="31.10" y1="623.00" x2="31.10" y2="646.00" stroke="#333" stroke-width="0.7"/>
<line x1="0.50" y1="0.00" x2="0.50" y2="703.00" stroke="#000" stroke-width="1.2"/>
<line x1="0.00" y1="0.50" x2="520.00" y2="0.50" stroke="#000" stroke-width="1.2"/>
<line x1="519.30" y1="0.00" x2="519.30" y2="703.00" stroke="#000" stroke-width="1.5"/>
<line x1="0.00" y1="702.30" x2="520.00" y2="702.30" stroke="#000" stroke-width="1.5"/>
</svg>
</body></html>
